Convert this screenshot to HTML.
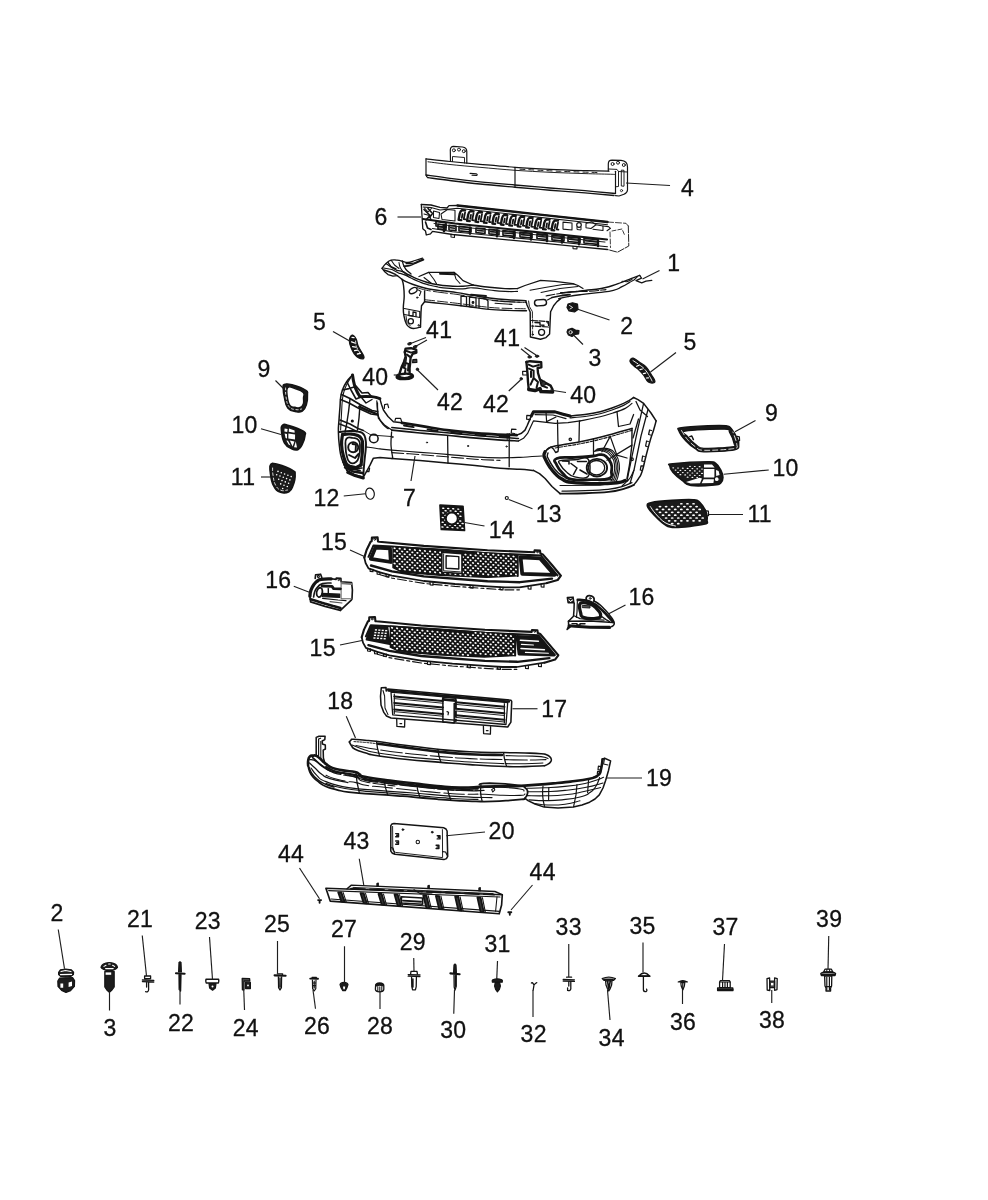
<!DOCTYPE html>
<html lang="en"><head><meta charset="utf-8"><title>Front bumper fascia parts diagram</title>
<style>html,body{margin:0;padding:0;background:#fff}body{width:988px;height:1200px;overflow:hidden}svg{display:block}text{font-family:"Liberation Sans",sans-serif;font-size:23px;letter-spacing:0.3px;fill:#111;stroke:#111;stroke-width:.3px}</style></head><body>
<svg width="988" height="1200" viewBox="0 0 988 1200">
<rect width="988" height="1200" fill="#fff"/>
<g id="part4" fill="none" stroke="#1c1c1c" stroke-width="1" stroke-linejoin="round" stroke-linecap="round">
<path d="M426 158.8 C430 159.25 441 160.58 450 161.5 C459 162.42 469.17 163.33 480 164.3 C490.83 165.27 503.33 166.47 515 167.3 C526.67 168.13 538.33 168.75 550 169.3 C561.67 169.85 575.17 170.28 585 170.6 C594.83 170.92 605 171.1 609 171.2" fill="none" stroke="#141414" stroke-width="1.18" />
<path d="M428 161.8 C431.67 162.25 441.33 163.58 450 164.5 C458.67 165.42 469.17 166.33 480 167.3 C490.83 168.27 503.33 169.47 515 170.3 C526.67 171.13 538.33 171.75 550 172.3 C561.67 172.85 575.17 173.28 585 173.6 C594.83 173.92 604 174.05 609 174.2 C614 174.35 614 174.45 615 174.5" fill="none" stroke="#141414" stroke-width="0.94" />
<path d="M426 175 C430 175.55 441 177.17 450 178.3 C459 179.43 469.17 180.68 480 181.8 C490.83 182.92 503.33 183.97 515 185 C526.67 186.03 538.33 187.05 550 188 C561.67 188.95 574.08 189.78 585 190.7 C595.92 191.62 610.42 193.03 615.5 193.5" fill="none" stroke="#141414" stroke-width="1.3" />
<path d="M428 177.6 C431.67 178.08 441.33 179.43 450 180.5 C458.67 181.57 469.17 182.88 480 184 C490.83 185.12 503.33 186.17 515 187.2 C526.67 188.23 538.33 189.25 550 190.2 C561.67 191.15 574.33 192.02 585 192.9 C595.67 193.78 609.17 195.07 614 195.5" fill="none" stroke="#141414" stroke-width="1.42" />
<path d="M426 158.8 L426 175 Q426.3 177 428 177.6" fill="none" stroke="#141414" stroke-width="1.18" />
<path d="M520 169.2 C526.67 169.55 546.67 170.73 560 171.3 C573.33 171.87 593.33 172.38 600 172.6" fill="none" stroke="#141414" stroke-width="0.94" stroke-dasharray="5 4"/>
<path d="M515 167.3 L515 187" fill="none" stroke="#141414" stroke-width="1.18" />
<path d="M470 173.4 L476.5 173.9 Q478 174.7 476.5 175.5 L472 175.2" fill="none" stroke="#141414" stroke-width="1.06" />
<path d="M450.5 161.5 L450.3 150 Q450.4 146.6 453.5 146.4 L462.5 147 Q466.8 147.6 466.8 151.5 L466.8 163.2" fill="none" stroke="#141414" stroke-width="1.18" />
<path d="M452.5 161.5 L452.5 156.5 L464.5 157.5 L464.5 163" fill="none" stroke="#141414" stroke-width="0.94" />
<circle cx="453.9" cy="150.3" r="1.5" fill="none" stroke="#141414" stroke-width="0.94"/>
<circle cx="459" cy="149.6" r="1.5" fill="none" stroke="#141414" stroke-width="0.94"/>
<circle cx="463.8" cy="151.2" r="1.5" fill="none" stroke="#141414" stroke-width="0.94"/>
<path d="M608.3 171 L608.3 164 Q608.3 160.2 612 160.2 L621 160.4 Q627.5 161 627.5 167 L627.5 190 Q627.3 193 624 194.2 L619 196 L615.5 195.6" fill="none" stroke="#141414" stroke-width="1.18" />
<path d="M615.5 171.3 L615.5 193.5" fill="none" stroke="#141414" stroke-width="1.18" />
<path d="M608.3 169 L617 169.4 L618.5 171.5 L618.5 186.5 L615.5 186.8" fill="none" stroke="#141414" stroke-width="0.94" />
<path d="M621.3 170.5 L621.3 186 L624 186.2 L624 170.7 Z" fill="none" stroke="#141414" stroke-width="0.94" />
<path d="M618.5 171.5 L627.3 172" fill="none" stroke="#141414" stroke-width="0.94" />
<circle cx="612.6" cy="164" r="1.5" fill="none" stroke="#141414" stroke-width="0.94"/>
<circle cx="618" cy="162.7" r="1.5" fill="none" stroke="#141414" stroke-width="0.94"/>
<circle cx="623.8" cy="165" r="1.5" fill="none" stroke="#141414" stroke-width="0.94"/>
<circle cx="621.5" cy="190.6" r="1.1" fill="none" stroke="#141414" stroke-width="0.83"/>
</g>
<g id="part6" fill="none" stroke="#1c1c1c" stroke-width="1" stroke-linejoin="round" stroke-linecap="round">
<path d="M421.3 204.5 L431 205 L440 207.3 L447 208 L449 205.6 L457.5 205.5 L500 210.18 L540 214.57 L575 218.43 L607.5 222" fill="none" stroke="#141414" stroke-width="1.3" />
<path d="M607.5 222 L626 223.3 L628.3 226" fill="none" stroke="#141414" stroke-width="0.83" stroke-dasharray="6 2"/>
<path d="M628.3 226 L628.8 246 L617.5 252.2 L607.5 249.5" fill="none" stroke="#141414" stroke-width="0.94" stroke-dasharray="7 1.5"/>
<path d="M607.5 249.5 L575 246.36 L540 242.97 L500 239.1 L452.5 234.5 L432.5 231.3 L430.5 233.8 L426.3 235 L425.5 231 L422.8 228.8 L421.3 204.5" fill="none" stroke="#141414" stroke-width="1.3" />
<path d="M423 207 L431 207.6 L440 210 L457.5 208.3 L607.5 224.8" fill="none" stroke="#141414" stroke-width="1.06" />
<path d="M423 219 L434 220.5 L455 223.5 L607 239.46" fill="none" stroke="#141414" stroke-width="2.12" />
<path d="M434 223.5 L455 226.3 L605 242.06" fill="none" stroke="#141414" stroke-width="0.94" />
<path d="M432.5 228.6 L452.5 231.8 L607.5 246.7" fill="none" stroke="#141414" stroke-width="1.06" />
<path d="M424.5 208 L428 212 L431.5 208.5 M424 214 L429.5 215.5 L431 219.5 M433.5 211 L439.5 212.5 L439 218.5 L433.5 217.5Z" fill="none" stroke="#141414" stroke-width="1.06" />
<path d="M441 214 L447.5 209.5 L455 210.3 L455 221 L442 219.5Z" fill="none" stroke="#141414" stroke-width="1.06" />
<path d="M424 209.5 L430 215.5 L426 220 M428 208.5 L432.5 213.5 L429.5 217.5 M425.5 222 L427.5 228 L431 229.5 M436 221.5 L446 223 L446 227.5 L436 226Z" fill="none" stroke="#141414" stroke-width="1.65" />
<path d="M465.1 210.41 L462.1 210.11 Q460.3 211.01 459.7 213.81 L458.6 219.81 L461.3 220.11" fill="none" stroke="#141414" stroke-width="2.36" />
<path d="M465.1 212.31 L463.7 219.21 L465.5 219.41 M462.5 214.01 L461.8 217.81" fill="none" stroke="#141414" stroke-width="1.77" />
<path d="M473.55 211.34 L470.55 211.04 Q468.75 211.94 468.15 214.74 L467.05 220.74 L469.75 221.04" fill="none" stroke="#141414" stroke-width="2.36" />
<path d="M473.55 213.24 L472.15 220.14 L473.95 220.34 M470.95 214.94 L470.25 218.74" fill="none" stroke="#141414" stroke-width="1.77" />
<path d="M482 212.27 L479 211.97 Q477.2 212.87 476.6 215.67 L475.5 221.67 L478.2 221.97" fill="none" stroke="#141414" stroke-width="2.36" />
<path d="M482 214.17 L480.6 221.07 L482.4 221.27 M479.4 215.87 L478.7 219.67" fill="none" stroke="#141414" stroke-width="1.77" />
<path d="M490.45 213.2 L487.45 212.9 Q485.65 213.8 485.05 216.6 L483.95 222.6 L486.65 222.9" fill="none" stroke="#141414" stroke-width="2.36" />
<path d="M490.45 215.1 L489.05 222 L490.85 222.2 M487.85 216.8 L487.15 220.6" fill="none" stroke="#141414" stroke-width="1.77" />
<path d="M498.9 214.13 L495.9 213.83 Q494.1 214.73 493.5 217.53 L492.4 223.53 L495.1 223.83" fill="none" stroke="#141414" stroke-width="2.36" />
<path d="M498.9 216.03 L497.5 222.93 L499.3 223.13 M496.3 217.73 L495.6 221.53" fill="none" stroke="#141414" stroke-width="1.77" />
<path d="M507.35 215.06 L504.35 214.76 Q502.55 215.66 501.95 218.46 L500.85 224.46 L503.55 224.76" fill="none" stroke="#141414" stroke-width="2.36" />
<path d="M507.35 216.96 L505.95 223.86 L507.75 224.06 M504.75 218.66 L504.05 222.46" fill="none" stroke="#141414" stroke-width="1.77" />
<path d="M515.8 215.99 L512.8 215.69 Q511 216.59 510.4 219.39 L509.3 225.39 L512 225.69" fill="none" stroke="#141414" stroke-width="2.36" />
<path d="M515.8 217.89 L514.4 224.79 L516.2 224.99 M513.2 219.59 L512.5 223.39" fill="none" stroke="#141414" stroke-width="1.77" />
<path d="M524.25 216.92 L521.25 216.62 Q519.45 217.52 518.85 220.32 L517.75 226.32 L520.45 226.62" fill="none" stroke="#141414" stroke-width="2.36" />
<path d="M524.25 218.82 L522.85 225.72 L524.65 225.92 M521.65 220.52 L520.95 224.32" fill="none" stroke="#141414" stroke-width="1.77" />
<path d="M532.7 217.85 L529.7 217.55 Q527.9 218.45 527.3 221.25 L526.2 227.25 L528.9 227.55" fill="none" stroke="#141414" stroke-width="2.36" />
<path d="M532.7 219.75 L531.3 226.65 L533.1 226.85 M530.1 221.45 L529.4 225.25" fill="none" stroke="#141414" stroke-width="1.77" />
<path d="M541.15 218.78 L538.15 218.48 Q536.35 219.38 535.75 222.18 L534.65 228.18 L537.35 228.48" fill="none" stroke="#141414" stroke-width="2.36" />
<path d="M541.15 220.68 L539.75 227.58 L541.55 227.78 M538.55 222.38 L537.85 226.18" fill="none" stroke="#141414" stroke-width="1.77" />
<path d="M549.6 219.7 L546.6 219.41 Q544.8 220.3 544.2 223.1 L543.1 229.1 L545.8 229.41" fill="none" stroke="#141414" stroke-width="2.36" />
<path d="M549.6 221.6 L548.2 228.5 L550 228.7 M547 223.3 L546.3 227.1" fill="none" stroke="#141414" stroke-width="1.77" />
<path d="M558.05 220.63 L555.05 220.33 Q553.25 221.23 552.65 224.03 L551.55 230.03 L554.25 230.33" fill="none" stroke="#141414" stroke-width="2.36" />
<path d="M558.05 222.53 L556.65 229.43 L558.45 229.63 M555.45 224.23 L554.75 228.03" fill="none" stroke="#141414" stroke-width="1.77" />
<path d="M457.5 205.5 L540 214.57 L607.5 222" fill="none" stroke="#141414" stroke-width="2.36" />
<path d="M563 222.1 L572 223.09 L572 230.09 L563 229.1Z" fill="none" stroke="#141414" stroke-width="1.06" />
<circle cx="579" cy="225" r="2.3" fill="none" stroke="#141414" stroke-width="1.18"/>
<path d="M577 227.2 L577 229.5 L581 230 L581 227.4" fill="none" stroke="#141414" stroke-width="0.94" />
<path d="M586 223.5 L592 221.8 L596 224.8 L591 228.5 L586 227.8Z M596 224.8 L603 226 L603 230.5 L593 229.2" fill="none" stroke="#141414" stroke-width="1.06" />
<path d="M603 226 L608.5 226.6 L610.5 228.3 L607 230.8" fill="none" stroke="#141414" stroke-width="1.06" />
<path d="M438 224.3 L446 225.07 L446 229.67 L438 228.9Z" fill="none" stroke="#141414" stroke-width="1.65" />
<path d="M439.5 226.7 L444.5 227.18" fill="none" stroke="#141414" stroke-width="1.53" />
<path d="M449 225.36 L456 226.04 L456 230.64 L449 229.96Z" fill="none" stroke="#141414" stroke-width="1.65" />
<path d="M450.5 227.76 L454.5 228.15" fill="none" stroke="#141414" stroke-width="1.53" />
<path d="M459 226.33 L471 227.49 L471 232.09 L459 230.93Z" fill="none" stroke="#141414" stroke-width="1.65" />
<path d="M460.5 228.73 L469.5 229.6" fill="none" stroke="#141414" stroke-width="1.53" />
<path d="M476 227.97 L485 228.85 L485 233.45 L476 232.57Z" fill="none" stroke="#141414" stroke-width="1.65" />
<path d="M477.5 230.37 L483.5 230.96" fill="none" stroke="#141414" stroke-width="1.53" />
<path d="M489 229.23 L499 230.2 L499 234.8 L489 233.83Z" fill="none" stroke="#141414" stroke-width="1.65" />
<path d="M490.5 231.63 L497.5 232.31" fill="none" stroke="#141414" stroke-width="1.53" />
<path d="M503 230.59 L515 231.75 L515 236.35 L503 235.19Z" fill="none" stroke="#141414" stroke-width="1.65" />
<path d="M504.5 232.99 L513.5 233.86" fill="none" stroke="#141414" stroke-width="1.53" />
<path d="M520 232.23 L532 233.4 L532 238 L520 236.83Z" fill="none" stroke="#141414" stroke-width="1.65" />
<path d="M521.5 234.63 L530.5 235.51" fill="none" stroke="#141414" stroke-width="1.53" />
<path d="M537 233.88 L547 234.85 L547 239.45 L537 238.48Z" fill="none" stroke="#141414" stroke-width="1.65" />
<path d="M538.5 236.28 L545.5 236.96" fill="none" stroke="#141414" stroke-width="1.53" />
<path d="M552 235.33 L564 236.5 L564 241.1 L552 239.93Z" fill="none" stroke="#141414" stroke-width="1.65" />
<path d="M553.5 237.73 L562.5 238.6" fill="none" stroke="#141414" stroke-width="1.53" />
<path d="M568 236.88 L580 238.04 L580 242.64 L568 241.48Z" fill="none" stroke="#141414" stroke-width="1.65" />
<path d="M569.5 239.28 L578.5 240.15" fill="none" stroke="#141414" stroke-width="1.53" />
<path d="M584 238.43 L598 239.79 L598 244.39 L584 243.03Z" fill="none" stroke="#141414" stroke-width="1.65" />
<path d="M585.5 240.83 L596.5 241.9" fill="none" stroke="#141414" stroke-width="1.53" />
<path d="M444 225.18 L444 231.18" fill="none" stroke="#141414" stroke-width="2.36" />
<path d="M470 227.69 L470 233.69" fill="none" stroke="#141414" stroke-width="2.36" />
<path d="M497 230.31 L497 236.31" fill="none" stroke="#141414" stroke-width="2.36" />
<path d="M514 231.95 L514 237.95" fill="none" stroke="#141414" stroke-width="2.36" />
<path d="M531 233.6 L531 239.6" fill="none" stroke="#141414" stroke-width="2.36" />
<path d="M547 235.15 L547 241.15" fill="none" stroke="#141414" stroke-width="2.36" />
<path d="M562 236.6 L562 242.6" fill="none" stroke="#141414" stroke-width="2.36" />
<path d="M579 238.25 L579 244.25" fill="none" stroke="#141414" stroke-width="2.36" />
<path d="M598 240.08 L598 246.08" fill="none" stroke="#141414" stroke-width="2.36" />
<path d="M451 234.6 L451 237 L454.5 237.5 L454.5 235" fill="none" stroke="#141414" stroke-width="1.06" />
<path d="M573 246.4 L573 248.6 L577 249 L577 246.6" fill="none" stroke="#141414" stroke-width="1.06" />
<path d="M612 231 L622 229 L625 236" fill="none" stroke="#141414" stroke-width="0.83" stroke-dasharray="4 2"/>
<path d="M610 232 L610.5 247.5" fill="none" stroke="#141414" stroke-width="0.83" stroke-dasharray="5 2"/>
</g>
<g id="part1" fill="none" stroke="#1c1c1c" stroke-width="1" stroke-linejoin="round" stroke-linecap="round">
<path d="M382 268.3 C383.07 267.02 383.55 265.66 386 263.5 C388.45 261.34 388.27 261.08 391.2 260.2 C394.13 259.32 394.04 259.93 397 260.2 C399.96 260.47 400.89 260.93 402.3 261.2" fill="none" stroke="#141414" stroke-width="1.3" />
<path d="M382 268.3 L385 272 L388 274.6 L393 276.2 L397.3 275.6" fill="none" stroke="#141414" stroke-width="1.3" />
<path d="M386 263.5 L392 267.8 L397 270.5" fill="none" stroke="#141414" stroke-width="1.06" />
<path d="M391.2 260.2 L394.5 265 L399 268.5" fill="none" stroke="#141414" stroke-width="1.06" />
<path d="M383.5 268 L392 269.5 L398.5 273" fill="none" stroke="#141414" stroke-width="1.06" />
<path d="M402.3 261.2 C403.25 261.42 405.88 262.62 408 262.5 C410.12 262.38 412.57 261.22 415 260.5 C417.43 259.78 421.33 258.58 422.6 258.2" fill="none" stroke="#141414" stroke-width="1.3" />
<path d="M404 266.2 C405 266.08 407.83 266.12 410 265.5 C412.17 264.88 414.73 263.45 417 262.5 C419.27 261.55 422.5 260.25 423.6 259.8" fill="none" stroke="#141414" stroke-width="1.53" />
<path d="M402.3 261.2 C402.5 261.83 402.88 263.62 403.5 265 C404.12 266.38 404.75 268 406 269.5 C407.25 271 410.17 273.25 411 274" fill="none" stroke="#141414" stroke-width="1.3" />
<path d="M399 262.5 C399.17 263.25 399.33 265.5 400 267 C400.67 268.5 401.67 269.97 403 271.5 C404.33 273.03 407.17 275.42 408 276.2" fill="none" stroke="#141414" stroke-width="1.06" />
<path d="M397 270.5 C398.59 270.8 398.7 270.15 402.3 271.5 C405.9 272.85 404.74 272.87 409 275 C413.26 277.13 411.4 276.5 416.5 278.6 C421.6 280.7 419.85 280.2 426 282 C432.15 283.8 429.8 283.4 437 284.6 C444.2 285.8 442.2 285.52 450 286 C457.8 286.48 456.1 286.5 463 286.2 C469.9 285.9 470 285.36 473 285" fill="none" stroke="#141414" stroke-width="1.42" />
<path d="M419 276.5 L428.6 272.3 L454 272.3 L458 275.5 L463 280.6 L473 285" fill="none" stroke="#141414" stroke-width="1.3" />
<path d="M428.6 272.3 L434 279.5 L437 284.5" fill="none" stroke="#141414" stroke-width="1.06" />
<path d="M440 273.8 L455 274.2" fill="none" stroke="#141414" stroke-width="1.89" />
<path d="M454 272.3 L456 279 L460 283.5" fill="none" stroke="#141414" stroke-width="1.06" />
<path d="M424 277.5 L431 283" fill="none" stroke="#141414" stroke-width="1.06" />
<path d="M473 285 C475.73 285.38 484.07 286.7 489.4 287.3 C494.73 287.9 500.32 288.38 505 288.6 C509.68 288.82 515.42 288.6 517.5 288.6" fill="none" stroke="#141414" stroke-width="1.42" />
<path d="M399 273.2 C400.5 273.62 400.4 273.16 404 274.6 C407.6 276.04 406.8 276.02 411 278 C415.2 279.98 413.2 279.28 418 281.2 C422.8 283.12 421 282.66 427 284.4 C433 286.14 431.1 285.8 438 287 C444.9 288.2 442.5 287.86 450 288.4 C457.5 288.94 456.1 288.98 463 288.8 C469.9 288.62 465.08 287.44 473 287.8 C480.92 288.16 479.8 288.92 489.4 290 C499 291.08 496.57 290.98 505 291.4 C513.43 291.82 513.75 291.4 517.5 291.4" fill="none" stroke="#141414" stroke-width="1.18" />
<path d="M384 270 L390 272 L396 274.6" fill="none" stroke="#141414" stroke-width="1.53" />
<path d="M388 262.4 L391 266.6 L396 269" fill="none" stroke="#141414" stroke-width="1.42" />
<path d="M406 263.6 C407.6 263.55 408.8 264.04 412 263.4 C415.2 262.76 415.01 262.37 418 261.2 C420.99 260.03 421.81 259.59 423.2 259" fill="none" stroke="#141414" stroke-width="1.18" />
<path d="M517.2 288.6 L525 285.5 L540.5 280.4 L555 281.4 L572.9 283.6 L578 285.5 L583 288.5" fill="none" stroke="#141414" stroke-width="1.3" />
<path d="M530 290.2 L545 287.5 L563 284.5 L574 284" fill="none" stroke="#141414" stroke-width="1.06" />
<path d="M541 292.5 L560 288.5 L578 286.5" fill="none" stroke="#141414" stroke-width="1.06" />
<path d="M397.3 275.6 C398.08 276.22 400.15 278.13 402 279.3 C403.85 280.47 405.9 281.52 408.4 282.6 C410.9 283.68 413.97 284.82 417 285.8 C420.03 286.78 422.43 287.67 426.6 288.5 C430.77 289.33 436.93 290.12 442 290.8 C447.07 291.48 451.83 291.83 457 292.6 C462.17 293.37 467.6 294.5 473 295.4 C478.4 296.3 483.57 297.27 489.4 298 C495.23 298.73 501.93 299.35 508 299.8 C514.07 300.25 522.83 300.55 525.8 300.7" fill="none" stroke="#141414" stroke-width="1.42" />
<path d="M417 287.6 C418.6 288.05 422.43 289.47 426.6 290.3 C430.77 291.13 436.93 291.92 442 292.6 C447.07 293.28 451.83 293.63 457 294.4 C462.17 295.17 467.6 296.3 473 297.2 C478.4 298.1 483.57 299.07 489.4 299.8 C495.23 300.53 501.93 301.15 508 301.6 C514.07 302.05 522.83 302.35 525.8 302.5" fill="none" stroke="#141414" stroke-width="0.94" stroke-dasharray="14 3"/>
<path d="M424.6 301.7 C427.5 302.02 435.93 302.92 442 303.6 C448.07 304.28 453.1 304.83 461 305.8 C468.9 306.77 481.57 308.63 489.4 309.4 C497.23 310.17 501.82 310.17 508 310.4 C514.18 310.63 523.42 310.73 526.5 310.8" fill="none" stroke="#141414" stroke-width="1.42" />
<path d="M424.6 299.7 C427.5 300.02 435.93 300.92 442 301.6 C448.07 302.28 453.1 302.83 461 303.8 C468.9 304.77 481.57 306.63 489.4 307.4 C497.23 308.17 501.82 308.17 508 308.4 C514.18 308.63 523.42 308.73 526.5 308.8" fill="none" stroke="#141414" stroke-width="0.94" stroke-dasharray="10 3"/>
<path d="M461 296 L461 305.8 M461 296 L466.5 296.6 L466.5 306.3 M469.5 297 L469.5 306.6 L476 307.3 L476 297.8Z M479 298.2 L479 307.6 M479 298.2 L486 299 L488 301 L488 308.4" fill="none" stroke="#141414" stroke-width="1.3" />
<path d="M471 294.6 L486 296" fill="none" stroke="#141414" stroke-width="1.89" />
<circle cx="473" cy="302.5" r="0.9" fill="#222" stroke="#141414" stroke-width="1.06"/>
<path d="M492 300.5 L505 301.6 L520 302.2 M495 303.3 L512 304.4" fill="none" stroke="#141414" stroke-width="1.06" />
<path d="M402 279.3 C402.35 280.75 402.99 281.6 403.5 285.5 C404.01 289.4 404.25 290.8 404.2 296 C404.15 301.2 403.35 303.13 403.3 307.8 C403.25 312.47 403.28 312.22 404 316 C404.72 319.78 405 321.29 406.4 324 C407.8 326.71 408.11 326.57 410 327.6 C411.89 328.63 412.05 328.54 414.5 328.4 C416.95 328.26 419.1 327.33 420.5 327" fill="none" stroke="#141414" stroke-width="1.42" />
<path d="M420.5 327 L421 312 L421.5 305.7 L424.6 301.7 L424.6 291" fill="none" stroke="#141414" stroke-width="1.42" />
<ellipse cx="413.2" cy="290.6" rx="4.2" ry="2.6" fill="none" stroke="#141414" stroke-width="1.42" transform="rotate(-28 413.2 290.6)"/>
<path d="M418.5 290 L421 291.5 L419.5 295.5" fill="none" stroke="#141414" stroke-width="1.06" />
<path d="M404.3 308.5 L419.8 311.5 L419.8 317.5 L404.5 314.5" fill="none" stroke="#141414" stroke-width="1.18" />
<path d="M409 311 L409 315.5 L413 316.2 L413 312 L416 312.5 L416 316.5" fill="none" stroke="#141414" stroke-width="1.3" />
<circle cx="410.8" cy="321.3" r="2.6" fill="none" stroke="#141414" stroke-width="1.3"/>
<circle cx="418.6" cy="325.3" r="0.7" fill="none" stroke="#141414" stroke-width="0.94"/>
<circle cx="417.2" cy="297.6" r="0.7" fill="none" stroke="#141414" stroke-width="0.94"/>
<path d="M406 316 L407 322.5 L410.5 326" fill="none" stroke="#141414" stroke-width="0.94" />
<path d="M525.8 300.7 L527 305 L530.2 312 L530.4 337 L540.5 339.2 L546 337.6 L549.6 334 L550.2 320 L550.6 311.8 L553.6 305.7 L557 301.6 L560.7 298.6" fill="none" stroke="#141414" stroke-width="1.42" />
<path d="M528.6 301 L529.4 306.5 L532.4 311.6 L532.4 318" fill="none" stroke="#141414" stroke-width="0.94" />
<path d="M534.5 302.7 a3 3 0 0 1 3 -3 h6 a3 3 0 0 1 0 6 h-6 a3 3 0 0 1 -3 -3Z" fill="none" stroke="#141414" stroke-width="1.42" transform="rotate(-4 540.5 302.7)"/>
<path d="M547.5 300 L552 297.5" fill="none" stroke="#141414" stroke-width="1.06" />
<path d="M531.5 320.5 L548.5 321.5 L548.5 327 L531.5 326" fill="none" stroke="#141414" stroke-width="1.18" stroke-dasharray="6 1.5"/>
<path d="M535 322.5 L540 322.8 L540 325 L544 325.2" fill="none" stroke="#141414" stroke-width="1.42" />
<circle cx="541.6" cy="332.3" r="3" fill="none" stroke="#141414" stroke-width="1.3"/>
<circle cx="532.8" cy="334.6" r="0.7" fill="none" stroke="#141414" stroke-width="0.94"/>
<circle cx="547.6" cy="322.5" r="0.7" fill="none" stroke="#141414" stroke-width="0.94"/>
<path d="M532.6 319 L532.6 335" fill="none" stroke="#141414" stroke-width="0.83" stroke-dasharray="4 2"/>
<path d="M560.7 292.8 C563.71 292.59 565.52 292.61 572 292 C578.48 291.39 577.21 291.43 585 290.5 C592.79 289.57 594 289.75 601.2 288.5 C608.4 287.25 606.59 287.43 612 285.8 C617.41 284.17 616.43 284.32 621.5 282.4 C626.57 280.48 626.15 280.47 631 278.6 C635.85 276.73 637.38 276.25 639.7 275.4" fill="none" stroke="#141414" stroke-width="1.42" />
<path d="M558.7 298.6 C561.18 298.07 562.05 297.67 568 296.6 C573.95 295.53 573 295.67 581 294.6 C589 293.53 589.36 293.75 598 292.6 C606.64 291.45 607 291.9 613.4 290.3 C619.8 288.7 617.68 288.71 622 286.6 C626.32 284.49 627.57 283.52 629.6 282.4" fill="none" stroke="#141414" stroke-width="1.3" />
<path d="M546 296 C549.73 295.33 552.27 294.7 560 293.5 C567.73 292.3 567 292.09 575 291.5 C583 290.91 581.73 291.81 590 291.3 C598.27 290.79 601.73 290.05 606 289.6" fill="none" stroke="#141414" stroke-width="1.06" stroke-dasharray="9 2"/>
<path d="M552 297.5 L562 295.5 L570 294.6" fill="none" stroke="#141414" stroke-width="1.77" />
<path d="M639.7 275.4 L641.5 278.2 L636 280.6 L641.7 282.8 L646 281.2 L651.8 280.4" fill="none" stroke="#141414" stroke-width="1.3" />
<path d="M629.6 282.4 L634 280 L637.5 276.6" fill="none" stroke="#141414" stroke-width="1.06" />
<path d="M622 281.2 L627 281.8 L632 279.4" fill="none" stroke="#141414" stroke-width="1.06" />
<path d="M568 304 L572.5 302.8 L577.5 304 L578 309.5 L574.5 312 L569 311 L567 307.5Z" fill="#161616" stroke="#141414" stroke-width="1.18" />
<path d="M569.5 305.5 L572 307 M570 309 L572.5 307.5" fill="none" stroke="#ddd" stroke-width="0.94" />
<path d="M568 329.5 L572 328.2 L575.5 330 L579 330.6 L578.6 334 L575 334.4 L572 336.4 L568.4 335 L567 332Z" fill="#161616" stroke="#141414" stroke-width="1.18" />
<circle cx="570.6" cy="332.2" r="1.6" fill="none" stroke="#ddd" stroke-width="0.94"/>
</g>
<g id="part7" fill="none" stroke="#1c1c1c" stroke-width="1" stroke-linejoin="round" stroke-linecap="round">
<path d="M352.5 375 C350.9 376.87 349.17 378 346.5 382 C343.83 386 344.07 385.73 342.5 390 C340.93 394.27 341.27 393.55 340.6 398 C339.93 402.45 340.43 400.83 340 406.7 C339.57 412.57 339.43 413.31 339 420 C338.57 426.69 338.29 424.87 338.4 431.8 C338.51 438.73 338.52 438.88 339.4 446 C340.28 453.12 339.75 452.05 341.7 458.5 C343.65 464.95 345.37 467.08 346.7 470.2" fill="none" stroke="#141414" stroke-width="1.53" />
<path d="M346.7 470.2 L354 474.5 L363.4 477.2 L366.5 471.5 L370 465.2 L373.4 458.2 L380 457.6 L391.8 458.5" fill="none" stroke="#141414" stroke-width="1.53" />
<path d="M391.8 458.5 C396.5 458.85 410.82 459.87 420 460.6 C429.18 461.33 437.73 462.07 446.9 462.9 C456.07 463.73 466.15 464.7 475 465.6 C483.85 466.5 492.5 467.68 500 468.3 C507.5 468.92 514.43 468.95 520 469.3 C525.57 469.65 531.17 470.22 533.4 470.4" fill="none" stroke="#141414" stroke-width="1.53" />
<path d="M533.4 470.4 L539.5 473.6 L545.1 478.5 L552 486.5 L560.1 493.6" fill="none" stroke="#141414" stroke-width="1.53" />
<path d="M560.1 493.6 C564.25 493.55 576.92 493.58 585 493.3 C593.08 493.02 602.43 492.57 608.6 491.9 C614.77 491.23 617.83 490.42 622 489.3 C626.17 488.18 631.67 485.88 633.6 485.2" fill="none" stroke="#141414" stroke-width="1.89" />
<path d="M562 491.2 C565.83 491.12 577.33 491.02 585 490.7 C592.67 490.38 601.83 489.98 608 489.3 C614.17 488.62 618 487.72 622 486.6 C626 485.48 630.33 483.27 632 482.6" fill="none" stroke="#141414" stroke-width="1.18" />
<path d="M633.6 485.2 C634.91 483.44 636.26 482.17 638.5 478.6 C640.74 475.03 640 477.83 642 471.8 C644 465.77 643.79 464.45 646 456 C648.21 447.55 648.27 447.03 650.3 440.1 C652.33 433.17 652.05 435.12 653.6 430 C655.15 424.88 655.43 423.33 656.1 420.9" fill="none" stroke="#141414" stroke-width="1.53" />
<path d="M656.1 420.9 L651 413 L643.6 403.4 L638 399.6 L633.6 397.5" fill="none" stroke="#141414" stroke-width="1.53" />
<path d="M352.5 375 C352.67 376 353.08 379.05 353.5 381 C353.92 382.95 354.33 384.78 355 386.7 C355.67 388.62 356.67 390.83 357.5 392.5 C358.33 394.17 359.58 396 360 396.7" fill="none" stroke="#141414" stroke-width="3.07" />
<path d="M350.5 378 C349.57 379.6 348.73 380.4 347 384 C345.27 387.6 345.23 387.23 344 391.5 C342.77 395.77 343.04 394.53 342.4 400 C341.76 405.47 342.08 404 341.6 412 C341.12 420 340.87 425.2 340.6 430" fill="none" stroke="#141414" stroke-width="1.06" />
<path d="M360 396.7 L366 396.5 L371.7 396.7 L376 397.5 L380 399.2 L381.5 404.5 L383.4 410 L388 416.5 L393.4 421.8 L401.8 422.8" fill="none" stroke="#141414" stroke-width="1.42" />
<path d="M401.8 422.8 C405.67 423.43 417.48 425.38 425 426.6 C432.52 427.82 439.4 429.1 446.9 430.1 C454.4 431.1 461.98 431.9 470 432.6 C478.02 433.3 487.22 433.88 495 434.3 C502.78 434.72 513.08 434.97 516.7 435.1" fill="none" stroke="#141414" stroke-width="2.71" />
<path d="M516.7 435.1 L521.5 433.3 L525 430.1 L527.2 425.5 L529.2 420.9 L531.3 416 L533.4 411.7 L555.1 411.7 L563 414 L570.1 415.9" fill="none" stroke="#141414" stroke-width="1.53" />
<path d="M570.1 415.9 C572.58 415.67 579.98 415.2 585 414.5 C590.02 413.8 595.7 412.78 600.2 411.7 C604.7 410.62 608.1 409.38 612 408 C615.9 406.62 620.77 404.63 623.6 403.4 C626.43 402.17 627.33 401.58 629 400.6 C630.67 399.62 632.83 398.02 633.6 397.5" fill="none" stroke="#141414" stroke-width="1.53" />
<path d="M531.3 416 L533.4 411.9 L555.1 411.9 L563 414.2 L570.1 416.1" fill="none" stroke="#141414" stroke-width="3.07" />
<path d="M570.1 417.9 C572.58 417.67 579.98 417.2 585 416.5 C590.02 415.8 595.7 414.78 600.2 413.7 C604.7 412.62 608.1 411.38 612 410 C615.9 408.62 620.6 406.8 623.6 405.4 C626.6 404 628.93 402.23 630 401.6" fill="none" stroke="#141414" stroke-width="1.18" />
<path d="M535 414.6 L553 415 L566 418.6" fill="none" stroke="#141414" stroke-width="1.18" />
<path d="M546 412 L546.6 421.6 L556 417" fill="none" stroke="#141414" stroke-width="1.18" />
<path d="M376.8 400.9 L377.5 410 L378.4 418.4 L384.5 425 L391.8 430.1" fill="none" stroke="#141414" stroke-width="1.18" />
<path d="M391.8 430.1 C396.5 430.58 410.82 432.13 420 433 C429.18 433.87 438.57 434.53 446.9 435.3 C455.23 436.07 461.98 436.88 470 437.6 C478.02 438.32 486.93 439.03 495 439.6 C503.07 440.17 514.5 440.77 518.4 441" fill="none" stroke="#141414" stroke-width="1.65" />
<path d="M391.8 427.5 C396.5 427.98 410.82 429.53 420 430.4 C429.18 431.27 438.57 431.93 446.9 432.7 C455.23 433.47 461.98 434.28 470 435 C478.02 435.72 486.93 436.43 495 437 C503.07 437.57 514.5 438.17 518.4 438.4" fill="none" stroke="#141414" stroke-width="1.53" />
<path d="M518.4 441 L523.5 438.3 L527.6 433.4 L530.6 427 L533.4 420.9 L555.1 423.4 L568 422.6 L580.2 420.9" fill="none" stroke="#141414" stroke-width="1.18" />
<path d="M580.2 420.9 C583.53 420.2 594.73 418.02 600.2 416.7 C605.67 415.38 608.82 414.38 613 413 C617.18 411.62 622.13 410 625.3 408.4 C628.47 406.8 630.88 404.23 632 403.4" fill="none" stroke="#141414" stroke-width="1.18" />
<path d="M404 425.5 C411.15 426.62 431.73 430.37 446.9 432.2 C462.07 434.03 483.65 435.7 495 436.5 C506.35 437.3 511.67 436.92 515 437" fill="none" stroke="#141414" stroke-width="1.89" stroke-dasharray="10 14"/>
<path d="M384.3 408.4 L384.6 404.6 L387.6 404 L388.6 407.6 M395 420.6 L395.6 418.3 L400.6 418.4 L401.8 422 M530.4 419.6 L526.6 419.2 L526.8 415.4 L531.4 415.6 M514.6 433.5 L511.2 433 L511.6 429.2 L516 429.4" fill="none" stroke="#141414" stroke-width="1.18" />
<path d="M365.9 446.8 C368.25 447.15 375.68 448.33 380 448.9 C384.32 449.47 385.13 449.63 391.8 450.2 C398.47 450.77 410.82 451.62 420 452.3 C429.18 452.98 437.73 453.55 446.9 454.3 C456.07 455.05 466.15 456.22 475 456.8 C483.85 457.38 492.5 457.72 500 457.8 C507.5 457.88 513.03 457.6 520 457.3 C526.97 457 538.17 456.22 541.8 456" fill="none" stroke="#141414" stroke-width="1.18" />
<path d="M391.8 452.6 C396.5 452.93 410.82 453.9 420 454.6 C429.18 455.3 437.73 456.03 446.9 456.8 C456.07 457.57 466.15 458.6 475 459.2 C483.85 459.8 495.83 460.2 500 460.4" fill="none" stroke="#141414" stroke-width="1.06" stroke-dasharray="12 3"/>
<path d="M363.4 430.5 L371 435 L391 436.5" fill="none" stroke="#141414" stroke-width="0.94" />
<path d="M391.6 431.8 C391.5 434 390.8 440.55 391 445 C391.2 449.45 392.5 456.25 392.8 458.5" fill="none" stroke="#141414" stroke-width="1.3" />
<path d="M447.6 436 L448 463.2" fill="none" stroke="#141414" stroke-width="1.3" />
<path d="M509.2 433.6 L509.2 466.8" fill="none" stroke="#141414" stroke-width="1.3" />
<path d="M507.2 433.6 L507.2 440" fill="none" stroke="#141414" stroke-width="0.94" />
<circle cx="427" cy="442.5" r="0.6" fill="none" stroke="#141414" stroke-width="0.94"/>
<circle cx="468" cy="446" r="0.6" fill="none" stroke="#141414" stroke-width="0.94"/>
<circle cx="392.5" cy="437" r="0.6" fill="none" stroke="#141414" stroke-width="0.94"/>
<circle cx="506.5" cy="446.5" r="0.6" fill="none" stroke="#141414" stroke-width="0.94"/>
<circle cx="373.8" cy="438.5" r="4.3" fill="none" stroke="#141414" stroke-width="1.59"/>
<path d="M342.5 390 L349 388.6 L355 386.7" fill="none" stroke="#141414" stroke-width="1.59" />
<path d="M341.5 394.5 L350 398.5 L360 404.5 L372 410.5 L377.5 411.5" fill="none" stroke="#141414" stroke-width="1.76" />
<path d="M340.6 399.5 L349 403 L359 408.5 L371 414 L377.8 415" fill="none" stroke="#141414" stroke-width="1.59" />
<path d="M347 382 L351 390 L356 399 L361 397" fill="none" stroke="#141414" stroke-width="1.59" />
<path d="M356 386 L362 393 L368 392.5 L371.7 396.7" fill="none" stroke="#141414" stroke-width="1.59" />
<path d="M361.5 397.5 L366 403 L372 399.5" fill="none" stroke="#141414" stroke-width="1.44" />
<path d="M350 399 L348.5 412 L346.5 425 L345 432" fill="none" stroke="#141414" stroke-width="1.44" />
<path d="M360 405 L359 418 L357.5 430" fill="none" stroke="#141414" stroke-width="1.44" />
<path d="M340 420 L350 424 L358 428.5 L363.4 430.5" fill="none" stroke="#141414" stroke-width="1.59" />
<path d="M339.6 424 L349 427.6 L357 431.5" fill="none" stroke="#141414" stroke-width="1.44" />
<circle cx="352.3" cy="421" r="0.8" fill="#222" stroke="#141414" stroke-width="1.59"/>
<path d="M339 432 C341.93 431.73 344.93 431.11 350 431 C355.07 430.89 354.43 430.8 358 431.6 C361.57 432.4 361.37 431.76 363.4 434 C365.43 436.24 364.93 436.59 365.6 440 C366.27 443.41 366.06 442.53 365.9 446.8 C365.74 451.07 365.51 450.88 365 456 C364.49 461.12 364.43 460.93 364 466 C363.57 471.07 363.56 472.6 363.4 475" fill="none" stroke="#141414" stroke-width="1.91" />
<path d="M342.5 434.6 C344.5 434.44 346.13 433.81 350 434 C353.87 434.19 353.93 433.97 357 435.3 C360.07 436.63 360.01 436.15 361.5 439 C362.99 441.85 362.47 441.47 362.6 446 C362.73 450.53 362.43 450.93 362 456 C361.57 461.07 361.27 462.6 361 465" fill="none" stroke="#141414" stroke-width="3.19" />
<path d="M342.5 434.6 C342.26 437.37 341.33 439.29 341.6 445 C341.87 450.71 341.93 450.53 343.5 456 C345.07 461.47 344.97 462.17 347.5 465.5 C350.03 468.83 349.4 468.63 353 468.5 C356.6 468.37 358.87 465.93 361 465" fill="none" stroke="#141414" stroke-width="3.19" />
<path d="M346.5 438.6 C348.47 436.2 349.77 437.55 353 438 C356.23 438.45 356.73 437.9 358.6 440.3 C360.47 442.7 359.89 442.81 360 447 C360.11 451.19 360.07 452 359 456 C357.93 460 358.4 460.24 356 462 C353.6 463.76 352.45 464.2 350 462.6 C347.55 461 347.97 460.16 346.8 456 C345.63 451.84 345.68 451.64 345.6 447 C345.52 442.36 344.53 441 346.5 438.6Z" fill="none" stroke="#141414" stroke-width="1.76" />
<circle cx="353.2" cy="447.3" r="5" fill="none" stroke="#141414" stroke-width="1.91"/>
<path d="M352.5 444 L356 444.5 L355.6 451 M349 455 L355 458 L358.5 454" fill="none" stroke="#141414" stroke-width="1.91" />
<path d="M344 461 L350 466.5 L357 468.5 L362 468" fill="none" stroke="#141414" stroke-width="1.59" />
<path d="M345 467.5 L353 471.5 L362.6 473" fill="none" stroke="#141414" stroke-width="2.4" />
<path d="M366.5 471.5 L368.8 471.6 L369.5 468.3" fill="none" stroke="#141414" stroke-width="1.44" />
<path d="M360 396.7 L366 396.3 L371.7 396.7 L376 397.3 L380 398.6" fill="none" stroke="#141414" stroke-width="2.83" />
<path d="M359.2 406.7 L368 410.6 L376.9 414" fill="none" stroke="#141414" stroke-width="2.36" />
<path d="M343 462 L350 465.6 L358 467.4" fill="none" stroke="#141414" stroke-width="1.89" />
<path d="M344 464.6 L351 468.4 L360 470.6" fill="none" stroke="#141414" stroke-width="1.89" />
<path d="M347.7 472.3 L355 475.6 L363.3 478" fill="none" stroke="#141414" stroke-width="3.07" />
<path d="M377.4 403 C377.45 404.87 377.28 406.27 377.6 410 C377.92 413.73 377.16 413.16 378.6 417 C380.04 420.84 380.41 421.31 383 424.4 C385.59 427.49 386.89 427.48 388.3 428.6" fill="none" stroke="#141414" stroke-width="1.42" />
<path d="M545.1 451.8 C545.75 451.17 547.33 448.97 549 448 C550.67 447.03 552.1 446.67 555.1 446 C558.1 445.33 562.82 444.7 567 444 C571.18 443.3 575.53 442.7 580.2 441.8 C584.87 440.9 590.27 439.72 595 438.6 C599.73 437.48 604.43 436.23 608.6 435.1 C612.77 433.97 616.1 432.92 620 431.8 C623.9 430.68 630 428.97 632 428.4" fill="none" stroke="#141414" stroke-width="1.56" />
<path d="M555.1 448 C557.08 447.67 562.82 446.7 567 446 C571.18 445.3 575.53 444.7 580.2 443.8 C584.87 442.9 590.27 441.72 595 440.6 C599.73 439.48 604.43 438.23 608.6 437.1 C612.77 435.97 616.1 434.92 620 433.8 C623.9 432.68 630 430.97 632 430.4" fill="none" stroke="#141414" stroke-width="1.13" stroke-dasharray="3 1.5"/>
<path d="M545.1 451.8 C544.81 452.65 544 453.21 544 455 C544 456.79 543.63 455.43 545.1 458.5 C546.57 461.57 546.83 462.5 549.5 466.5 C552.17 470.5 551.77 470.17 555.1 473.5 C558.43 476.83 557.55 476.63 562 479 C566.45 481.37 563 481.17 571.8 482.4 C580.6 483.63 582.95 483.52 595 483.6 C607.05 483.68 609 483.5 617 482.7 C625 481.9 622.87 481.16 625 480.6" fill="none" stroke="#141414" stroke-width="3.4" />
<path d="M548 453 C547.81 453.8 547.17 454.4 547.3 456 C547.43 457.6 547.11 456.33 548.5 459 C549.89 461.67 550.1 462.53 552.5 466 C554.9 469.47 554.43 469.17 557.5 472 C560.57 474.83 560.13 474.65 564 476.6 C567.87 478.55 563.73 478.29 572 479.3 C580.27 480.31 584.33 480.32 595 480.4 C605.67 480.48 607.47 479.81 612 479.6" fill="none" stroke="#141414" stroke-width="1.42" />
<path d="M632 428.4 L631.9 445 L629.5 465 L627 478.5" fill="none" stroke="#141414" stroke-width="1.42" />
<path d="M547 449.6 L551 447 L553.5 449 L555.6 452.5 L558 451.5 L558.6 446.5" fill="none" stroke="#141414" stroke-width="1.42" />
<path d="M556.8 458.5 C561.35 456.52 565.83 457.93 575 457.3 C584.17 456.68 587.25 456.68 593.5 456 C599.75 455.32 596.88 454.5 600 454.6 C603.12 454.7 603.23 454.17 606 456.4 C608.77 458.62 609.73 459.85 611.1 463.5 C612.48 467.15 612.12 467.25 611.5 471 C610.88 474.75 613.98 476.35 608.6 478.5 C603.23 480.65 599.2 479.38 590 479.6 C580.8 479.83 578.55 480.92 571.8 479.4 C565.05 477.88 566.75 477.05 563 473.5 C559.25 469.95 558.35 468.95 556.8 465.2 C555.25 461.45 552.25 460.48 556.8 458.5Z" fill="none" stroke="#141414" stroke-width="2.83" />
<path d="M560 460.6 C562.92 459.6 569.4 460.12 575 459.8 C580.6 459.48 585.4 455.66 588 459 C590.6 462.34 590.8 472.98 588 476.5 C585.2 480.02 578.4 477.6 574 476.6 C569.6 475.6 568.72 473.86 566 471.5 C563.28 469.14 561.6 466.98 560.4 464.8 C559.2 462.62 557.08 461.6 560 460.6Z" fill="none" stroke="#141414" stroke-width="1.42" />
<path d="M562.5 461 L569 461.2 L569 464 M571 463.5 L577 468 L573.5 474.5 M577.5 461.5 L586.5 461.5 M580 470 L587 474" fill="none" stroke="#141414" stroke-width="1.56" />
<ellipse cx="596.9" cy="467.7" rx="10.2" ry="8.8" fill="none" stroke="#141414" stroke-width="1.84"/>
<ellipse cx="596.5" cy="467.7" rx="8.2" ry="7.2" fill="none" stroke="#141414" stroke-width="1.27"/>
<path d="M594 451.5 C596.4 451.37 598.47 449.67 603 451 C607.53 452.33 607.93 452.77 611 456.5 C614.07 460.23 613.83 460.07 614.5 465 C615.17 469.93 614.43 470.73 613.5 475 C612.57 479.27 611.67 479.4 611 481" fill="none" stroke="#141414" stroke-width="1.13" />
<path d="M595 450.7 C597.53 450.57 599.81 448.81 604.5 450.2 C609.19 451.59 609.51 451.95 612.6 455.9 C615.69 459.85 615.43 459.91 616.1 465 C616.77 470.09 615.98 470.73 615.1 475 C614.22 479.27 613.41 479.4 612.8 481" fill="none" stroke="#141414" stroke-width="1.13" />
<path d="M596 449.9 C598.67 449.77 601.15 447.96 606 449.4 C610.85 450.84 611.08 451.14 614.2 455.3 C617.32 459.46 617.03 459.75 617.7 465 C618.37 470.25 617.53 470.73 616.7 475 C615.87 479.27 615.16 479.4 614.6 481" fill="none" stroke="#141414" stroke-width="1.13" />
<path d="M597 449.1 C599.8 448.97 602.49 447.11 607.5 448.6 C612.51 450.09 612.65 450.33 615.8 454.7 C618.95 459.07 618.63 459.59 619.3 465 C619.97 470.41 619.07 470.73 618.3 475 C617.53 479.27 616.91 479.4 616.4 481" fill="none" stroke="#141414" stroke-width="1.13" />
<path d="M593.5 438.6 L593.5 455 M610.2 436.4 L601.9 451.8 M610.2 436.4 L616.9 455.1 M631.9 445.1 L606.9 460.2 M616.9 455.1 L627 458 M557.5 420.5 L558 447 M579.4 421 L579 441.5 M617 411.8 L618.5 426.5 L630 424 L633.6 414.5" fill="none" stroke="#141414" stroke-width="1.27" />
<path d="M643.6 403.4 L638 428 L631.9 456.8 L626.9 481 M648 409.5 L641 436 L634 470 L630 483.5 M638.5 419 L633 438 M636 401.5 L640 410 L647.5 416.5" fill="none" stroke="#141414" stroke-width="1.27" />
<path d="M651.5 430.5 L649.6 430 L648.6 434.5 L650.5 435 M648.3 441.5 L646.6 441 L645.6 446 L647.3 446.6 M644.3 456.5 L642.6 456 L641.8 461 L643.4 461.4 M642.5 466 L641 465.8 L640.3 470 L641.6 470.3" fill="none" stroke="#141414" stroke-width="1.27" />
<circle cx="570.3" cy="439.3" r="1.2" fill="none" stroke="#141414" stroke-width="1.27"/>
<circle cx="631.9" cy="459.3" r="1.4" fill="none" stroke="#141414" stroke-width="1.27"/>
<path d="M622 486 C623.33 484.67 628 480.67 630 478 C632 475.33 633.33 471.33 634 470" fill="none" stroke="#141414" stroke-width="1.13" />
<path d="M560 485.5 L600 485.3 L628 480.6" fill="none" stroke="#141414" stroke-width="1.13" />
</g>
<g id="side" fill="none" stroke="#1c1c1c" stroke-width="1" stroke-linejoin="round" stroke-linecap="round">
<path d="M352.7 335.1 C353.92 335.52 355.18 336.96 356.3 339.2 C357.42 341.44 356.9 343.16 358.3 346.3 C359.7 349.44 362.2 352.48 363.3 354.9 C364.4 357.32 364.7 357.8 363.8 358.4 C362.9 359 360.72 358.82 358.8 357.9 C356.88 356.98 355.82 356.02 354.2 353.8 C352.58 351.58 351.66 349.22 350.7 346.8 C349.74 344.38 349.5 343.64 349.4 341.7 C349.3 339.76 349.54 338.42 350.2 337.1 C350.86 335.78 351.48 334.68 352.7 335.1Z" fill="#141414" stroke="#141414" stroke-width="1.18" />
<path d="M352 337.4 l2 0.2 M351.6 341.8 l3.2 1.2 M352.6 346.6 l3 0.6 M354.6 350.6 l3 -0.4 M357.4 354 l3 -0.6" fill="none" stroke="#fff" stroke-width="1.3" />
<path d="M355.6 341 C355.83 342.4 355.43 343.97 356.6 347 C357.77 350.03 359.67 352.37 360.6 354" fill="none" stroke="#fff" stroke-width="0.83" stroke-dasharray="3 2"/>
<path d="M630.1 360.1 C630.62 359.18 631.18 357.58 633.2 358.1 C635.22 358.62 637.58 360.88 640.2 362.7 C642.82 364.52 644.06 364.78 646.3 367.2 C648.54 369.62 649.68 371.86 651.4 374.8 C653.12 377.74 655.52 380.44 654.9 381.9 C654.28 383.36 650.52 383.42 648.3 382.1 C646.08 380.78 645.62 377.68 643.8 375.3 C641.98 372.92 641.12 372.02 639.2 370.2 C637.28 368.38 635.92 367.7 634.2 366.2 C632.48 364.7 631.42 363.92 630.6 362.7 C629.78 361.48 629.58 361.02 630.1 360.1Z" fill="#141414" stroke="#141414" stroke-width="1.18" />
<path d="M633 360.6 C634.4 361.53 636.29 362.59 639 364.6 C641.71 366.61 642.17 366.54 644.6 369.2 C647.03 371.86 647.67 373.25 649.4 376 C651.13 378.75 651.39 379.83 652 381" fill="none" stroke="#fff" stroke-width="0.94" stroke-dasharray="6 1.5"/>
<path d="M636.6 366.2 l2.2 -0.8 M640 369.6 l2.4 -0.6 M643.4 373.6 l2.2 -0.4 M646.4 378 l2 -0.2" fill="none" stroke="#fff" stroke-width="1.18" />
<path d="M284.2 384.3 C286.25 383.46 287.05 383.47 292 384.8 C296.95 386.13 301.78 387.71 305.4 390 C309.02 392.29 307.27 391.12 307.5 394.6 C307.73 398.08 307.61 401.05 306.4 404.9 C305.19 408.75 304.7 409.51 302.3 411.1 C299.9 412.69 299.48 412.42 296.1 411.7 C292.72 410.98 290.58 411.5 287.8 408 C285.02 404.5 285.27 401.27 284.2 396.7 C283.13 392.13 283.2 391.29 283.2 388.4 C283.2 385.51 282.15 385.14 284.2 384.3Z M287.3 396.7 C287.79 400.88 288.1 403.03 289.9 405.5 C291.7 407.97 292.6 406.83 295 407.3 C297.4 407.77 298.26 408.29 300.2 407.5 C302.14 406.71 302.53 406.12 303.3 403.9 C304.07 401.68 303.5 400.66 303.5 398 C303.5 395.34 305.28 394.69 303.3 392.5 C301.32 390.31 298.62 389.74 295 388.6 C291.38 387.46 289.6 385.71 287.8 387.6 C286 389.49 286.81 392.52 287.3 396.7Z" fill="#1a1a1a" stroke="#141414" stroke-width="1.42" fill-rule="evenodd"/>
<path d="M285.6 388 C285.69 390.03 285.21 392.36 286 396.7 C286.79 401.04 286.67 403.59 289 406.6 C291.33 409.61 293.08 409.04 296 409.6 C298.92 410.16 300.22 409.14 301.5 409" fill="none" stroke="#fff" stroke-width="0.83" stroke-dasharray="2 2.5"/>
<path d="M282.7 425.1 C284.4 423.65 284.09 424.15 288.9 425.6 C293.71 427.05 299.57 428.9 303.3 431.3 C307.03 433.7 305.13 432.89 304.9 435.9 C304.67 438.91 303.86 441.05 302.3 444.2 C300.74 447.35 300.6 448.3 298.2 449.4 C295.8 450.5 295.15 450.35 292 448.9 C288.85 447.45 287.13 447.19 284.7 443.2 C282.27 439.21 282.07 436.02 281.6 431.8 C281.13 427.58 281 426.55 282.7 425.1Z" fill="#1a1a1a" stroke="#141414" stroke-width="1.65" />
<path d="M288.4 433.4 L295.1 434.4 L295 439.6 L288.4 438.6Z" fill="#fff" stroke="none" stroke-width="0" />
<path d="M284.6 428.6 L287.6 429 L287.2 432 L284.4 431.6Z M284.6 433.6 L287 434 L287 438.4 L285.6 438Z M289 428.6 L294.6 430.4 L294.6 432.8 L288.8 431.8Z M286.4 440.4 L288 440.8 L290.6 445.6 L288.6 444.6Z M289.8 440.6 L294.4 441.4 L292.6 446.4Z M295.8 441.6 L297 447.4 L294 447.2Z" fill="#fff" stroke="none" stroke-width="0" />
<path d="M270.8 464.4 C272.48 462.6 272.55 463.09 277.5 464.4 C282.45 465.71 287.89 467.48 292 470 C296.11 472.52 294.87 471.58 295.1 475.2 C295.33 478.82 294.45 481.65 293 485.5 C291.55 489.35 291.79 490.11 288.9 491.7 C286.01 493.29 284.22 493.75 280.6 492.3 C276.98 490.85 275.8 490.21 273.4 485.5 C271 480.79 270.91 477.02 270.3 472.1 C269.69 467.18 269.12 466.2 270.8 464.4Z" fill="#1a1a1a" stroke="#141414" stroke-width="1.65" />
<path d="M277.2 471.4a0.8 0.8 0 1 0 1.6 0a0.8 0.8 0 1 0 -1.6 -0zM275.9 474.7a0.8 0.8 0 1 0 1.6 0a0.8 0.8 0 1 0 -1.6 -0zM280.5 472.7a0.8 0.8 0 1 0 1.6 0a0.8 0.8 0 1 0 -1.6 -0zM279.2 476a0.8 0.8 0 1 0 1.6 0a0.8 0.8 0 1 0 -1.6 -0zM277.9 479.3a0.8 0.8 0 1 0 1.6 0a0.8 0.8 0 1 0 -1.6 -0zM283.8 474a0.8 0.8 0 1 0 1.6 0a0.8 0.8 0 1 0 -1.6 -0zM282.5 477.3a0.8 0.8 0 1 0 1.6 0a0.8 0.8 0 1 0 -1.6 -0zM281.2 480.6a0.8 0.8 0 1 0 1.6 0a0.8 0.8 0 1 0 -1.6 -0zM279.9 483.9a0.8 0.8 0 1 0 1.6 0a0.8 0.8 0 1 0 -1.6 -0zM287.1 475.3a0.8 0.8 0 1 0 1.6 0a0.8 0.8 0 1 0 -1.6 -0zM285.8 478.6a0.8 0.8 0 1 0 1.6 0a0.8 0.8 0 1 0 -1.6 -0zM284.5 481.9a0.8 0.8 0 1 0 1.6 0a0.8 0.8 0 1 0 -1.6 -0zM283.2 485.2a0.8 0.8 0 1 0 1.6 0a0.8 0.8 0 1 0 -1.6 -0zM281.9 488.5a0.8 0.8 0 1 0 1.6 0a0.8 0.8 0 1 0 -1.6 -0zM290.4 476.6a0.8 0.8 0 1 0 1.6 0a0.8 0.8 0 1 0 -1.6 -0zM289.1 479.9a0.8 0.8 0 1 0 1.6 0a0.8 0.8 0 1 0 -1.6 -0zM287.8 483.2a0.8 0.8 0 1 0 1.6 0a0.8 0.8 0 1 0 -1.6 -0zM286.5 486.5a0.8 0.8 0 1 0 1.6 0a0.8 0.8 0 1 0 -1.6 -0z" fill="#fff" stroke="none"/>
<path d="M272.6 468 C272.69 469.63 272.32 471.03 273 475 C273.68 478.97 273.63 481.43 275.5 485 C277.37 488.57 278.2 489.13 281 490.3 C283.8 491.47 285.98 490.07 287.5 490" fill="none" stroke="#fff" stroke-width="0.83" stroke-dasharray="2.5 2.5"/>
<path d="M678.8 430.8 C678.01 428.38 676.05 428.54 681.4 427.6 C686.75 426.67 699.8 426.05 708 425.7 C716.2 425.35 721.81 425.17 726.1 425.7 C730.39 426.23 729.25 426.11 731.4 428.6 C733.54 431.09 736.44 436.37 737.8 439.3 C739.16 442.23 739.39 442.66 738.8 444.6 C738.21 446.54 741.02 448.58 734.6 449.9 C728.18 451.22 711 452 703.8 451.8 C696.59 451.6 698.62 450.82 695.3 448.8 C691.98 446.78 688.73 444.1 685.7 440.8 C682.68 437.5 679.59 433.22 678.8 430.8Z M687.4 436.4 C689.27 438.77 693.87 443.2 696.6 445.2 C699.33 447.2 697.87 448.13 703.8 448.4 C709.73 448.67 727.13 447.53 732.2 446.8 C737.27 446.07 734.63 446.4 734.2 444 C733.77 441.6 731.2 434.87 729.6 432.4 C728 429.93 731.97 429.43 724.6 429.2 C717.23 428.97 691.6 429.8 685.4 431 C679.2 432.2 685.53 434.03 687.4 436.4Z" fill="#1a1a1a" stroke="#141414" stroke-width="1.3" fill-rule="evenodd"/>
<path d="M681.5 430.5 C682.6 432.15 684.84 436.44 687.5 439.5 C690.16 442.56 692.98 445.22 696 447.2 C699.02 449.18 697.12 450.04 704 450.3 C710.88 450.56 727.49 449.66 733.5 448.6 C739.51 447.54 736.89 447.54 736.8 444.5 C736.71 441.46 733.7 434.29 733 432" fill="none" stroke="#fff" stroke-width="0.83" stroke-dasharray="5 3"/>
<path d="M737.2 436.3 L739.4 436.8 L739.6 440.6 L738 440.8" fill="none" stroke="#141414" stroke-width="1.18" />
<path d="M689.8 436.6 L691.8 436 L693.4 439.6" fill="none" stroke="#141414" stroke-width="1.42" />
<path d="M669.8 465.8 C669.8 464.24 665.9 464.43 672.9 463.7 C679.9 462.97 700.19 461.89 708 461.8 C715.81 461.71 713.15 461.68 715.5 463.2 C717.85 464.72 719.44 467.48 720.8 470.1 C722.16 472.72 722.9 475.17 722.9 477.5 C722.9 479.83 722.36 481.43 720.8 482.8 C719.24 484.18 719.86 484.5 714.4 485 C708.94 485.5 696.85 486.29 691 485.5 C685.15 484.71 685.82 483.14 682.5 480.7 C679.18 478.26 675.23 474.93 672.9 472.2 C670.57 469.47 669.8 467.36 669.8 465.8Z" fill="#1a1a1a" stroke="#141414" stroke-width="1.65" />
<path d="M672.2 467.8a1 0.62 0 1 0 2 0a1 0.62 0 1 0 -2 -0zM674.6 470.1a1 0.62 0 1 0 2 0a1 0.62 0 1 0 -2 -0zM677 472.4a1 0.62 0 1 0 2 0a1 0.62 0 1 0 -2 -0zM679.4 474.7a1 0.62 0 1 0 2 0a1 0.62 0 1 0 -2 -0zM677 468a1 0.62 0 1 0 2 0a1 0.62 0 1 0 -2 -0zM679.4 470.3a1 0.62 0 1 0 2 0a1 0.62 0 1 0 -2 -0zM681.8 472.6a1 0.62 0 1 0 2 0a1 0.62 0 1 0 -2 -0zM684.2 474.9a1 0.62 0 1 0 2 0a1 0.62 0 1 0 -2 -0zM686.6 477.2a1 0.62 0 1 0 2 0a1 0.62 0 1 0 -2 -0zM681.8 468.2a1 0.62 0 1 0 2 0a1 0.62 0 1 0 -2 -0zM684.2 470.5a1 0.62 0 1 0 2 0a1 0.62 0 1 0 -2 -0zM686.6 472.8a1 0.62 0 1 0 2 0a1 0.62 0 1 0 -2 -0zM689 475.1a1 0.62 0 1 0 2 0a1 0.62 0 1 0 -2 -0zM691.4 477.4a1 0.62 0 1 0 2 0a1 0.62 0 1 0 -2 -0zM686.6 468.4a1 0.62 0 1 0 2 0a1 0.62 0 1 0 -2 -0zM689 470.7a1 0.62 0 1 0 2 0a1 0.62 0 1 0 -2 -0zM691.4 473a1 0.62 0 1 0 2 0a1 0.62 0 1 0 -2 -0zM693.8 475.3a1 0.62 0 1 0 2 0a1 0.62 0 1 0 -2 -0zM696.2 477.6a1 0.62 0 1 0 2 0a1 0.62 0 1 0 -2 -0zM689 466.3a1 0.62 0 1 0 2 0a1 0.62 0 1 0 -2 -0zM691.4 468.6a1 0.62 0 1 0 2 0a1 0.62 0 1 0 -2 -0zM693.8 470.9a1 0.62 0 1 0 2 0a1 0.62 0 1 0 -2 -0zM696.2 473.2a1 0.62 0 1 0 2 0a1 0.62 0 1 0 -2 -0zM698.6 475.5a1 0.62 0 1 0 2 0a1 0.62 0 1 0 -2 -0zM693.8 466.5a1 0.62 0 1 0 2 0a1 0.62 0 1 0 -2 -0zM696.2 468.8a1 0.62 0 1 0 2 0a1 0.62 0 1 0 -2 -0zM698.6 471.1a1 0.62 0 1 0 2 0a1 0.62 0 1 0 -2 -0zM701 473.4a1 0.62 0 1 0 2 0a1 0.62 0 1 0 -2 -0zM698.6 466.7a1 0.62 0 1 0 2 0a1 0.62 0 1 0 -2 -0zM701 469a1 0.62 0 1 0 2 0a1 0.62 0 1 0 -2 -0z" fill="#fff" stroke="none"/>
<path d="M703.8 469 L714.4 469 L714.4 477.5 L703.8 477.5Z" fill="#fff" stroke="none" stroke-width="0" />
<path d="M686 482 L699.5 477.8 L702 478.6 L700 483.2 L690.6 483.4Z M703.6 479.2 L714 479.2 L713.4 483 L701.6 483.2Z M716 470 L718.6 471 L719.6 475 L716.2 476Z M704 464.4 L712 464.6 L714.6 467.4 L704 467.4Z" fill="#fff" stroke="none" stroke-width="0" />
<circle cx="716.8" cy="479.2" r="2.4" fill="#fff" stroke="#141414" stroke-width="1.06"/>
<path d="M647.4 506.2 C647.01 503.96 647.21 503.56 651.7 502.5 C656.19 501.44 664.31 500.89 671.9 500.4 C679.49 499.9 688.04 499.51 693.1 499.8 C698.16 500.09 697.15 499.86 699.5 502 C701.85 504.14 704.52 508.2 705.9 511.5 C707.27 514.8 707.38 517.65 707 520 C706.62 522.35 709.65 522.92 703.8 524.3 C697.95 525.67 682.32 527.5 675.1 527.5 C667.88 527.5 668.3 526.65 664.4 524.3 C660.5 521.95 656.92 518.02 653.8 514.7 C650.68 511.38 647.78 508.44 647.4 506.2Z" fill="#1a1a1a" stroke="#141414" stroke-width="1.65" />
<path d="M655.5 509.45a1.45 0.85 0 1 0 2.9 0a1.45 0.85 0 1 0 -2.9 -0zM658.55 512.3a1.45 0.85 0 1 0 2.9 0a1.45 0.85 0 1 0 -2.9 -0zM661.6 515.15a1.45 0.85 0 1 0 2.9 0a1.45 0.85 0 1 0 -2.9 -0zM664.65 518a1.45 0.85 0 1 0 2.9 0a1.45 0.85 0 1 0 -2.9 -0zM667.7 520.85a1.45 0.85 0 1 0 2.9 0a1.45 0.85 0 1 0 -2.9 -0zM670.75 523.7a1.45 0.85 0 1 0 2.9 0a1.45 0.85 0 1 0 -2.9 -0zM658.55 506.6a1.45 0.85 0 1 0 2.9 0a1.45 0.85 0 1 0 -2.9 -0zM661.6 509.45a1.45 0.85 0 1 0 2.9 0a1.45 0.85 0 1 0 -2.9 -0zM664.65 512.3a1.45 0.85 0 1 0 2.9 0a1.45 0.85 0 1 0 -2.9 -0zM667.7 515.15a1.45 0.85 0 1 0 2.9 0a1.45 0.85 0 1 0 -2.9 -0zM670.75 518a1.45 0.85 0 1 0 2.9 0a1.45 0.85 0 1 0 -2.9 -0zM673.8 520.85a1.45 0.85 0 1 0 2.9 0a1.45 0.85 0 1 0 -2.9 -0zM676.85 523.7a1.45 0.85 0 1 0 2.9 0a1.45 0.85 0 1 0 -2.9 -0zM664.65 506.6a1.45 0.85 0 1 0 2.9 0a1.45 0.85 0 1 0 -2.9 -0zM667.7 509.45a1.45 0.85 0 1 0 2.9 0a1.45 0.85 0 1 0 -2.9 -0zM670.75 512.3a1.45 0.85 0 1 0 2.9 0a1.45 0.85 0 1 0 -2.9 -0zM673.8 515.15a1.45 0.85 0 1 0 2.9 0a1.45 0.85 0 1 0 -2.9 -0zM676.85 518a1.45 0.85 0 1 0 2.9 0a1.45 0.85 0 1 0 -2.9 -0zM679.9 520.85a1.45 0.85 0 1 0 2.9 0a1.45 0.85 0 1 0 -2.9 -0zM670.75 506.6a1.45 0.85 0 1 0 2.9 0a1.45 0.85 0 1 0 -2.9 -0zM673.8 509.45a1.45 0.85 0 1 0 2.9 0a1.45 0.85 0 1 0 -2.9 -0zM676.85 512.3a1.45 0.85 0 1 0 2.9 0a1.45 0.85 0 1 0 -2.9 -0zM679.9 515.15a1.45 0.85 0 1 0 2.9 0a1.45 0.85 0 1 0 -2.9 -0zM682.95 518a1.45 0.85 0 1 0 2.9 0a1.45 0.85 0 1 0 -2.9 -0zM686 520.85a1.45 0.85 0 1 0 2.9 0a1.45 0.85 0 1 0 -2.9 -0zM676.85 506.6a1.45 0.85 0 1 0 2.9 0a1.45 0.85 0 1 0 -2.9 -0zM679.9 509.45a1.45 0.85 0 1 0 2.9 0a1.45 0.85 0 1 0 -2.9 -0zM682.95 512.3a1.45 0.85 0 1 0 2.9 0a1.45 0.85 0 1 0 -2.9 -0zM686 515.15a1.45 0.85 0 1 0 2.9 0a1.45 0.85 0 1 0 -2.9 -0zM689.05 518a1.45 0.85 0 1 0 2.9 0a1.45 0.85 0 1 0 -2.9 -0zM692.1 520.85a1.45 0.85 0 1 0 2.9 0a1.45 0.85 0 1 0 -2.9 -0zM679.9 503.75a1.45 0.85 0 1 0 2.9 0a1.45 0.85 0 1 0 -2.9 -0zM682.95 506.6a1.45 0.85 0 1 0 2.9 0a1.45 0.85 0 1 0 -2.9 -0zM686 509.45a1.45 0.85 0 1 0 2.9 0a1.45 0.85 0 1 0 -2.9 -0zM689.05 512.3a1.45 0.85 0 1 0 2.9 0a1.45 0.85 0 1 0 -2.9 -0zM692.1 515.15a1.45 0.85 0 1 0 2.9 0a1.45 0.85 0 1 0 -2.9 -0zM695.15 518a1.45 0.85 0 1 0 2.9 0a1.45 0.85 0 1 0 -2.9 -0zM698.2 520.85a1.45 0.85 0 1 0 2.9 0a1.45 0.85 0 1 0 -2.9 -0zM686 503.75a1.45 0.85 0 1 0 2.9 0a1.45 0.85 0 1 0 -2.9 -0zM689.05 506.6a1.45 0.85 0 1 0 2.9 0a1.45 0.85 0 1 0 -2.9 -0zM692.1 509.45a1.45 0.85 0 1 0 2.9 0a1.45 0.85 0 1 0 -2.9 -0zM695.15 512.3a1.45 0.85 0 1 0 2.9 0a1.45 0.85 0 1 0 -2.9 -0zM698.2 515.15a1.45 0.85 0 1 0 2.9 0a1.45 0.85 0 1 0 -2.9 -0zM701.25 518a1.45 0.85 0 1 0 2.9 0a1.45 0.85 0 1 0 -2.9 -0zM692.1 503.75a1.45 0.85 0 1 0 2.9 0a1.45 0.85 0 1 0 -2.9 -0zM695.15 506.6a1.45 0.85 0 1 0 2.9 0a1.45 0.85 0 1 0 -2.9 -0zM698.2 509.45a1.45 0.85 0 1 0 2.9 0a1.45 0.85 0 1 0 -2.9 -0z" fill="#fff" stroke="none"/>
<path d="M650.4 506.6 C651.42 508 652.58 510.4 655.5 513.6 C658.42 516.8 661 520.12 665 522.6 C669 525.08 673.4 525.32 675.5 526" fill="none" stroke="#fff" stroke-width="0.94" />
<path d="M706.4 510.8 L708.4 511.2 L708.6 515.6 L706.8 515.8" fill="none" stroke="#141414" stroke-width="1.18" />
<ellipse cx="370" cy="493.7" rx="4.3" ry="5.6" fill="none" stroke="#141414" stroke-width="1.18" transform="rotate(-10 370 493.7)"/>
<circle cx="506.8" cy="498" r="1.5" fill="none" stroke="#141414" stroke-width="1.18"/>
<path d="M440.1 505.1 L462.9 506.4 L464.4 530.4 L441.4 529.4Z" fill="#141414" stroke="#141414" stroke-width="1.89" />
<path d="M441.16 526.83a1.25 0.7 8 1 0 2.48 0.35a1.25 0.7 8 1 0 -2.48 -0.35zM441.36 522.13a1.25 0.7 8 1 0 2.48 0.35a1.25 0.7 8 1 0 -2.48 -0.35zM443.76 524.63a1.25 0.7 8 1 0 2.48 0.35a1.25 0.7 8 1 0 -2.48 -0.35zM446.16 527.13a1.25 0.7 8 1 0 2.48 0.35a1.25 0.7 8 1 0 -2.48 -0.35zM441.56 517.43a1.25 0.7 8 1 0 2.48 0.35a1.25 0.7 8 1 0 -2.48 -0.35zM443.96 519.93a1.25 0.7 8 1 0 2.48 0.35a1.25 0.7 8 1 0 -2.48 -0.35zM446.36 522.43a1.25 0.7 8 1 0 2.48 0.35a1.25 0.7 8 1 0 -2.48 -0.35zM448.76 524.93a1.25 0.7 8 1 0 2.48 0.35a1.25 0.7 8 1 0 -2.48 -0.35zM451.16 527.43a1.25 0.7 8 1 0 2.48 0.35a1.25 0.7 8 1 0 -2.48 -0.35zM441.76 512.73a1.25 0.7 8 1 0 2.48 0.35a1.25 0.7 8 1 0 -2.48 -0.35zM444.16 515.23a1.25 0.7 8 1 0 2.48 0.35a1.25 0.7 8 1 0 -2.48 -0.35zM446.56 517.73a1.25 0.7 8 1 0 2.48 0.35a1.25 0.7 8 1 0 -2.48 -0.35zM448.96 520.23a1.25 0.7 8 1 0 2.48 0.35a1.25 0.7 8 1 0 -2.48 -0.35zM451.36 522.73a1.25 0.7 8 1 0 2.48 0.35a1.25 0.7 8 1 0 -2.48 -0.35zM453.76 525.23a1.25 0.7 8 1 0 2.48 0.35a1.25 0.7 8 1 0 -2.48 -0.35zM456.16 527.73a1.25 0.7 8 1 0 2.48 0.35a1.25 0.7 8 1 0 -2.48 -0.35zM441.96 508.03a1.25 0.7 8 1 0 2.48 0.35a1.25 0.7 8 1 0 -2.48 -0.35zM444.36 510.53a1.25 0.7 8 1 0 2.48 0.35a1.25 0.7 8 1 0 -2.48 -0.35zM446.76 513.03a1.25 0.7 8 1 0 2.48 0.35a1.25 0.7 8 1 0 -2.48 -0.35zM449.16 515.53a1.25 0.7 8 1 0 2.48 0.35a1.25 0.7 8 1 0 -2.48 -0.35zM451.56 518.03a1.25 0.7 8 1 0 2.48 0.35a1.25 0.7 8 1 0 -2.48 -0.35zM453.96 520.53a1.25 0.7 8 1 0 2.48 0.35a1.25 0.7 8 1 0 -2.48 -0.35zM456.36 523.03a1.25 0.7 8 1 0 2.48 0.35a1.25 0.7 8 1 0 -2.48 -0.35zM458.76 525.53a1.25 0.7 8 1 0 2.48 0.35a1.25 0.7 8 1 0 -2.48 -0.35zM461.16 528.03a1.25 0.7 8 1 0 2.48 0.35a1.25 0.7 8 1 0 -2.48 -0.35zM446.96 508.33a1.25 0.7 8 1 0 2.48 0.35a1.25 0.7 8 1 0 -2.48 -0.35zM449.36 510.83a1.25 0.7 8 1 0 2.48 0.35a1.25 0.7 8 1 0 -2.48 -0.35zM451.76 513.33a1.25 0.7 8 1 0 2.48 0.35a1.25 0.7 8 1 0 -2.48 -0.35zM454.16 515.83a1.25 0.7 8 1 0 2.48 0.35a1.25 0.7 8 1 0 -2.48 -0.35zM456.56 518.33a1.25 0.7 8 1 0 2.48 0.35a1.25 0.7 8 1 0 -2.48 -0.35zM458.96 520.83a1.25 0.7 8 1 0 2.48 0.35a1.25 0.7 8 1 0 -2.48 -0.35zM461.36 523.33a1.25 0.7 8 1 0 2.48 0.35a1.25 0.7 8 1 0 -2.48 -0.35zM451.96 508.63a1.25 0.7 8 1 0 2.48 0.35a1.25 0.7 8 1 0 -2.48 -0.35zM454.36 511.13a1.25 0.7 8 1 0 2.48 0.35a1.25 0.7 8 1 0 -2.48 -0.35zM456.76 513.63a1.25 0.7 8 1 0 2.48 0.35a1.25 0.7 8 1 0 -2.48 -0.35zM459.16 516.13a1.25 0.7 8 1 0 2.48 0.35a1.25 0.7 8 1 0 -2.48 -0.35zM456.96 508.93a1.25 0.7 8 1 0 2.48 0.35a1.25 0.7 8 1 0 -2.48 -0.35zM459.36 511.43a1.25 0.7 8 1 0 2.48 0.35a1.25 0.7 8 1 0 -2.48 -0.35z" fill="#fff" stroke="none"/>
<circle cx="451.8" cy="518.5" r="6" fill="#fff" stroke="#141414" stroke-width="2.01"/>
<path d="M404.8 352 L405.6 348.6 L411 348.2 L416.2 349.6 L416.4 352.6 L412.6 354 L410.6 357.6 L410.2 362.6 L409.6 368 L409.6 373.4" fill="none" stroke="#141414" stroke-width="2.36" />
<path d="M404.8 352 L405.6 356.6 L404.2 361.6 L401.6 367 L399.6 373.4" fill="none" stroke="#141414" stroke-width="2.36" />
<path d="M406.6 351 L411 352.6 L415.6 351.4 M407 354.6 L409.6 356.6 M404.6 362.6 L408.6 364 L408 370.6 M402.6 367 L405.6 368.6 L405 373" fill="none" stroke="#141414" stroke-width="2.01" />
<path d="M412.9 359.6 L416.7 359.4 L416.9 362.4 L412.6 362.6Z" fill="#444" stroke="#141414" stroke-width="1.18" />
<ellipse cx="404.8" cy="376.4" rx="8.2" ry="2.7" fill="none" stroke="#141414" stroke-width="2.36" transform="rotate(-3 404.8 376.4)"/>
<path d="M398 376.6 Q404.8 380.6 411.6 376.2" fill="none" stroke="#141414" stroke-width="3.07" />
<path d="M402.6 366 L404.6 358 L406.6 357 L405.6 366Z" fill="#222" stroke="#141414" stroke-width="0.94" />
<ellipse cx="409.6" cy="343.7" rx="1.9" ry="1.1" fill="#222" stroke="#141414" stroke-width="0.94" transform="rotate(-15 409.6 343.7)"/>
<ellipse cx="415.2" cy="346.7" rx="1.9" ry="1.1" fill="#222" stroke="#141414" stroke-width="0.94" transform="rotate(-15 415.2 346.7)"/>
<circle cx="417.4" cy="369.3" r="1.3" fill="#222" stroke="#141414" stroke-width="0.71"/>
<path d="M526.4 362 L530 361.2 L541.2 362.2 L541.4 367.4 L537.6 368 L538 373 L540 379.6 L545 382.6 L550.6 385.6 L552.6 389.6" fill="none" stroke="#141414" stroke-width="2.36" />
<path d="M526.4 362 L527 368 L527.6 375 L528 382 L528.8 389.6" fill="none" stroke="#141414" stroke-width="2.36" />
<path d="M528.8 389.4 L535 390.6 L540 388.6 L541 391.6 L552.6 392" fill="none" stroke="#141414" stroke-width="3.54" />
<path d="M528.6 364.6 L533 366.6 L539 365 M529 368.6 L533.6 370.6 L533.6 378 L530.6 384.6 M533.6 378 L538 382 L536.6 387.6 M540 379.6 L541.6 385.6 L547 387.6 M531 371.6 L531 377" fill="none" stroke="#141414" stroke-width="2.01" />
<path d="M522.6 371.4 L527.4 371.4 L527.6 375 L522.8 375Z" fill="none" stroke="#141414" stroke-width="1.18" />
<path d="M541 382.6 L544.6 381 L546 384.6 L542.6 386Z" fill="#333" stroke="#141414" stroke-width="0.94" />
<ellipse cx="529.6" cy="357" rx="1.8" ry="1.1" fill="#222" stroke="#141414" stroke-width="0.94"/>
<ellipse cx="537" cy="356.2" rx="1.8" ry="1.1" fill="#222" stroke="#141414" stroke-width="0.94"/>
<circle cx="521.2" cy="378.8" r="1.3" fill="#222" stroke="#141414" stroke-width="0.71"/>
<path d="M315.2 578.4 L315.6 574.8 L320.6 574.2 L321.8 577.6" fill="none" stroke="#141414" stroke-width="1.65" />
<circle cx="318.4" cy="576.4" r="1" fill="none" stroke="#141414" stroke-width="1.06"/>
<path d="M309.9 596.2 C310.19 594.55 309.85 593.23 311 590 C312.15 586.77 312.47 586.5 314.2 584.1 C315.93 581.7 315.61 582.25 317.5 581 C319.39 579.75 317.65 579.99 321.3 579.4 C324.95 578.81 328.56 578.96 331.2 578.8" fill="none" stroke="#141414" stroke-width="3.3" />
<path d="M313.6 597 C313.97 595.4 313.83 593.77 315 591 C316.17 588.23 315.97 588.57 318 586.6 C320.03 584.63 319.13 584.56 322.6 583.6 C326.07 582.64 328.76 583.16 331 583" fill="none" stroke="#141414" stroke-width="1.65" />
<path d="M331.2 578.8 L336.1 579.4 L336.3 578 L340.9 578.2 L341.1 581.7 L351.6 582.6 L352.4 590 L352 599 L351 600.4 L340.4 610.4" fill="none" stroke="#141414" stroke-width="1.65" />
<circle cx="338.6" cy="579.8" r="0.8" fill="none" stroke="#141414" stroke-width="0.94"/>
<path d="M341.1 581.7 L341.1 598.6 L351.8 598.8" fill="none" stroke="#666" stroke-width="1.06" />
<path d="M342 583.4 L351.6 584" fill="none" stroke="#777" stroke-width="1.89" />
<path d="M322 586 L332 586.4 L333.6 588.6 L340.4 588.8" fill="none" stroke="#141414" stroke-width="2.83" />
<path d="M322 593.3 L339.7 594.2 L339.7 597.4 L322.5 596.6Z" fill="#161616" stroke="#141414" stroke-width="1.18" />
<path d="M328.3 588.6 L328.3 593.4" fill="none" stroke="#141414" stroke-width="1.42" />
<path d="M318 589 C319.17 587.4 319.83 587.47 321 588 C322.17 588.53 322.29 588.97 322.4 591 C322.51 593.03 322.47 594 321.4 595.6 C320.33 597.2 319.68 597.43 318.4 597 C317.12 596.57 316.71 596.13 316.6 594 C316.49 591.87 316.83 590.6 318 589Z" fill="none" stroke="#141414" stroke-width="1.77" />
<path d="M310.6 599.2 L322 602.8 L340.4 608" fill="none" stroke="#141414" stroke-width="2.6" stroke-dasharray="7 1.2"/>
<path d="M309.9 596.2 L310.6 601.9 L325 606.4 L340.4 610.4" fill="none" stroke="#141414" stroke-width="1.65" />
<path d="M322.6 598.4 L338 600 L346 600.6" fill="none" stroke="#141414" stroke-width="1.18" />
<path d="M330 601.6 L342 603" fill="none" stroke="#555" stroke-width="1.06" />
<path d="M568.2 602.6 L567.4 597.6 L573 597.2 L573.8 602.8Z" fill="none" stroke="#141414" stroke-width="1.65" />
<path d="M568.6 598.4 L572.8 602 M572.6 598.2 L568.8 602" fill="none" stroke="#141414" stroke-width="1.06" />
<path d="M586.2 600.2 C586.38 599.12 585.54 597.92 586.8 596.6 C588.06 595.28 588.36 595.5 590.4 595.8 C592.44 596.1 592.52 595.92 593.6 597.6 C594.68 599.28 593.88 600.26 594 601.4" fill="none" stroke="#141414" stroke-width="1.77" />
<circle cx="590.2" cy="598.4" r="0.9" fill="none" stroke="#141414" stroke-width="0.94"/>
<path d="M577.7 599.9 C579.38 599.98 580.77 599.72 584 600.2 C587.23 600.68 586.87 600.58 589.8 601.7 C592.73 602.82 592.36 602.72 595 604.4 C597.64 606.08 597.3 605.97 599.7 608 C602.1 610.03 601.73 609.73 604 612 C606.27 614.27 605.75 613.83 608.2 616.5 C610.65 619.17 611.87 620.53 613.2 622" fill="none" stroke="#141414" stroke-width="2.6" />
<path d="M594 600.8 C595.6 601.87 597.07 602.4 600 604.8 C602.93 607.2 602.33 606.92 605 609.8 C607.67 612.68 607.71 612.61 610 615.6 C612.29 618.59 612.53 618.6 613.6 621 C614.67 623.4 614.53 623.11 614 624.6 C613.47 626.09 612.24 626.07 611.6 626.6" fill="none" stroke="#141414" stroke-width="1.53" />
<path d="M580.4 603.4 C582.59 601.39 586.22 602.79 590 604 C593.78 605.21 594.13 606.13 596.6 608.6 C599.07 611.07 600.51 612.36 600.6 614.6 C600.69 616.84 600.87 617.5 597 618.2 C593.13 618.9 587.83 618.91 584 617.6 C580.17 616.29 581.44 615.91 580.6 612.6 C579.76 609.29 578.21 605.41 580.4 603.4Z" fill="none" stroke="#141414" stroke-width="3.3" />
<path d="M582.6 605.4 L590 605.8 L590 608 L582.6 607.6Z" fill="#555" stroke="#141414" stroke-width="0.94" />
<path d="M574.2 603.2 L574 610 L573.5 616.3 L568.5 621.3" fill="none" stroke="#141414" stroke-width="1.53" />
<path d="M577.4 600 L577 612 L576.4 617.4" fill="none" stroke="#141414" stroke-width="1.18" />
<path d="M568.5 621.3 L590 621 L612.8 622.4" fill="none" stroke="#141414" stroke-width="1.53" />
<path d="M569.2 625.8 L575 626.2 L590 627.2 L609.6 627.4" fill="none" stroke="#141414" stroke-width="3.07" />
<path d="M568.5 621.3 L568.6 626 L567.1 629.5 L570.6 626.6" fill="none" stroke="#141414" stroke-width="1.53" />
<path d="M572 623.6 L577 623.6 L577 625 L580 625 L580 623.8 L585 623.8" fill="none" stroke="#141414" stroke-width="1.42" />
<path d="M574.6 616 L580 618.6 L590 619.4 L604 620.2" fill="none" stroke="#141414" stroke-width="1.3" />
<path d="M601 616 L606 619.6 L609.6 621.6" fill="none" stroke="#141414" stroke-width="1.3" />
</g>
<g id="grilles" fill="none" stroke="#1c1c1c" stroke-width="1" stroke-linejoin="round" stroke-linecap="round">
<path d="M364.3 557.6 L366.6 550 L370.6 541.7 L371.7 541.3 L371.9 537.6 L377.6 537.4 L378 541.5 L379.1 541.7 L423.8 545.9 L487.5 550.2 L534.3 552.3 L534.6 550.4 L540 550.6 L540.4 553.4 L542.8 554.4 L552 565 L560.9 575.7 L557.7 580 L547 583.1" fill="none" stroke="#141414" stroke-width="2.12" />
<circle cx="374.8" cy="539.4" r="0.9" fill="none" stroke="#141414" stroke-width="0.94"/>
<circle cx="537.4" cy="552" r="0.8" fill="none" stroke="#141414" stroke-width="0.94"/>
<path d="M368.5 556.8 L373.4 545.6 L392 546.6 L423.8 548.9 L487.5 553.2 L541 555.6 L557.4 575.4" fill="none" stroke="#141414" stroke-width="2.01" />
<path d="M364.3 557.6 L365.6 563 L368.5 568.3 L380 572.3 L391.9 575.7 L423.8 581 L455 584 L487.5 586.3 L505 587.4 L519.4 587.4 L547 583.1" fill="none" stroke="#141414" stroke-width="1.77" />
<path d="M380 574.7 L391.9 578.1 L423.8 583.4 L455 586.4 L487.5 588.7 L505 589.8 L519.4 589.8" fill="none" stroke="#141414" stroke-width="1.18" stroke-dasharray="9 3 3 3"/>
<path d="M371 565.5 L392 571.3 L423.8 576.4 L487.5 581.3 L520 582.2 L552 578.6" fill="none" stroke="#141414" stroke-width="2.36" />
<path d="M370 568.8 l0.2 2.6 l2.8 0.3 l0 -2.4" fill="none" stroke="#141414" stroke-width="1.18" />
<path d="M377 571.5 l0.2 2.6 l2.8 0.3 l0 -2.4" fill="none" stroke="#141414" stroke-width="1.18" />
<path d="M386 574 l0.2 2.6 l2.8 0.3 l0 -2.4" fill="none" stroke="#141414" stroke-width="1.18" />
<path d="M430 582.2 l0.2 2.6 l2.8 0.3 l0 -2.4" fill="none" stroke="#141414" stroke-width="1.18" />
<path d="M470 585.3 l0.2 2.6 l2.8 0.3 l0 -2.4" fill="none" stroke="#141414" stroke-width="1.18" />
<path d="M500 587 l0.2 2.6 l2.8 0.3 l0 -2.4" fill="none" stroke="#141414" stroke-width="1.18" />
<path d="M528 586.2 l0.2 2.6 l2.8 0.3 l0 -2.4" fill="none" stroke="#141414" stroke-width="1.18" />
<path d="M541 584.2 l0.2 2.6 l2.8 0.3 l0 -2.4" fill="none" stroke="#141414" stroke-width="1.18" />
<path d="M393 546.6 L440 549.3 L517.3 555.2 L517.3 575.9 L487 577.4 L440 575.2 L402 572 L393 567.6Z" fill="#141414" stroke="#141414" stroke-width="1.42" />
<path d="M393.55 563.12a1.12 0.82 20 1 0 2.1 0.77a1.12 0.82 20 1 0 -2.1 -0.77zM396.08 565.9a1.12 0.82 20 1 0 2.1 0.77a1.12 0.82 20 1 0 -2.1 -0.77zM398.61 568.68a1.12 0.82 20 1 0 2.1 0.77a1.12 0.82 20 1 0 -2.1 -0.77zM393.55 558.02a1.12 0.82 20 1 0 2.1 0.77a1.12 0.82 20 1 0 -2.1 -0.77zM396.08 560.8a1.12 0.82 20 1 0 2.1 0.77a1.12 0.82 20 1 0 -2.1 -0.77zM398.61 563.58a1.12 0.82 20 1 0 2.1 0.77a1.12 0.82 20 1 0 -2.1 -0.77zM401.14 566.36a1.12 0.82 20 1 0 2.1 0.77a1.12 0.82 20 1 0 -2.1 -0.77zM403.67 569.14a1.12 0.82 20 1 0 2.1 0.77a1.12 0.82 20 1 0 -2.1 -0.77zM393.55 552.92a1.12 0.82 20 1 0 2.1 0.77a1.12 0.82 20 1 0 -2.1 -0.77zM396.08 555.7a1.12 0.82 20 1 0 2.1 0.77a1.12 0.82 20 1 0 -2.1 -0.77zM398.61 558.48a1.12 0.82 20 1 0 2.1 0.77a1.12 0.82 20 1 0 -2.1 -0.77zM401.14 561.26a1.12 0.82 20 1 0 2.1 0.77a1.12 0.82 20 1 0 -2.1 -0.77zM403.67 564.04a1.12 0.82 20 1 0 2.1 0.77a1.12 0.82 20 1 0 -2.1 -0.77zM406.2 566.82a1.12 0.82 20 1 0 2.1 0.77a1.12 0.82 20 1 0 -2.1 -0.77zM408.73 569.6a1.12 0.82 20 1 0 2.1 0.77a1.12 0.82 20 1 0 -2.1 -0.77zM393.55 547.82a1.12 0.82 20 1 0 2.1 0.77a1.12 0.82 20 1 0 -2.1 -0.77zM396.08 550.6a1.12 0.82 20 1 0 2.1 0.77a1.12 0.82 20 1 0 -2.1 -0.77zM398.61 553.38a1.12 0.82 20 1 0 2.1 0.77a1.12 0.82 20 1 0 -2.1 -0.77zM401.14 556.16a1.12 0.82 20 1 0 2.1 0.77a1.12 0.82 20 1 0 -2.1 -0.77zM403.67 558.94a1.12 0.82 20 1 0 2.1 0.77a1.12 0.82 20 1 0 -2.1 -0.77zM406.2 561.72a1.12 0.82 20 1 0 2.1 0.77a1.12 0.82 20 1 0 -2.1 -0.77zM408.73 564.5a1.12 0.82 20 1 0 2.1 0.77a1.12 0.82 20 1 0 -2.1 -0.77zM411.26 567.28a1.12 0.82 20 1 0 2.1 0.77a1.12 0.82 20 1 0 -2.1 -0.77zM413.79 570.06a1.12 0.82 20 1 0 2.1 0.77a1.12 0.82 20 1 0 -2.1 -0.77zM398.61 548.28a1.12 0.82 20 1 0 2.1 0.77a1.12 0.82 20 1 0 -2.1 -0.77zM401.14 551.06a1.12 0.82 20 1 0 2.1 0.77a1.12 0.82 20 1 0 -2.1 -0.77zM403.67 553.84a1.12 0.82 20 1 0 2.1 0.77a1.12 0.82 20 1 0 -2.1 -0.77zM406.2 556.62a1.12 0.82 20 1 0 2.1 0.77a1.12 0.82 20 1 0 -2.1 -0.77zM408.73 559.4a1.12 0.82 20 1 0 2.1 0.77a1.12 0.82 20 1 0 -2.1 -0.77zM411.26 562.18a1.12 0.82 20 1 0 2.1 0.77a1.12 0.82 20 1 0 -2.1 -0.77zM413.79 564.96a1.12 0.82 20 1 0 2.1 0.77a1.12 0.82 20 1 0 -2.1 -0.77zM416.32 567.74a1.12 0.82 20 1 0 2.1 0.77a1.12 0.82 20 1 0 -2.1 -0.77zM418.85 570.52a1.12 0.82 20 1 0 2.1 0.77a1.12 0.82 20 1 0 -2.1 -0.77zM403.67 548.74a1.12 0.82 20 1 0 2.1 0.77a1.12 0.82 20 1 0 -2.1 -0.77zM406.2 551.52a1.12 0.82 20 1 0 2.1 0.77a1.12 0.82 20 1 0 -2.1 -0.77zM408.73 554.3a1.12 0.82 20 1 0 2.1 0.77a1.12 0.82 20 1 0 -2.1 -0.77zM411.26 557.08a1.12 0.82 20 1 0 2.1 0.77a1.12 0.82 20 1 0 -2.1 -0.77zM413.79 559.86a1.12 0.82 20 1 0 2.1 0.77a1.12 0.82 20 1 0 -2.1 -0.77zM416.32 562.64a1.12 0.82 20 1 0 2.1 0.77a1.12 0.82 20 1 0 -2.1 -0.77zM418.85 565.42a1.12 0.82 20 1 0 2.1 0.77a1.12 0.82 20 1 0 -2.1 -0.77zM421.38 568.2a1.12 0.82 20 1 0 2.1 0.77a1.12 0.82 20 1 0 -2.1 -0.77zM423.91 570.98a1.12 0.82 20 1 0 2.1 0.77a1.12 0.82 20 1 0 -2.1 -0.77zM408.73 549.2a1.12 0.82 20 1 0 2.1 0.77a1.12 0.82 20 1 0 -2.1 -0.77zM411.26 551.98a1.12 0.82 20 1 0 2.1 0.77a1.12 0.82 20 1 0 -2.1 -0.77zM413.79 554.76a1.12 0.82 20 1 0 2.1 0.77a1.12 0.82 20 1 0 -2.1 -0.77zM416.32 557.54a1.12 0.82 20 1 0 2.1 0.77a1.12 0.82 20 1 0 -2.1 -0.77zM418.85 560.32a1.12 0.82 20 1 0 2.1 0.77a1.12 0.82 20 1 0 -2.1 -0.77zM421.38 563.1a1.12 0.82 20 1 0 2.1 0.77a1.12 0.82 20 1 0 -2.1 -0.77zM423.91 565.88a1.12 0.82 20 1 0 2.1 0.77a1.12 0.82 20 1 0 -2.1 -0.77zM426.44 568.66a1.12 0.82 20 1 0 2.1 0.77a1.12 0.82 20 1 0 -2.1 -0.77zM428.97 571.44a1.12 0.82 20 1 0 2.1 0.77a1.12 0.82 20 1 0 -2.1 -0.77zM413.79 549.66a1.12 0.82 20 1 0 2.1 0.77a1.12 0.82 20 1 0 -2.1 -0.77zM416.32 552.44a1.12 0.82 20 1 0 2.1 0.77a1.12 0.82 20 1 0 -2.1 -0.77zM418.85 555.22a1.12 0.82 20 1 0 2.1 0.77a1.12 0.82 20 1 0 -2.1 -0.77zM421.38 558a1.12 0.82 20 1 0 2.1 0.77a1.12 0.82 20 1 0 -2.1 -0.77zM423.91 560.78a1.12 0.82 20 1 0 2.1 0.77a1.12 0.82 20 1 0 -2.1 -0.77zM426.44 563.56a1.12 0.82 20 1 0 2.1 0.77a1.12 0.82 20 1 0 -2.1 -0.77zM428.97 566.34a1.12 0.82 20 1 0 2.1 0.77a1.12 0.82 20 1 0 -2.1 -0.77zM431.5 569.12a1.12 0.82 20 1 0 2.1 0.77a1.12 0.82 20 1 0 -2.1 -0.77zM434.03 571.9a1.12 0.82 20 1 0 2.1 0.77a1.12 0.82 20 1 0 -2.1 -0.77zM418.85 550.12a1.12 0.82 20 1 0 2.1 0.77a1.12 0.82 20 1 0 -2.1 -0.77zM421.38 552.9a1.12 0.82 20 1 0 2.1 0.77a1.12 0.82 20 1 0 -2.1 -0.77zM423.91 555.68a1.12 0.82 20 1 0 2.1 0.77a1.12 0.82 20 1 0 -2.1 -0.77zM426.44 558.46a1.12 0.82 20 1 0 2.1 0.77a1.12 0.82 20 1 0 -2.1 -0.77zM428.97 561.24a1.12 0.82 20 1 0 2.1 0.77a1.12 0.82 20 1 0 -2.1 -0.77zM431.5 564.02a1.12 0.82 20 1 0 2.1 0.77a1.12 0.82 20 1 0 -2.1 -0.77zM434.03 566.8a1.12 0.82 20 1 0 2.1 0.77a1.12 0.82 20 1 0 -2.1 -0.77zM436.56 569.58a1.12 0.82 20 1 0 2.1 0.77a1.12 0.82 20 1 0 -2.1 -0.77zM439.09 572.36a1.12 0.82 20 1 0 2.1 0.77a1.12 0.82 20 1 0 -2.1 -0.77zM423.91 550.58a1.12 0.82 20 1 0 2.1 0.77a1.12 0.82 20 1 0 -2.1 -0.77zM426.44 553.36a1.12 0.82 20 1 0 2.1 0.77a1.12 0.82 20 1 0 -2.1 -0.77zM428.97 556.14a1.12 0.82 20 1 0 2.1 0.77a1.12 0.82 20 1 0 -2.1 -0.77zM431.5 558.92a1.12 0.82 20 1 0 2.1 0.77a1.12 0.82 20 1 0 -2.1 -0.77zM434.03 561.7a1.12 0.82 20 1 0 2.1 0.77a1.12 0.82 20 1 0 -2.1 -0.77zM436.56 564.48a1.12 0.82 20 1 0 2.1 0.77a1.12 0.82 20 1 0 -2.1 -0.77zM439.09 567.26a1.12 0.82 20 1 0 2.1 0.77a1.12 0.82 20 1 0 -2.1 -0.77zM441.62 570.04a1.12 0.82 20 1 0 2.1 0.77a1.12 0.82 20 1 0 -2.1 -0.77zM444.15 572.82a1.12 0.82 20 1 0 2.1 0.77a1.12 0.82 20 1 0 -2.1 -0.77zM428.97 551.04a1.12 0.82 20 1 0 2.1 0.77a1.12 0.82 20 1 0 -2.1 -0.77zM431.5 553.82a1.12 0.82 20 1 0 2.1 0.77a1.12 0.82 20 1 0 -2.1 -0.77zM434.03 556.6a1.12 0.82 20 1 0 2.1 0.77a1.12 0.82 20 1 0 -2.1 -0.77zM436.56 559.38a1.12 0.82 20 1 0 2.1 0.77a1.12 0.82 20 1 0 -2.1 -0.77zM439.09 562.16a1.12 0.82 20 1 0 2.1 0.77a1.12 0.82 20 1 0 -2.1 -0.77zM441.62 564.94a1.12 0.82 20 1 0 2.1 0.77a1.12 0.82 20 1 0 -2.1 -0.77zM444.15 567.72a1.12 0.82 20 1 0 2.1 0.77a1.12 0.82 20 1 0 -2.1 -0.77zM446.68 570.5a1.12 0.82 20 1 0 2.1 0.77a1.12 0.82 20 1 0 -2.1 -0.77zM449.21 573.28a1.12 0.82 20 1 0 2.1 0.77a1.12 0.82 20 1 0 -2.1 -0.77zM434.03 551.5a1.12 0.82 20 1 0 2.1 0.77a1.12 0.82 20 1 0 -2.1 -0.77zM436.56 554.28a1.12 0.82 20 1 0 2.1 0.77a1.12 0.82 20 1 0 -2.1 -0.77zM439.09 557.06a1.12 0.82 20 1 0 2.1 0.77a1.12 0.82 20 1 0 -2.1 -0.77zM441.62 559.84a1.12 0.82 20 1 0 2.1 0.77a1.12 0.82 20 1 0 -2.1 -0.77zM444.15 562.62a1.12 0.82 20 1 0 2.1 0.77a1.12 0.82 20 1 0 -2.1 -0.77zM446.68 565.4a1.12 0.82 20 1 0 2.1 0.77a1.12 0.82 20 1 0 -2.1 -0.77zM449.21 568.18a1.12 0.82 20 1 0 2.1 0.77a1.12 0.82 20 1 0 -2.1 -0.77zM451.74 570.96a1.12 0.82 20 1 0 2.1 0.77a1.12 0.82 20 1 0 -2.1 -0.77zM454.27 573.74a1.12 0.82 20 1 0 2.1 0.77a1.12 0.82 20 1 0 -2.1 -0.77zM439.09 551.96a1.12 0.82 20 1 0 2.1 0.77a1.12 0.82 20 1 0 -2.1 -0.77zM441.62 554.74a1.12 0.82 20 1 0 2.1 0.77a1.12 0.82 20 1 0 -2.1 -0.77zM444.15 557.52a1.12 0.82 20 1 0 2.1 0.77a1.12 0.82 20 1 0 -2.1 -0.77zM446.68 560.3a1.12 0.82 20 1 0 2.1 0.77a1.12 0.82 20 1 0 -2.1 -0.77zM449.21 563.08a1.12 0.82 20 1 0 2.1 0.77a1.12 0.82 20 1 0 -2.1 -0.77zM451.74 565.86a1.12 0.82 20 1 0 2.1 0.77a1.12 0.82 20 1 0 -2.1 -0.77zM454.27 568.64a1.12 0.82 20 1 0 2.1 0.77a1.12 0.82 20 1 0 -2.1 -0.77zM456.8 571.42a1.12 0.82 20 1 0 2.1 0.77a1.12 0.82 20 1 0 -2.1 -0.77zM459.33 574.2a1.12 0.82 20 1 0 2.1 0.77a1.12 0.82 20 1 0 -2.1 -0.77zM444.15 552.42a1.12 0.82 20 1 0 2.1 0.77a1.12 0.82 20 1 0 -2.1 -0.77zM446.68 555.2a1.12 0.82 20 1 0 2.1 0.77a1.12 0.82 20 1 0 -2.1 -0.77zM449.21 557.98a1.12 0.82 20 1 0 2.1 0.77a1.12 0.82 20 1 0 -2.1 -0.77zM451.74 560.76a1.12 0.82 20 1 0 2.1 0.77a1.12 0.82 20 1 0 -2.1 -0.77zM454.27 563.54a1.12 0.82 20 1 0 2.1 0.77a1.12 0.82 20 1 0 -2.1 -0.77zM456.8 566.32a1.12 0.82 20 1 0 2.1 0.77a1.12 0.82 20 1 0 -2.1 -0.77zM459.33 569.1a1.12 0.82 20 1 0 2.1 0.77a1.12 0.82 20 1 0 -2.1 -0.77zM461.86 571.88a1.12 0.82 20 1 0 2.1 0.77a1.12 0.82 20 1 0 -2.1 -0.77zM464.39 574.66a1.12 0.82 20 1 0 2.1 0.77a1.12 0.82 20 1 0 -2.1 -0.77zM449.21 552.88a1.12 0.82 20 1 0 2.1 0.77a1.12 0.82 20 1 0 -2.1 -0.77zM451.74 555.66a1.12 0.82 20 1 0 2.1 0.77a1.12 0.82 20 1 0 -2.1 -0.77zM454.27 558.44a1.12 0.82 20 1 0 2.1 0.77a1.12 0.82 20 1 0 -2.1 -0.77zM456.8 561.22a1.12 0.82 20 1 0 2.1 0.77a1.12 0.82 20 1 0 -2.1 -0.77zM459.33 564a1.12 0.82 20 1 0 2.1 0.77a1.12 0.82 20 1 0 -2.1 -0.77zM461.86 566.78a1.12 0.82 20 1 0 2.1 0.77a1.12 0.82 20 1 0 -2.1 -0.77zM464.39 569.56a1.12 0.82 20 1 0 2.1 0.77a1.12 0.82 20 1 0 -2.1 -0.77zM466.92 572.34a1.12 0.82 20 1 0 2.1 0.77a1.12 0.82 20 1 0 -2.1 -0.77zM469.45 575.12a1.12 0.82 20 1 0 2.1 0.77a1.12 0.82 20 1 0 -2.1 -0.77zM454.27 553.34a1.12 0.82 20 1 0 2.1 0.77a1.12 0.82 20 1 0 -2.1 -0.77zM456.8 556.12a1.12 0.82 20 1 0 2.1 0.77a1.12 0.82 20 1 0 -2.1 -0.77zM459.33 558.9a1.12 0.82 20 1 0 2.1 0.77a1.12 0.82 20 1 0 -2.1 -0.77zM461.86 561.68a1.12 0.82 20 1 0 2.1 0.77a1.12 0.82 20 1 0 -2.1 -0.77zM464.39 564.46a1.12 0.82 20 1 0 2.1 0.77a1.12 0.82 20 1 0 -2.1 -0.77zM466.92 567.24a1.12 0.82 20 1 0 2.1 0.77a1.12 0.82 20 1 0 -2.1 -0.77zM469.45 570.02a1.12 0.82 20 1 0 2.1 0.77a1.12 0.82 20 1 0 -2.1 -0.77zM471.98 572.8a1.12 0.82 20 1 0 2.1 0.77a1.12 0.82 20 1 0 -2.1 -0.77zM459.33 553.8a1.12 0.82 20 1 0 2.1 0.77a1.12 0.82 20 1 0 -2.1 -0.77zM461.86 556.58a1.12 0.82 20 1 0 2.1 0.77a1.12 0.82 20 1 0 -2.1 -0.77zM464.39 559.36a1.12 0.82 20 1 0 2.1 0.77a1.12 0.82 20 1 0 -2.1 -0.77zM466.92 562.14a1.12 0.82 20 1 0 2.1 0.77a1.12 0.82 20 1 0 -2.1 -0.77zM469.45 564.92a1.12 0.82 20 1 0 2.1 0.77a1.12 0.82 20 1 0 -2.1 -0.77zM471.98 567.7a1.12 0.82 20 1 0 2.1 0.77a1.12 0.82 20 1 0 -2.1 -0.77zM474.51 570.48a1.12 0.82 20 1 0 2.1 0.77a1.12 0.82 20 1 0 -2.1 -0.77zM477.04 573.26a1.12 0.82 20 1 0 2.1 0.77a1.12 0.82 20 1 0 -2.1 -0.77zM464.39 554.26a1.12 0.82 20 1 0 2.1 0.77a1.12 0.82 20 1 0 -2.1 -0.77zM466.92 557.04a1.12 0.82 20 1 0 2.1 0.77a1.12 0.82 20 1 0 -2.1 -0.77zM469.45 559.82a1.12 0.82 20 1 0 2.1 0.77a1.12 0.82 20 1 0 -2.1 -0.77zM471.98 562.6a1.12 0.82 20 1 0 2.1 0.77a1.12 0.82 20 1 0 -2.1 -0.77zM474.51 565.38a1.12 0.82 20 1 0 2.1 0.77a1.12 0.82 20 1 0 -2.1 -0.77zM477.04 568.16a1.12 0.82 20 1 0 2.1 0.77a1.12 0.82 20 1 0 -2.1 -0.77zM479.57 570.94a1.12 0.82 20 1 0 2.1 0.77a1.12 0.82 20 1 0 -2.1 -0.77zM482.1 573.72a1.12 0.82 20 1 0 2.1 0.77a1.12 0.82 20 1 0 -2.1 -0.77zM469.45 554.72a1.12 0.82 20 1 0 2.1 0.77a1.12 0.82 20 1 0 -2.1 -0.77zM471.98 557.5a1.12 0.82 20 1 0 2.1 0.77a1.12 0.82 20 1 0 -2.1 -0.77zM474.51 560.28a1.12 0.82 20 1 0 2.1 0.77a1.12 0.82 20 1 0 -2.1 -0.77zM477.04 563.06a1.12 0.82 20 1 0 2.1 0.77a1.12 0.82 20 1 0 -2.1 -0.77zM479.57 565.84a1.12 0.82 20 1 0 2.1 0.77a1.12 0.82 20 1 0 -2.1 -0.77zM482.1 568.62a1.12 0.82 20 1 0 2.1 0.77a1.12 0.82 20 1 0 -2.1 -0.77zM484.63 571.4a1.12 0.82 20 1 0 2.1 0.77a1.12 0.82 20 1 0 -2.1 -0.77zM487.16 574.18a1.12 0.82 20 1 0 2.1 0.77a1.12 0.82 20 1 0 -2.1 -0.77zM474.51 555.18a1.12 0.82 20 1 0 2.1 0.77a1.12 0.82 20 1 0 -2.1 -0.77zM477.04 557.96a1.12 0.82 20 1 0 2.1 0.77a1.12 0.82 20 1 0 -2.1 -0.77zM479.57 560.74a1.12 0.82 20 1 0 2.1 0.77a1.12 0.82 20 1 0 -2.1 -0.77zM482.1 563.52a1.12 0.82 20 1 0 2.1 0.77a1.12 0.82 20 1 0 -2.1 -0.77zM484.63 566.3a1.12 0.82 20 1 0 2.1 0.77a1.12 0.82 20 1 0 -2.1 -0.77zM487.16 569.08a1.12 0.82 20 1 0 2.1 0.77a1.12 0.82 20 1 0 -2.1 -0.77zM489.69 571.86a1.12 0.82 20 1 0 2.1 0.77a1.12 0.82 20 1 0 -2.1 -0.77zM492.22 574.64a1.12 0.82 20 1 0 2.1 0.77a1.12 0.82 20 1 0 -2.1 -0.77zM477.04 552.86a1.12 0.82 20 1 0 2.1 0.77a1.12 0.82 20 1 0 -2.1 -0.77zM479.57 555.64a1.12 0.82 20 1 0 2.1 0.77a1.12 0.82 20 1 0 -2.1 -0.77zM482.1 558.42a1.12 0.82 20 1 0 2.1 0.77a1.12 0.82 20 1 0 -2.1 -0.77zM484.63 561.2a1.12 0.82 20 1 0 2.1 0.77a1.12 0.82 20 1 0 -2.1 -0.77zM487.16 563.98a1.12 0.82 20 1 0 2.1 0.77a1.12 0.82 20 1 0 -2.1 -0.77zM489.69 566.76a1.12 0.82 20 1 0 2.1 0.77a1.12 0.82 20 1 0 -2.1 -0.77zM492.22 569.54a1.12 0.82 20 1 0 2.1 0.77a1.12 0.82 20 1 0 -2.1 -0.77zM494.75 572.32a1.12 0.82 20 1 0 2.1 0.77a1.12 0.82 20 1 0 -2.1 -0.77zM497.28 575.1a1.12 0.82 20 1 0 2.1 0.77a1.12 0.82 20 1 0 -2.1 -0.77zM482.1 553.32a1.12 0.82 20 1 0 2.1 0.77a1.12 0.82 20 1 0 -2.1 -0.77zM484.63 556.1a1.12 0.82 20 1 0 2.1 0.77a1.12 0.82 20 1 0 -2.1 -0.77zM487.16 558.88a1.12 0.82 20 1 0 2.1 0.77a1.12 0.82 20 1 0 -2.1 -0.77zM489.69 561.66a1.12 0.82 20 1 0 2.1 0.77a1.12 0.82 20 1 0 -2.1 -0.77zM492.22 564.44a1.12 0.82 20 1 0 2.1 0.77a1.12 0.82 20 1 0 -2.1 -0.77zM494.75 567.22a1.12 0.82 20 1 0 2.1 0.77a1.12 0.82 20 1 0 -2.1 -0.77zM497.28 570a1.12 0.82 20 1 0 2.1 0.77a1.12 0.82 20 1 0 -2.1 -0.77zM499.81 572.78a1.12 0.82 20 1 0 2.1 0.77a1.12 0.82 20 1 0 -2.1 -0.77zM487.16 553.78a1.12 0.82 20 1 0 2.1 0.77a1.12 0.82 20 1 0 -2.1 -0.77zM489.69 556.56a1.12 0.82 20 1 0 2.1 0.77a1.12 0.82 20 1 0 -2.1 -0.77zM492.22 559.34a1.12 0.82 20 1 0 2.1 0.77a1.12 0.82 20 1 0 -2.1 -0.77zM494.75 562.12a1.12 0.82 20 1 0 2.1 0.77a1.12 0.82 20 1 0 -2.1 -0.77zM497.28 564.9a1.12 0.82 20 1 0 2.1 0.77a1.12 0.82 20 1 0 -2.1 -0.77zM499.81 567.68a1.12 0.82 20 1 0 2.1 0.77a1.12 0.82 20 1 0 -2.1 -0.77zM502.34 570.46a1.12 0.82 20 1 0 2.1 0.77a1.12 0.82 20 1 0 -2.1 -0.77zM504.87 573.24a1.12 0.82 20 1 0 2.1 0.77a1.12 0.82 20 1 0 -2.1 -0.77zM492.22 554.24a1.12 0.82 20 1 0 2.1 0.77a1.12 0.82 20 1 0 -2.1 -0.77zM494.75 557.02a1.12 0.82 20 1 0 2.1 0.77a1.12 0.82 20 1 0 -2.1 -0.77zM497.28 559.8a1.12 0.82 20 1 0 2.1 0.77a1.12 0.82 20 1 0 -2.1 -0.77zM499.81 562.58a1.12 0.82 20 1 0 2.1 0.77a1.12 0.82 20 1 0 -2.1 -0.77zM502.34 565.36a1.12 0.82 20 1 0 2.1 0.77a1.12 0.82 20 1 0 -2.1 -0.77zM504.87 568.14a1.12 0.82 20 1 0 2.1 0.77a1.12 0.82 20 1 0 -2.1 -0.77zM507.4 570.92a1.12 0.82 20 1 0 2.1 0.77a1.12 0.82 20 1 0 -2.1 -0.77zM509.93 573.7a1.12 0.82 20 1 0 2.1 0.77a1.12 0.82 20 1 0 -2.1 -0.77zM497.28 554.7a1.12 0.82 20 1 0 2.1 0.77a1.12 0.82 20 1 0 -2.1 -0.77zM499.81 557.48a1.12 0.82 20 1 0 2.1 0.77a1.12 0.82 20 1 0 -2.1 -0.77zM502.34 560.26a1.12 0.82 20 1 0 2.1 0.77a1.12 0.82 20 1 0 -2.1 -0.77zM504.87 563.04a1.12 0.82 20 1 0 2.1 0.77a1.12 0.82 20 1 0 -2.1 -0.77zM507.4 565.82a1.12 0.82 20 1 0 2.1 0.77a1.12 0.82 20 1 0 -2.1 -0.77zM509.93 568.6a1.12 0.82 20 1 0 2.1 0.77a1.12 0.82 20 1 0 -2.1 -0.77zM512.46 571.38a1.12 0.82 20 1 0 2.1 0.77a1.12 0.82 20 1 0 -2.1 -0.77zM514.99 574.16a1.12 0.82 20 1 0 2.1 0.77a1.12 0.82 20 1 0 -2.1 -0.77zM502.34 555.16a1.12 0.82 20 1 0 2.1 0.77a1.12 0.82 20 1 0 -2.1 -0.77zM504.87 557.94a1.12 0.82 20 1 0 2.1 0.77a1.12 0.82 20 1 0 -2.1 -0.77zM507.4 560.72a1.12 0.82 20 1 0 2.1 0.77a1.12 0.82 20 1 0 -2.1 -0.77zM509.93 563.5a1.12 0.82 20 1 0 2.1 0.77a1.12 0.82 20 1 0 -2.1 -0.77zM512.46 566.28a1.12 0.82 20 1 0 2.1 0.77a1.12 0.82 20 1 0 -2.1 -0.77zM514.99 569.06a1.12 0.82 20 1 0 2.1 0.77a1.12 0.82 20 1 0 -2.1 -0.77zM507.4 555.62a1.12 0.82 20 1 0 2.1 0.77a1.12 0.82 20 1 0 -2.1 -0.77zM509.93 558.4a1.12 0.82 20 1 0 2.1 0.77a1.12 0.82 20 1 0 -2.1 -0.77zM512.46 561.18a1.12 0.82 20 1 0 2.1 0.77a1.12 0.82 20 1 0 -2.1 -0.77zM514.99 563.96a1.12 0.82 20 1 0 2.1 0.77a1.12 0.82 20 1 0 -2.1 -0.77zM512.46 556.08a1.12 0.82 20 1 0 2.1 0.77a1.12 0.82 20 1 0 -2.1 -0.77zM514.99 558.86a1.12 0.82 20 1 0 2.1 0.77a1.12 0.82 20 1 0 -2.1 -0.77z" fill="#fff" stroke="none"/>
<path d="M375.4 547.6 L390 548.4 L390.8 562 L370.8 558.8Z" fill="#fff" stroke="#141414" stroke-width="3.78" />
<path d="M441.8 552.3 L462 553.6 L462 573.5 L441.8 572.2Z" fill="#fff" stroke="#141414" stroke-width="1.65" />
<path d="M446.1 555.8 L458.8 556.6 L458.8 569 L446.1 568.2Z" fill="none" stroke="#141414" stroke-width="1.42" />
<path d="M443.6 553.9 L443.6 570.8 L460.4 571.9" fill="none" stroke="#141414" stroke-width="0.94" />
<path d="M520.6 557.4 L540.2 558.4 L554.6 574.9 L522.2 573.8Z" fill="#fff" stroke="#141414" stroke-width="3.78" />
<path d="M517.8 556 L517.8 576" fill="none" stroke="#141414" stroke-width="1.89" />
<path d="M361.7 637.2 L364 629.6 L368 621.3 L369.1 620.9 L369.3 617.2 L375 617 L375.4 621.1 L376.5 621.3 L421.2 625.5 L484.9 629.8 L531.7 631.9 L532 630 L537.4 630.2 L537.8 633 L540.2 634 L549.4 644.6 L558.3 655.3 L555.1 659.6 L544.4 662.7" fill="none" stroke="#141414" stroke-width="2.12" />
<circle cx="372.2" cy="619" r="0.9" fill="none" stroke="#141414" stroke-width="0.94"/>
<circle cx="534.8" cy="631.6" r="0.8" fill="none" stroke="#141414" stroke-width="0.94"/>
<path d="M365.9 636.4 L370.8 625.2 L389.4 626.2 L421.2 628.5 L484.9 632.8 L538.4 635.2 L554.8 655" fill="none" stroke="#141414" stroke-width="2.01" />
<path d="M361.7 637.2 L363 642.6 L365.9 647.9 L377.4 651.9 L389.3 655.3 L421.2 660.6 L452.4 663.6 L484.9 665.9 L502.4 667 L516.8 667 L544.4 662.7" fill="none" stroke="#141414" stroke-width="1.77" />
<path d="M377.4 654.3 L389.3 657.7 L421.2 663 L452.4 666 L484.9 668.3 L502.4 669.4 L516.8 669.4" fill="none" stroke="#141414" stroke-width="1.18" stroke-dasharray="9 3 3 3"/>
<path d="M368.4 645.1 L389.4 650.9 L421.2 656 L484.9 660.9 L517.4 661.8 L549.4 658.2" fill="none" stroke="#141414" stroke-width="2.36" />
<path d="M367.4 648.4 l0.2 2.6 l2.8 0.3 l0 -2.4" fill="none" stroke="#141414" stroke-width="1.18" />
<path d="M374.4 651.1 l0.2 2.6 l2.8 0.3 l0 -2.4" fill="none" stroke="#141414" stroke-width="1.18" />
<path d="M383.4 653.6 l0.2 2.6 l2.8 0.3 l0 -2.4" fill="none" stroke="#141414" stroke-width="1.18" />
<path d="M427.4 661.8 l0.2 2.6 l2.8 0.3 l0 -2.4" fill="none" stroke="#141414" stroke-width="1.18" />
<path d="M467.4 664.9 l0.2 2.6 l2.8 0.3 l0 -2.4" fill="none" stroke="#141414" stroke-width="1.18" />
<path d="M497.4 666.6 l0.2 2.6 l2.8 0.3 l0 -2.4" fill="none" stroke="#141414" stroke-width="1.18" />
<path d="M525.4 665.8 l0.2 2.6 l2.8 0.3 l0 -2.4" fill="none" stroke="#141414" stroke-width="1.18" />
<path d="M538.4 663.8 l0.2 2.6 l2.8 0.3 l0 -2.4" fill="none" stroke="#141414" stroke-width="1.18" />
<path d="M390.4 626.2 L437.4 628.9 L514.7 634.8 L514.7 655.5 L484.4 657 L437.4 654.8 L399.4 651.6 L390.4 647.2Z" fill="#141414" stroke="#141414" stroke-width="1.42" />
<path d="M390.95 642.72a1.12 0.82 20 1 0 2.1 0.77a1.12 0.82 20 1 0 -2.1 -0.77zM393.48 645.5a1.12 0.82 20 1 0 2.1 0.77a1.12 0.82 20 1 0 -2.1 -0.77zM396.01 648.28a1.12 0.82 20 1 0 2.1 0.77a1.12 0.82 20 1 0 -2.1 -0.77zM390.95 637.62a1.12 0.82 20 1 0 2.1 0.77a1.12 0.82 20 1 0 -2.1 -0.77zM393.48 640.4a1.12 0.82 20 1 0 2.1 0.77a1.12 0.82 20 1 0 -2.1 -0.77zM396.01 643.18a1.12 0.82 20 1 0 2.1 0.77a1.12 0.82 20 1 0 -2.1 -0.77zM398.54 645.96a1.12 0.82 20 1 0 2.1 0.77a1.12 0.82 20 1 0 -2.1 -0.77zM401.07 648.74a1.12 0.82 20 1 0 2.1 0.77a1.12 0.82 20 1 0 -2.1 -0.77zM390.95 632.52a1.12 0.82 20 1 0 2.1 0.77a1.12 0.82 20 1 0 -2.1 -0.77zM393.48 635.3a1.12 0.82 20 1 0 2.1 0.77a1.12 0.82 20 1 0 -2.1 -0.77zM396.01 638.08a1.12 0.82 20 1 0 2.1 0.77a1.12 0.82 20 1 0 -2.1 -0.77zM398.54 640.86a1.12 0.82 20 1 0 2.1 0.77a1.12 0.82 20 1 0 -2.1 -0.77zM401.07 643.64a1.12 0.82 20 1 0 2.1 0.77a1.12 0.82 20 1 0 -2.1 -0.77zM403.6 646.42a1.12 0.82 20 1 0 2.1 0.77a1.12 0.82 20 1 0 -2.1 -0.77zM406.13 649.2a1.12 0.82 20 1 0 2.1 0.77a1.12 0.82 20 1 0 -2.1 -0.77zM390.95 627.42a1.12 0.82 20 1 0 2.1 0.77a1.12 0.82 20 1 0 -2.1 -0.77zM393.48 630.2a1.12 0.82 20 1 0 2.1 0.77a1.12 0.82 20 1 0 -2.1 -0.77zM396.01 632.98a1.12 0.82 20 1 0 2.1 0.77a1.12 0.82 20 1 0 -2.1 -0.77zM398.54 635.76a1.12 0.82 20 1 0 2.1 0.77a1.12 0.82 20 1 0 -2.1 -0.77zM401.07 638.54a1.12 0.82 20 1 0 2.1 0.77a1.12 0.82 20 1 0 -2.1 -0.77zM403.6 641.32a1.12 0.82 20 1 0 2.1 0.77a1.12 0.82 20 1 0 -2.1 -0.77zM406.13 644.1a1.12 0.82 20 1 0 2.1 0.77a1.12 0.82 20 1 0 -2.1 -0.77zM408.66 646.88a1.12 0.82 20 1 0 2.1 0.77a1.12 0.82 20 1 0 -2.1 -0.77zM411.19 649.66a1.12 0.82 20 1 0 2.1 0.77a1.12 0.82 20 1 0 -2.1 -0.77zM396.01 627.88a1.12 0.82 20 1 0 2.1 0.77a1.12 0.82 20 1 0 -2.1 -0.77zM398.54 630.66a1.12 0.82 20 1 0 2.1 0.77a1.12 0.82 20 1 0 -2.1 -0.77zM401.07 633.44a1.12 0.82 20 1 0 2.1 0.77a1.12 0.82 20 1 0 -2.1 -0.77zM403.6 636.22a1.12 0.82 20 1 0 2.1 0.77a1.12 0.82 20 1 0 -2.1 -0.77zM406.13 639a1.12 0.82 20 1 0 2.1 0.77a1.12 0.82 20 1 0 -2.1 -0.77zM408.66 641.78a1.12 0.82 20 1 0 2.1 0.77a1.12 0.82 20 1 0 -2.1 -0.77zM411.19 644.56a1.12 0.82 20 1 0 2.1 0.77a1.12 0.82 20 1 0 -2.1 -0.77zM413.72 647.34a1.12 0.82 20 1 0 2.1 0.77a1.12 0.82 20 1 0 -2.1 -0.77zM416.25 650.12a1.12 0.82 20 1 0 2.1 0.77a1.12 0.82 20 1 0 -2.1 -0.77zM401.07 628.34a1.12 0.82 20 1 0 2.1 0.77a1.12 0.82 20 1 0 -2.1 -0.77zM403.6 631.12a1.12 0.82 20 1 0 2.1 0.77a1.12 0.82 20 1 0 -2.1 -0.77zM406.13 633.9a1.12 0.82 20 1 0 2.1 0.77a1.12 0.82 20 1 0 -2.1 -0.77zM408.66 636.68a1.12 0.82 20 1 0 2.1 0.77a1.12 0.82 20 1 0 -2.1 -0.77zM411.19 639.46a1.12 0.82 20 1 0 2.1 0.77a1.12 0.82 20 1 0 -2.1 -0.77zM413.72 642.24a1.12 0.82 20 1 0 2.1 0.77a1.12 0.82 20 1 0 -2.1 -0.77zM416.25 645.02a1.12 0.82 20 1 0 2.1 0.77a1.12 0.82 20 1 0 -2.1 -0.77zM418.78 647.8a1.12 0.82 20 1 0 2.1 0.77a1.12 0.82 20 1 0 -2.1 -0.77zM421.31 650.58a1.12 0.82 20 1 0 2.1 0.77a1.12 0.82 20 1 0 -2.1 -0.77zM406.13 628.8a1.12 0.82 20 1 0 2.1 0.77a1.12 0.82 20 1 0 -2.1 -0.77zM408.66 631.58a1.12 0.82 20 1 0 2.1 0.77a1.12 0.82 20 1 0 -2.1 -0.77zM411.19 634.36a1.12 0.82 20 1 0 2.1 0.77a1.12 0.82 20 1 0 -2.1 -0.77zM413.72 637.14a1.12 0.82 20 1 0 2.1 0.77a1.12 0.82 20 1 0 -2.1 -0.77zM416.25 639.92a1.12 0.82 20 1 0 2.1 0.77a1.12 0.82 20 1 0 -2.1 -0.77zM418.78 642.7a1.12 0.82 20 1 0 2.1 0.77a1.12 0.82 20 1 0 -2.1 -0.77zM421.31 645.48a1.12 0.82 20 1 0 2.1 0.77a1.12 0.82 20 1 0 -2.1 -0.77zM423.84 648.26a1.12 0.82 20 1 0 2.1 0.77a1.12 0.82 20 1 0 -2.1 -0.77zM426.37 651.04a1.12 0.82 20 1 0 2.1 0.77a1.12 0.82 20 1 0 -2.1 -0.77zM411.19 629.26a1.12 0.82 20 1 0 2.1 0.77a1.12 0.82 20 1 0 -2.1 -0.77zM413.72 632.04a1.12 0.82 20 1 0 2.1 0.77a1.12 0.82 20 1 0 -2.1 -0.77zM416.25 634.82a1.12 0.82 20 1 0 2.1 0.77a1.12 0.82 20 1 0 -2.1 -0.77zM418.78 637.6a1.12 0.82 20 1 0 2.1 0.77a1.12 0.82 20 1 0 -2.1 -0.77zM421.31 640.38a1.12 0.82 20 1 0 2.1 0.77a1.12 0.82 20 1 0 -2.1 -0.77zM423.84 643.16a1.12 0.82 20 1 0 2.1 0.77a1.12 0.82 20 1 0 -2.1 -0.77zM426.37 645.94a1.12 0.82 20 1 0 2.1 0.77a1.12 0.82 20 1 0 -2.1 -0.77zM428.9 648.72a1.12 0.82 20 1 0 2.1 0.77a1.12 0.82 20 1 0 -2.1 -0.77zM431.43 651.5a1.12 0.82 20 1 0 2.1 0.77a1.12 0.82 20 1 0 -2.1 -0.77zM416.25 629.72a1.12 0.82 20 1 0 2.1 0.77a1.12 0.82 20 1 0 -2.1 -0.77zM418.78 632.5a1.12 0.82 20 1 0 2.1 0.77a1.12 0.82 20 1 0 -2.1 -0.77zM421.31 635.28a1.12 0.82 20 1 0 2.1 0.77a1.12 0.82 20 1 0 -2.1 -0.77zM423.84 638.06a1.12 0.82 20 1 0 2.1 0.77a1.12 0.82 20 1 0 -2.1 -0.77zM426.37 640.84a1.12 0.82 20 1 0 2.1 0.77a1.12 0.82 20 1 0 -2.1 -0.77zM428.9 643.62a1.12 0.82 20 1 0 2.1 0.77a1.12 0.82 20 1 0 -2.1 -0.77zM431.43 646.4a1.12 0.82 20 1 0 2.1 0.77a1.12 0.82 20 1 0 -2.1 -0.77zM433.96 649.18a1.12 0.82 20 1 0 2.1 0.77a1.12 0.82 20 1 0 -2.1 -0.77zM436.49 651.96a1.12 0.82 20 1 0 2.1 0.77a1.12 0.82 20 1 0 -2.1 -0.77zM421.31 630.18a1.12 0.82 20 1 0 2.1 0.77a1.12 0.82 20 1 0 -2.1 -0.77zM423.84 632.96a1.12 0.82 20 1 0 2.1 0.77a1.12 0.82 20 1 0 -2.1 -0.77zM426.37 635.74a1.12 0.82 20 1 0 2.1 0.77a1.12 0.82 20 1 0 -2.1 -0.77zM428.9 638.52a1.12 0.82 20 1 0 2.1 0.77a1.12 0.82 20 1 0 -2.1 -0.77zM431.43 641.3a1.12 0.82 20 1 0 2.1 0.77a1.12 0.82 20 1 0 -2.1 -0.77zM433.96 644.08a1.12 0.82 20 1 0 2.1 0.77a1.12 0.82 20 1 0 -2.1 -0.77zM436.49 646.86a1.12 0.82 20 1 0 2.1 0.77a1.12 0.82 20 1 0 -2.1 -0.77zM439.02 649.64a1.12 0.82 20 1 0 2.1 0.77a1.12 0.82 20 1 0 -2.1 -0.77zM441.55 652.42a1.12 0.82 20 1 0 2.1 0.77a1.12 0.82 20 1 0 -2.1 -0.77zM426.37 630.64a1.12 0.82 20 1 0 2.1 0.77a1.12 0.82 20 1 0 -2.1 -0.77zM428.9 633.42a1.12 0.82 20 1 0 2.1 0.77a1.12 0.82 20 1 0 -2.1 -0.77zM431.43 636.2a1.12 0.82 20 1 0 2.1 0.77a1.12 0.82 20 1 0 -2.1 -0.77zM433.96 638.98a1.12 0.82 20 1 0 2.1 0.77a1.12 0.82 20 1 0 -2.1 -0.77zM436.49 641.76a1.12 0.82 20 1 0 2.1 0.77a1.12 0.82 20 1 0 -2.1 -0.77zM439.02 644.54a1.12 0.82 20 1 0 2.1 0.77a1.12 0.82 20 1 0 -2.1 -0.77zM441.55 647.32a1.12 0.82 20 1 0 2.1 0.77a1.12 0.82 20 1 0 -2.1 -0.77zM444.08 650.1a1.12 0.82 20 1 0 2.1 0.77a1.12 0.82 20 1 0 -2.1 -0.77zM446.61 652.88a1.12 0.82 20 1 0 2.1 0.77a1.12 0.82 20 1 0 -2.1 -0.77zM431.43 631.1a1.12 0.82 20 1 0 2.1 0.77a1.12 0.82 20 1 0 -2.1 -0.77zM433.96 633.88a1.12 0.82 20 1 0 2.1 0.77a1.12 0.82 20 1 0 -2.1 -0.77zM436.49 636.66a1.12 0.82 20 1 0 2.1 0.77a1.12 0.82 20 1 0 -2.1 -0.77zM439.02 639.44a1.12 0.82 20 1 0 2.1 0.77a1.12 0.82 20 1 0 -2.1 -0.77zM441.55 642.22a1.12 0.82 20 1 0 2.1 0.77a1.12 0.82 20 1 0 -2.1 -0.77zM444.08 645a1.12 0.82 20 1 0 2.1 0.77a1.12 0.82 20 1 0 -2.1 -0.77zM446.61 647.78a1.12 0.82 20 1 0 2.1 0.77a1.12 0.82 20 1 0 -2.1 -0.77zM449.14 650.56a1.12 0.82 20 1 0 2.1 0.77a1.12 0.82 20 1 0 -2.1 -0.77zM451.67 653.34a1.12 0.82 20 1 0 2.1 0.77a1.12 0.82 20 1 0 -2.1 -0.77zM436.49 631.56a1.12 0.82 20 1 0 2.1 0.77a1.12 0.82 20 1 0 -2.1 -0.77zM439.02 634.34a1.12 0.82 20 1 0 2.1 0.77a1.12 0.82 20 1 0 -2.1 -0.77zM441.55 637.12a1.12 0.82 20 1 0 2.1 0.77a1.12 0.82 20 1 0 -2.1 -0.77zM444.08 639.9a1.12 0.82 20 1 0 2.1 0.77a1.12 0.82 20 1 0 -2.1 -0.77zM446.61 642.68a1.12 0.82 20 1 0 2.1 0.77a1.12 0.82 20 1 0 -2.1 -0.77zM449.14 645.46a1.12 0.82 20 1 0 2.1 0.77a1.12 0.82 20 1 0 -2.1 -0.77zM451.67 648.24a1.12 0.82 20 1 0 2.1 0.77a1.12 0.82 20 1 0 -2.1 -0.77zM454.2 651.02a1.12 0.82 20 1 0 2.1 0.77a1.12 0.82 20 1 0 -2.1 -0.77zM456.73 653.8a1.12 0.82 20 1 0 2.1 0.77a1.12 0.82 20 1 0 -2.1 -0.77zM441.55 632.02a1.12 0.82 20 1 0 2.1 0.77a1.12 0.82 20 1 0 -2.1 -0.77zM444.08 634.8a1.12 0.82 20 1 0 2.1 0.77a1.12 0.82 20 1 0 -2.1 -0.77zM446.61 637.58a1.12 0.82 20 1 0 2.1 0.77a1.12 0.82 20 1 0 -2.1 -0.77zM449.14 640.36a1.12 0.82 20 1 0 2.1 0.77a1.12 0.82 20 1 0 -2.1 -0.77zM451.67 643.14a1.12 0.82 20 1 0 2.1 0.77a1.12 0.82 20 1 0 -2.1 -0.77zM454.2 645.92a1.12 0.82 20 1 0 2.1 0.77a1.12 0.82 20 1 0 -2.1 -0.77zM456.73 648.7a1.12 0.82 20 1 0 2.1 0.77a1.12 0.82 20 1 0 -2.1 -0.77zM459.26 651.48a1.12 0.82 20 1 0 2.1 0.77a1.12 0.82 20 1 0 -2.1 -0.77zM461.79 654.26a1.12 0.82 20 1 0 2.1 0.77a1.12 0.82 20 1 0 -2.1 -0.77zM446.61 632.48a1.12 0.82 20 1 0 2.1 0.77a1.12 0.82 20 1 0 -2.1 -0.77zM449.14 635.26a1.12 0.82 20 1 0 2.1 0.77a1.12 0.82 20 1 0 -2.1 -0.77zM451.67 638.04a1.12 0.82 20 1 0 2.1 0.77a1.12 0.82 20 1 0 -2.1 -0.77zM454.2 640.82a1.12 0.82 20 1 0 2.1 0.77a1.12 0.82 20 1 0 -2.1 -0.77zM456.73 643.6a1.12 0.82 20 1 0 2.1 0.77a1.12 0.82 20 1 0 -2.1 -0.77zM459.26 646.38a1.12 0.82 20 1 0 2.1 0.77a1.12 0.82 20 1 0 -2.1 -0.77zM461.79 649.16a1.12 0.82 20 1 0 2.1 0.77a1.12 0.82 20 1 0 -2.1 -0.77zM464.32 651.94a1.12 0.82 20 1 0 2.1 0.77a1.12 0.82 20 1 0 -2.1 -0.77zM466.85 654.72a1.12 0.82 20 1 0 2.1 0.77a1.12 0.82 20 1 0 -2.1 -0.77zM451.67 632.94a1.12 0.82 20 1 0 2.1 0.77a1.12 0.82 20 1 0 -2.1 -0.77zM454.2 635.72a1.12 0.82 20 1 0 2.1 0.77a1.12 0.82 20 1 0 -2.1 -0.77zM456.73 638.5a1.12 0.82 20 1 0 2.1 0.77a1.12 0.82 20 1 0 -2.1 -0.77zM459.26 641.28a1.12 0.82 20 1 0 2.1 0.77a1.12 0.82 20 1 0 -2.1 -0.77zM461.79 644.06a1.12 0.82 20 1 0 2.1 0.77a1.12 0.82 20 1 0 -2.1 -0.77zM464.32 646.84a1.12 0.82 20 1 0 2.1 0.77a1.12 0.82 20 1 0 -2.1 -0.77zM466.85 649.62a1.12 0.82 20 1 0 2.1 0.77a1.12 0.82 20 1 0 -2.1 -0.77zM469.38 652.4a1.12 0.82 20 1 0 2.1 0.77a1.12 0.82 20 1 0 -2.1 -0.77zM456.73 633.4a1.12 0.82 20 1 0 2.1 0.77a1.12 0.82 20 1 0 -2.1 -0.77zM459.26 636.18a1.12 0.82 20 1 0 2.1 0.77a1.12 0.82 20 1 0 -2.1 -0.77zM461.79 638.96a1.12 0.82 20 1 0 2.1 0.77a1.12 0.82 20 1 0 -2.1 -0.77zM464.32 641.74a1.12 0.82 20 1 0 2.1 0.77a1.12 0.82 20 1 0 -2.1 -0.77zM466.85 644.52a1.12 0.82 20 1 0 2.1 0.77a1.12 0.82 20 1 0 -2.1 -0.77zM469.38 647.3a1.12 0.82 20 1 0 2.1 0.77a1.12 0.82 20 1 0 -2.1 -0.77zM471.91 650.08a1.12 0.82 20 1 0 2.1 0.77a1.12 0.82 20 1 0 -2.1 -0.77zM474.44 652.86a1.12 0.82 20 1 0 2.1 0.77a1.12 0.82 20 1 0 -2.1 -0.77zM461.79 633.86a1.12 0.82 20 1 0 2.1 0.77a1.12 0.82 20 1 0 -2.1 -0.77zM464.32 636.64a1.12 0.82 20 1 0 2.1 0.77a1.12 0.82 20 1 0 -2.1 -0.77zM466.85 639.42a1.12 0.82 20 1 0 2.1 0.77a1.12 0.82 20 1 0 -2.1 -0.77zM469.38 642.2a1.12 0.82 20 1 0 2.1 0.77a1.12 0.82 20 1 0 -2.1 -0.77zM471.91 644.98a1.12 0.82 20 1 0 2.1 0.77a1.12 0.82 20 1 0 -2.1 -0.77zM474.44 647.76a1.12 0.82 20 1 0 2.1 0.77a1.12 0.82 20 1 0 -2.1 -0.77zM476.97 650.54a1.12 0.82 20 1 0 2.1 0.77a1.12 0.82 20 1 0 -2.1 -0.77zM479.5 653.32a1.12 0.82 20 1 0 2.1 0.77a1.12 0.82 20 1 0 -2.1 -0.77zM466.85 634.32a1.12 0.82 20 1 0 2.1 0.77a1.12 0.82 20 1 0 -2.1 -0.77zM469.38 637.1a1.12 0.82 20 1 0 2.1 0.77a1.12 0.82 20 1 0 -2.1 -0.77zM471.91 639.88a1.12 0.82 20 1 0 2.1 0.77a1.12 0.82 20 1 0 -2.1 -0.77zM474.44 642.66a1.12 0.82 20 1 0 2.1 0.77a1.12 0.82 20 1 0 -2.1 -0.77zM476.97 645.44a1.12 0.82 20 1 0 2.1 0.77a1.12 0.82 20 1 0 -2.1 -0.77zM479.5 648.22a1.12 0.82 20 1 0 2.1 0.77a1.12 0.82 20 1 0 -2.1 -0.77zM482.03 651a1.12 0.82 20 1 0 2.1 0.77a1.12 0.82 20 1 0 -2.1 -0.77zM484.56 653.78a1.12 0.82 20 1 0 2.1 0.77a1.12 0.82 20 1 0 -2.1 -0.77zM471.91 634.78a1.12 0.82 20 1 0 2.1 0.77a1.12 0.82 20 1 0 -2.1 -0.77zM474.44 637.56a1.12 0.82 20 1 0 2.1 0.77a1.12 0.82 20 1 0 -2.1 -0.77zM476.97 640.34a1.12 0.82 20 1 0 2.1 0.77a1.12 0.82 20 1 0 -2.1 -0.77zM479.5 643.12a1.12 0.82 20 1 0 2.1 0.77a1.12 0.82 20 1 0 -2.1 -0.77zM482.03 645.9a1.12 0.82 20 1 0 2.1 0.77a1.12 0.82 20 1 0 -2.1 -0.77zM484.56 648.68a1.12 0.82 20 1 0 2.1 0.77a1.12 0.82 20 1 0 -2.1 -0.77zM487.09 651.46a1.12 0.82 20 1 0 2.1 0.77a1.12 0.82 20 1 0 -2.1 -0.77zM489.62 654.24a1.12 0.82 20 1 0 2.1 0.77a1.12 0.82 20 1 0 -2.1 -0.77zM474.44 632.46a1.12 0.82 20 1 0 2.1 0.77a1.12 0.82 20 1 0 -2.1 -0.77zM476.97 635.24a1.12 0.82 20 1 0 2.1 0.77a1.12 0.82 20 1 0 -2.1 -0.77zM479.5 638.02a1.12 0.82 20 1 0 2.1 0.77a1.12 0.82 20 1 0 -2.1 -0.77zM482.03 640.8a1.12 0.82 20 1 0 2.1 0.77a1.12 0.82 20 1 0 -2.1 -0.77zM484.56 643.58a1.12 0.82 20 1 0 2.1 0.77a1.12 0.82 20 1 0 -2.1 -0.77zM487.09 646.36a1.12 0.82 20 1 0 2.1 0.77a1.12 0.82 20 1 0 -2.1 -0.77zM489.62 649.14a1.12 0.82 20 1 0 2.1 0.77a1.12 0.82 20 1 0 -2.1 -0.77zM492.15 651.92a1.12 0.82 20 1 0 2.1 0.77a1.12 0.82 20 1 0 -2.1 -0.77zM494.68 654.7a1.12 0.82 20 1 0 2.1 0.77a1.12 0.82 20 1 0 -2.1 -0.77zM479.5 632.92a1.12 0.82 20 1 0 2.1 0.77a1.12 0.82 20 1 0 -2.1 -0.77zM482.03 635.7a1.12 0.82 20 1 0 2.1 0.77a1.12 0.82 20 1 0 -2.1 -0.77zM484.56 638.48a1.12 0.82 20 1 0 2.1 0.77a1.12 0.82 20 1 0 -2.1 -0.77zM487.09 641.26a1.12 0.82 20 1 0 2.1 0.77a1.12 0.82 20 1 0 -2.1 -0.77zM489.62 644.04a1.12 0.82 20 1 0 2.1 0.77a1.12 0.82 20 1 0 -2.1 -0.77zM492.15 646.82a1.12 0.82 20 1 0 2.1 0.77a1.12 0.82 20 1 0 -2.1 -0.77zM494.68 649.6a1.12 0.82 20 1 0 2.1 0.77a1.12 0.82 20 1 0 -2.1 -0.77zM497.21 652.38a1.12 0.82 20 1 0 2.1 0.77a1.12 0.82 20 1 0 -2.1 -0.77zM484.56 633.38a1.12 0.82 20 1 0 2.1 0.77a1.12 0.82 20 1 0 -2.1 -0.77zM487.09 636.16a1.12 0.82 20 1 0 2.1 0.77a1.12 0.82 20 1 0 -2.1 -0.77zM489.62 638.94a1.12 0.82 20 1 0 2.1 0.77a1.12 0.82 20 1 0 -2.1 -0.77zM492.15 641.72a1.12 0.82 20 1 0 2.1 0.77a1.12 0.82 20 1 0 -2.1 -0.77zM494.68 644.5a1.12 0.82 20 1 0 2.1 0.77a1.12 0.82 20 1 0 -2.1 -0.77zM497.21 647.28a1.12 0.82 20 1 0 2.1 0.77a1.12 0.82 20 1 0 -2.1 -0.77zM499.74 650.06a1.12 0.82 20 1 0 2.1 0.77a1.12 0.82 20 1 0 -2.1 -0.77zM502.27 652.84a1.12 0.82 20 1 0 2.1 0.77a1.12 0.82 20 1 0 -2.1 -0.77zM489.62 633.84a1.12 0.82 20 1 0 2.1 0.77a1.12 0.82 20 1 0 -2.1 -0.77zM492.15 636.62a1.12 0.82 20 1 0 2.1 0.77a1.12 0.82 20 1 0 -2.1 -0.77zM494.68 639.4a1.12 0.82 20 1 0 2.1 0.77a1.12 0.82 20 1 0 -2.1 -0.77zM497.21 642.18a1.12 0.82 20 1 0 2.1 0.77a1.12 0.82 20 1 0 -2.1 -0.77zM499.74 644.96a1.12 0.82 20 1 0 2.1 0.77a1.12 0.82 20 1 0 -2.1 -0.77zM502.27 647.74a1.12 0.82 20 1 0 2.1 0.77a1.12 0.82 20 1 0 -2.1 -0.77zM504.8 650.52a1.12 0.82 20 1 0 2.1 0.77a1.12 0.82 20 1 0 -2.1 -0.77zM507.33 653.3a1.12 0.82 20 1 0 2.1 0.77a1.12 0.82 20 1 0 -2.1 -0.77zM494.68 634.3a1.12 0.82 20 1 0 2.1 0.77a1.12 0.82 20 1 0 -2.1 -0.77zM497.21 637.08a1.12 0.82 20 1 0 2.1 0.77a1.12 0.82 20 1 0 -2.1 -0.77zM499.74 639.86a1.12 0.82 20 1 0 2.1 0.77a1.12 0.82 20 1 0 -2.1 -0.77zM502.27 642.64a1.12 0.82 20 1 0 2.1 0.77a1.12 0.82 20 1 0 -2.1 -0.77zM504.8 645.42a1.12 0.82 20 1 0 2.1 0.77a1.12 0.82 20 1 0 -2.1 -0.77zM507.33 648.2a1.12 0.82 20 1 0 2.1 0.77a1.12 0.82 20 1 0 -2.1 -0.77zM509.86 650.98a1.12 0.82 20 1 0 2.1 0.77a1.12 0.82 20 1 0 -2.1 -0.77zM512.39 653.76a1.12 0.82 20 1 0 2.1 0.77a1.12 0.82 20 1 0 -2.1 -0.77zM499.74 634.76a1.12 0.82 20 1 0 2.1 0.77a1.12 0.82 20 1 0 -2.1 -0.77zM502.27 637.54a1.12 0.82 20 1 0 2.1 0.77a1.12 0.82 20 1 0 -2.1 -0.77zM504.8 640.32a1.12 0.82 20 1 0 2.1 0.77a1.12 0.82 20 1 0 -2.1 -0.77zM507.33 643.1a1.12 0.82 20 1 0 2.1 0.77a1.12 0.82 20 1 0 -2.1 -0.77zM509.86 645.88a1.12 0.82 20 1 0 2.1 0.77a1.12 0.82 20 1 0 -2.1 -0.77zM512.39 648.66a1.12 0.82 20 1 0 2.1 0.77a1.12 0.82 20 1 0 -2.1 -0.77zM504.8 635.22a1.12 0.82 20 1 0 2.1 0.77a1.12 0.82 20 1 0 -2.1 -0.77zM507.33 638a1.12 0.82 20 1 0 2.1 0.77a1.12 0.82 20 1 0 -2.1 -0.77zM509.86 640.78a1.12 0.82 20 1 0 2.1 0.77a1.12 0.82 20 1 0 -2.1 -0.77zM512.39 643.56a1.12 0.82 20 1 0 2.1 0.77a1.12 0.82 20 1 0 -2.1 -0.77zM509.86 635.68a1.12 0.82 20 1 0 2.1 0.77a1.12 0.82 20 1 0 -2.1 -0.77zM512.39 638.46a1.12 0.82 20 1 0 2.1 0.77a1.12 0.82 20 1 0 -2.1 -0.77z" fill="#fff" stroke="none"/>
<path d="M371.2 626.6 L387.2 627.7 L389.7 643.8 L366.8 639.4Z" fill="#161616" stroke="#141414" stroke-width="2.36" />
<rect x="374.9" y="629.2" width="2.1" height="1.4" fill="#fff" stroke="none"/>
<rect x="374.4" y="631.9" width="2.1" height="1.4" fill="#fff" stroke="none"/>
<rect x="373.9" y="634.6" width="2.1" height="1.4" fill="#fff" stroke="none"/>
<rect x="373.4" y="637.3" width="2.1" height="1.4" fill="#fff" stroke="none"/>
<rect x="378.3" y="629.45" width="2.1" height="1.4" fill="#fff" stroke="none"/>
<rect x="377.8" y="632.15" width="2.1" height="1.4" fill="#fff" stroke="none"/>
<rect x="377.3" y="634.85" width="2.1" height="1.4" fill="#fff" stroke="none"/>
<rect x="376.8" y="637.55" width="2.1" height="1.4" fill="#fff" stroke="none"/>
<rect x="381.7" y="629.7" width="2.1" height="1.4" fill="#fff" stroke="none"/>
<rect x="381.2" y="632.4" width="2.1" height="1.4" fill="#fff" stroke="none"/>
<rect x="380.7" y="635.1" width="2.1" height="1.4" fill="#fff" stroke="none"/>
<rect x="380.2" y="637.8" width="2.1" height="1.4" fill="#fff" stroke="none"/>
<rect x="385.1" y="629.95" width="2.1" height="1.4" fill="#fff" stroke="none"/>
<rect x="384.6" y="632.65" width="2.1" height="1.4" fill="#fff" stroke="none"/>
<rect x="384.1" y="635.35" width="2.1" height="1.4" fill="#fff" stroke="none"/>
<rect x="383.6" y="638.05" width="2.1" height="1.4" fill="#fff" stroke="none"/>
<path d="M516.8 636.2 L538.1 637.2 L554 655.3 L518.9 654.2Z" fill="#161616" stroke="#141414" stroke-width="2.6" />
<path d="M520.4 640.2 L538.4 641.2" fill="none" stroke="#fff" stroke-width="1.53" />
<path d="M521.4 644.4 L533.4 645" fill="none" stroke="#fff" stroke-width="1.18" />
<path d="M521 648.6 L544.4 649.8" fill="none" stroke="#fff" stroke-width="1.53" />
<path d="M525.4 652.4 L548.4 653.2" fill="none" stroke="#fff" stroke-width="1.06" />
<path d="M515.2 635.6 L515.2 655.6" fill="none" stroke="#141414" stroke-width="1.89" />
</g>
<g id="lower" fill="none" stroke="#1c1c1c" stroke-width="1" stroke-linejoin="round" stroke-linecap="round">
<path d="M381.3 687.8 L386 687.6 L386.2 691 L387.8 688.9 L510.9 700.2 L511.7 701.5 L510.9 722.1 L507.7 727 L391 718 L386.5 716 L383.8 712.4 L381 705 L380.5 696.2 L381.3 687.8" fill="none" stroke="#141414" stroke-width="1.53" />
<path d="M391 692.1 L507.7 702.7 L506 724.5 L392.7 714.8Z" fill="none" stroke="#141414" stroke-width="1.3" />
<path d="M383 690.5 L384.6 696 L385 708 L388 714.6" fill="none" stroke="#141414" stroke-width="1.06" />
<path d="M388.4 690.6 L509 701.6" fill="none" stroke="#141414" stroke-width="2.12" />
<path d="M394.3 696.4 L442.9 701" fill="none" stroke="#141414" stroke-width="2.01" />
<path d="M394.3 698.6 L442.9 703.2" fill="none" stroke="#141414" stroke-width="0.94" />
<path d="M455.8 702.2 L504.4 706.8" fill="none" stroke="#141414" stroke-width="2.01" />
<path d="M455.8 704.4 L504.4 709" fill="none" stroke="#141414" stroke-width="0.94" />
<path d="M394.3 702.9 L442.9 707.5" fill="none" stroke="#141414" stroke-width="2.01" />
<path d="M394.3 705.1 L442.9 709.7" fill="none" stroke="#141414" stroke-width="0.94" />
<path d="M455.8 708.7 L504.4 713.3" fill="none" stroke="#141414" stroke-width="2.01" />
<path d="M455.8 710.9 L504.4 715.5" fill="none" stroke="#141414" stroke-width="0.94" />
<path d="M394.3 709.4 L442.9 714" fill="none" stroke="#141414" stroke-width="2.01" />
<path d="M394.3 711.6 L442.9 716.2" fill="none" stroke="#141414" stroke-width="0.94" />
<path d="M455.8 715.2 L504.4 719.8" fill="none" stroke="#141414" stroke-width="2.01" />
<path d="M455.8 717.4 L504.4 722" fill="none" stroke="#141414" stroke-width="0.94" />
<path d="M394.3 694 L394.3 713.6" fill="none" stroke="#141414" stroke-width="1.18" />
<path d="M504.4 703.5 L504.4 723" fill="none" stroke="#141414" stroke-width="1.18" />
<path d="M442.9 697 L455.8 698.2 L455.8 703.6 L454.2 703.6 L454.2 723 L442.9 722 L442.9 697" fill="none" stroke="#141414" stroke-width="1.53" />
<path d="M443 699.4 L455.6 700.6" fill="none" stroke="#141414" stroke-width="2.6" />
<path d="M447 711.6 l1.6 0.6 l-0.6 2.6" fill="none" stroke="#141414" stroke-width="1.18" />
<path d="M455.8 703.6 L455.8 721" fill="none" stroke="#141414" stroke-width="2.12" stroke-dasharray="5 3"/>
<path d="M396.7 719 L396.9 726.4 L404.6 727 L404.8 719.6 M400 723.6 l1.6 0.1" fill="none" stroke="#141414" stroke-width="1.3" />
<path d="M483.4 726 L483.6 733.6 L490.4 734.2 L490.6 726.6 M486.4 730.6 l1.6 0.1" fill="none" stroke="#141414" stroke-width="1.3" />
<path d="M349.4 742 C349.83 741.52 349.93 740.92 351 740.2 C352.07 739.48 349.67 739.3 353.4 739.3 C357.13 739.3 358.95 739.67 365 740.2 C371.05 740.73 365.43 739.97 376.1 741.3 C386.77 742.63 388.57 743.07 405 745.2 C421.43 747.33 420.37 747.54 437.7 749.3 C455.03 751.06 452.4 750.92 470 751.8 C487.6 752.68 489.03 752.28 503.7 752.6 C518.37 752.92 515.05 752.71 525 753 C534.95 753.29 535.27 753.22 541 753.7 C546.73 754.18 544.13 753.95 546.5 754.8 C548.87 755.65 548.62 755.7 549.9 756.9 C551.18 758.1 551.09 758.02 551.3 759.3 C551.51 760.58 551.58 760.39 550.7 761.7 C549.82 763.01 549.73 763.11 548 764.2 C546.27 765.29 545.21 765.37 544.2 765.8" fill="none" stroke="#141414" stroke-width="1.53" />
<path d="M377.7 743.7 C384.98 744.69 389 745.29 405 747.4 C421 749.51 420.37 749.79 437.7 751.6 C455.03 753.41 452.85 753.29 470 754.2 C487.15 755.11 493.47 754.79 502 755" fill="none" stroke="#141414" stroke-width="2.6" />
<path d="M354 741.6 C356.93 741.81 359.13 741.87 365 742.4 C370.87 742.93 373.07 743.28 376 743.6" fill="none" stroke="#141414" stroke-width="0.94" stroke-dasharray="2 1.2"/>
<path d="M349.4 742 C349.96 743.01 349.98 743.85 351.5 745.8 C353.02 747.75 351.5 747.43 355.1 749.3 C358.7 751.17 358.97 751.07 365 752.8 C371.03 754.53 367.03 754.07 377.7 755.8 C388.37 757.53 388.15 757.54 405 759.3 C421.85 761.06 423.57 760.99 440.9 762.4 C458.23 763.81 452.83 763.51 470 764.6 C487.17 765.69 490.63 765.97 505.3 766.5 C519.97 767.03 514.63 766.79 525 766.6 C535.37 766.41 539.08 766.01 544.2 765.8" fill="none" stroke="#141414" stroke-width="1.65" />
<path d="M352 745 C355.47 746.33 358.15 747.87 365 750 C371.85 752.13 367.03 751.24 377.7 753 C388.37 754.76 388.15 754.79 405 756.6 C421.85 758.41 423.57 758.36 440.9 759.8 C458.23 761.24 453.17 760.99 470 762 C486.83 763.01 494.93 763.17 504 763.6" fill="none" stroke="#141414" stroke-width="1.06" />
<path d="M506 755.6 C511.07 755.71 515.67 755.73 525 756 C534.33 756.27 534.87 755.91 541 756.6 C547.13 757.29 546.13 758.07 548 758.6" fill="none" stroke="#141414" stroke-width="1.06" />
<path d="M506 763.6 C511.07 763.65 515.13 763.96 525 763.8 C534.87 763.64 538.2 763.21 543 763" fill="none" stroke="#141414" stroke-width="1.06" />
<path d="M356 745.4 C361.79 746.52 364.63 747.52 377.7 749.6 C390.77 751.68 388.15 751.33 405 753.2 C421.85 755.07 423.57 755.16 440.9 756.6 C458.23 758.04 453.17 757.8 470 758.6 C486.83 759.4 489.33 759.23 504 759.6 C518.67 759.97 513.8 760 525 760 C536.2 760 540.4 759.71 546 759.6" fill="none" stroke="#141414" stroke-width="1.06" stroke-dasharray="22 3"/>
<path d="M376.5 741.3 Q377 748.45 379.5 755.6" fill="none" stroke="#141414" stroke-width="1.3" />
<path d="M437.9 749.3 Q438.4 755.75 440.9 762.2" fill="none" stroke="#141414" stroke-width="1.3" />
<path d="M503.6 752.6 Q504.1 759.5 506.6 766.4" fill="none" stroke="#141414" stroke-width="1.3" />
<path d="M316.2 755.8 L316.2 737.4 L319 736.2 L325.1 736.3 L324.8 739.6 L322.2 741 L322.4 744 L325.3 745 L325.4 749 L323.2 750.2 L323.4 758 L325.1 763.9" fill="none" stroke="#141414" stroke-width="1.53" />
<path d="M318.6 755.6 L318.6 739 L320.6 738.2" fill="none" stroke="#141414" stroke-width="1.18" />
<path d="M320.8 741.6 L320.8 759.6" fill="none" stroke="#141414" stroke-width="1.06" />
<path d="M308.1 765.5 C308.13 764.17 307.77 762.87 308.2 760.5 C308.63 758.13 308.42 757.91 309.7 756.6 C310.98 755.29 311.27 755.81 313 755.6 C314.73 755.39 314.33 755 316.2 755.8 C318.07 756.6 317.41 756.44 320 758.6 C322.59 760.76 322.59 761.42 325.9 763.9 C329.21 766.38 327.84 766.17 332.4 767.9 C336.96 769.63 336.95 769.31 343 770.4 C349.05 771.49 350.67 770.93 355.1 772 C359.53 773.07 357.01 773.12 359.6 774.4 C362.19 775.68 356.69 775.15 364.8 776.8 C372.91 778.45 377.04 778.87 390 780.6 C402.96 782.33 400.87 781.86 413.4 783.3 C425.93 784.74 424.57 784.85 437 786 C449.43 787.15 447.39 787.44 460 787.6 C472.61 787.76 472.3 786.97 484.3 786.6 C496.3 786.23 494.2 786.47 505 786.2 C515.8 785.93 510.88 786.45 524.8 785.6 C538.72 784.75 543.81 784.23 557.2 783 C570.59 781.77 566.36 782.15 575 781 C583.64 779.85 584.37 779.71 589.6 778.7 C594.83 777.69 592.44 778.05 594.6 777.2 C596.76 776.35 596.26 776.62 597.7 775.5 C599.14 774.38 599.15 774.52 600 773 C600.85 771.48 600.37 772.2 600.9 769.8 C601.43 767.4 601.57 766.8 602 764 C602.43 761.2 602.37 760.55 602.5 759.3" fill="none" stroke="#141414" stroke-width="2.6" />
<path d="M602.5 759.3 L604.6 758.2 L610.6 760.9 L608.5 770.5 L605.7 780.3 L603 788 L599.3 794.9 L595 799 L589.6 802.2 L582 805 L573.4 807.1 L558 808 L544.2 807.1 L535 804 L528 800.6 L524.8 798.2" fill="none" stroke="#141414" stroke-width="1.53" />
<path d="M604.6 758.2 L603.6 764 L608 765" fill="none" stroke="#141414" stroke-width="1.06" />
<path d="M600.6 766.6 l-2.2 -0.4 l-0.4 3.4 l2 0.4 M599.6 771.6 l-2 -0.3 l-0.3 2.6" fill="none" stroke="#141414" stroke-width="1.18" />
<path d="M308.1 765.5 C308.5 767.1 308.29 768.49 309.6 771.5 C310.91 774.51 310.49 773.95 313 776.8 C315.51 779.65 315.56 779.61 319 782.2 C322.44 784.79 321.1 784.47 325.9 786.5 C330.7 788.53 330.95 788.28 337 789.8 C343.05 791.32 341.13 791.19 348.6 792.2 C356.07 793.21 356.36 792.96 365 793.6 C373.64 794.24 372.47 794.01 381 794.6 C389.53 795.19 388.36 795.13 397 795.8 C405.64 796.47 402.73 796.19 413.4 797.1 C424.07 798.01 424.57 798.21 437 799.2 C449.43 800.19 449.6 800.21 460 800.8 C470.4 801.39 467.36 801.24 476 801.4 C484.64 801.56 483.33 801.67 492.4 801.4 C501.47 801.13 501.36 801.04 510 800.4 C518.64 799.76 520.85 799.37 524.8 799" fill="none" stroke="#141414" stroke-width="1.77" />
<path d="M309.7 759.6 C310.85 759.76 311.25 759.03 314 760.2 C316.75 761.37 316.8 761.84 320 764 C323.2 766.16 322.53 766.3 326 768.3 C329.47 770.3 325.27 769.55 333 771.5 C340.73 773.45 346.52 773.44 355 775.6 C363.48 777.76 349.23 776.83 364.8 779.6 C380.37 782.37 388.01 783.12 413.4 786 C438.79 788.88 441.17 789.23 460 790.4 C478.83 791.57 477.6 790.4 484 790.4" fill="none" stroke="#141414" stroke-width="1.3" />
<path d="M311 768 C312.6 770.03 313.03 771.97 317 775.6 C320.97 779.23 317.47 778.4 325.9 781.6 C334.33 784.8 333.91 785.2 348.6 787.6 C363.29 790 363.72 789.16 381 790.6 C398.28 792.04 392.33 791.4 413.4 793 C434.47 794.6 439.04 795.37 460 796.6 C480.96 797.83 483.47 797.33 492 797.6" fill="none" stroke="#141414" stroke-width="1.18" />
<path d="M309.6 763 C311.04 764.33 311.69 764.91 315 768 C318.31 771.09 318 771.77 322 774.6 C326 777.43 323.07 776.47 330 778.6 C336.93 780.73 343.2 781.53 348 782.6" fill="none" stroke="#141414" stroke-width="1.18" />
<path d="M330 771 C333.47 771.8 336.07 772.24 343 774 C349.93 775.76 349.87 775.47 356 777.6 C362.13 779.73 355.6 779.76 366 782 C376.4 784.24 387.27 784.93 395 786" fill="none" stroke="#141414" stroke-width="1.06" stroke-dasharray="12 3"/>
<path d="M355.9 772.2 Q356.5 782.4 359.3 792.6" fill="none" stroke="#141414" stroke-width="1.3" />
<path d="M384.2 779.8 Q384.8 787.3 387.6 794.8" fill="none" stroke="#141414" stroke-width="1.3" />
<path d="M416.6 783.8 Q417.2 790.6 420 797.4" fill="none" stroke="#141414" stroke-width="1.3" />
<path d="M447.4 787 Q448 793.5 450.8 800" fill="none" stroke="#141414" stroke-width="1.3" />
<path d="M326 766.67 C328.13 767.76 328.93 769.02 334 770.75 C339.07 772.48 339.13 772.06 345 773.16 C350.87 774.26 350.4 773.34 356 774.89 C361.6 776.44 359.6 777.37 366 778.98 C372.4 780.6 372.27 779.9 380 780.95 C387.73 781.99 386.2 781.86 395 782.91 C403.8 783.97 403.67 783.87 413 784.91 C422.33 785.95 420.93 785.91 430 786.8 C439.07 787.7 438.47 787.66 447 788.28 C455.53 788.9 453.73 789.03 462 789.12 C470.27 789.21 473.73 788.74 478 788.6" fill="none" stroke="#141414" stroke-width="1.77" />
<path d="M326 768.93 C328.13 769.96 328.93 771.13 334 772.82 C339.07 774.5 339.13 774.14 345 775.24 C350.87 776.34 350.4 775.49 356 776.93 C361.6 778.37 359.6 779.17 366 780.65 C372.4 782.13 372.27 781.5 380 782.49 C387.73 783.48 386.2 783.35 395 784.36 C403.8 785.38 403.67 785.28 413 786.29 C422.33 787.3 420.93 787.26 430 788.14 C439.07 789.02 438.47 788.98 447 789.6 C455.53 790.22 453.73 790.33 462 790.46 C470.27 790.58 473.73 790.16 478 790.06" fill="none" stroke="#141414" stroke-width="1.18" stroke-dasharray="16 3"/>
<path d="M326 775.25 C328.13 776.14 328.93 777.04 334 778.59 C339.07 780.14 339.13 779.98 345 781.06 C350.87 782.14 350.4 781.5 356 782.64 C361.6 783.78 359.6 784.21 366 785.32 C372.4 786.44 372.27 785.99 380 786.81 C387.73 787.64 386.2 787.52 395 788.41 C403.8 789.31 403.67 789.23 413 790.16 C422.33 791.09 420.93 791.05 430 791.89 C439.07 792.72 438.47 792.68 447 793.3 C455.53 793.91 453.73 793.97 462 794.2 C470.27 794.42 473.73 794.15 478 794.13" fill="none" stroke="#141414" stroke-width="1.06" stroke-dasharray="20 4"/>
<path d="M326 783.37 C328.13 784.08 328.93 784.64 334 786.02 C339.07 787.4 339.13 787.49 345 788.54 C350.87 789.6 350.4 789.24 356 789.98 C361.6 790.72 359.6 790.69 366 791.33 C372.4 791.97 372.27 791.76 380 792.38 C387.73 792.99 386.2 792.89 395 793.62 C403.8 794.36 403.67 794.31 413 795.13 C422.33 795.96 420.93 795.93 430 796.7 C439.07 797.48 438.47 797.43 447 798.05 C455.53 798.66 453.73 798.65 462 799 C470.27 799.36 473.73 799.27 478 799.36" fill="none" stroke="#141414" stroke-width="1.18" />
<path d="M309 767 C309.8 768.76 309.87 770.4 312 773.6 C314.13 776.8 313.8 776.33 317 779 C320.2 781.67 319.47 781.47 324 783.6 C328.53 785.73 331.33 786.09 334 787" fill="none" stroke="#141414" stroke-width="1.42" />
<path d="M312.6 757.6 C313.51 758.4 313.49 758.36 316 760.6 C318.51 762.84 318.53 763.49 322 766 C325.47 768.51 327.13 768.93 329 770" fill="none" stroke="#141414" stroke-width="1.65" />
<path d="M479.4 784.6 C480.63 784.28 478.51 783.67 484 783.4 C489.49 783.13 490.4 783.01 500 783.6 C509.6 784.19 513.39 784.53 520 785.6 C526.61 786.67 522.83 786.27 524.8 787.6 C526.77 788.93 526.81 788.63 527.4 790.6 C527.99 792.57 527.69 792.97 527 795 C526.31 797.03 525.39 797.35 524.8 798.2" fill="none" stroke="#141414" stroke-width="1.77" />
<path d="M480 787.6 C485.33 787.49 489.33 786.83 500 787.2 C510.67 787.57 513.6 787.99 520 789 C526.4 790.01 522.93 790.47 524 791" fill="none" stroke="#141414" stroke-width="1.06" />
<path d="M480 794 C485.33 794.32 489.33 794.83 500 795.2 C510.67 795.57 513.33 795.72 520 795.4 C526.67 795.08 523.67 794.37 525 794" fill="none" stroke="#141414" stroke-width="1.06" />
<path d="M481 784.6 Q479.6 792 482 800.6" fill="none" stroke="#141414" stroke-width="1.3" />
<path d="M491.6 789.6 l2.6 -1.6 l0.6 1.8 l-2 2.2Z" fill="none" stroke="#141414" stroke-width="1.06" />
<path d="M527 788.2 C531.8 788.09 534.87 788.28 545 787.8 C555.13 787.32 554.33 787.57 565 786.4 C575.67 785.23 576.73 785.05 585 783.4 C593.27 781.75 591.04 781.85 596 780.2 C600.96 778.55 601.57 778 603.6 777.2" fill="none" stroke="#141414" stroke-width="1.06" />
<path d="M527.4 791.8 C532.09 791.75 534.97 791.97 545 791.6 C555.03 791.23 554.33 791.47 565 790.4 C575.67 789.33 574.87 789.57 585 787.6 C595.13 785.63 598.2 784.23 603 783" fill="none" stroke="#141414" stroke-width="1.06" />
<path d="M527 795.6 C531.8 795.65 534.87 796.01 545 795.8 C555.13 795.59 554.6 795.92 565 794.8 C575.4 793.68 574.51 793.52 584 791.6 C593.49 789.68 596.17 788.67 600.6 787.6" fill="none" stroke="#141414" stroke-width="1.06" />
<path d="M529 799.8 C533.27 800.01 536.2 800.6 545 800.6 C553.8 800.6 552.67 800.76 562 799.8 C571.33 798.84 572.53 798.92 580 797 C587.47 795.08 585.73 795.53 590 792.6 C594.27 789.67 593.44 790 596 786 C598.56 782 598.64 779.84 599.6 777.6" fill="none" stroke="#141414" stroke-width="1.18" />
<path d="M535 803.6 C538.47 803.97 540 804.84 548 805 C556 805.16 556.47 805.32 565 804.2 C573.53 803.08 576 801.71 580 800.8" fill="none" stroke="#141414" stroke-width="1.06" />
<path d="M543 786 Q541.6 796 544.6 806.6 M548.8 787.6 L548.6 799.6 M577 784.6 Q576.6 795 573.6 806.6 M588.6 779.6 L587.6 792.6" fill="none" stroke="#141414" stroke-width="1.18" />
<path d="M390.8 825.6 L392 824 L394 823.5 L443.9 827.8 L446 829 L447.1 831 L447.7 856.4 L446.4 858.6 L443.9 859.6 L395 854.3 L392.4 853.2 L390.8 851.1Z" fill="none" stroke="#141414" stroke-width="1.53" />
<path d="M392.6 826.4 L392.8 850.4 L395.6 852.4 L442.6 857.6 L442.4 829.6" fill="none" stroke="#141414" stroke-width="0.94" />
<path d="M442.6 851.6 L445.6 852 L447.5 856" fill="none" stroke="#141414" stroke-width="1.18" />
<path d="M390.9 847.6 L393 848 L394.6 853.6" fill="none" stroke="#141414" stroke-width="1.18" />
<circle cx="402.9" cy="829.6" r="0.9" fill="#222" stroke="#141414" stroke-width="0.83"/>
<circle cx="432.2" cy="832.2" r="0.9" fill="#222" stroke="#141414" stroke-width="0.83"/>
<circle cx="417.8" cy="842" r="1.7" fill="none" stroke="#141414" stroke-width="1.06"/>
<path d="M395.7 833.6 h2.8 v3.2 h-2.8 M396.7 835.2 h1.8" fill="none" stroke="#141414" stroke-width="1.42" />
<path d="M395.7 841 h2.8 v3.2 h-2.8 M396.7 842.6 h1.8" fill="none" stroke="#141414" stroke-width="1.42" />
<path d="M437.2 835.7 h2.8 v3.2 h-2.8 M438.2 837.3 h1.8" fill="none" stroke="#141414" stroke-width="1.42" />
<path d="M436.1 845.3 h2.8 v3.2 h-2.8 M437.1 846.9 h1.8" fill="none" stroke="#141414" stroke-width="1.42" />
<path d="M325.9 888.3 L502.3 894.7 L501.6 905 L499.2 913.8 L330.2 901.1Z" fill="none" stroke="#141414" stroke-width="1.65" />
<path d="M347 888.8 L351.4 885.1 L494.9 891.5 L502.3 894.7" fill="none" stroke="#141414" stroke-width="1.42" />
<path d="M328.6 890.6 L500 897" fill="none" stroke="#141414" stroke-width="1.06" />
<path d="M331 899 L499.6 911.4" fill="none" stroke="#141414" stroke-width="1.06" />
<path d="M353 887.4 L493 893.6" fill="none" stroke="#141414" stroke-width="0.94" />
<path d="M338.2 892.4 L341.4 892.5 L344.6 901.75 L341.4 901.45Z" fill="#333" stroke="#141414" stroke-width="1.77" />
<path d="M343.2 892.6 L346.2 901.85" fill="none" stroke="#141414" stroke-width="1.06" />
<path d="M360.5 893.21 L363.7 893.31 L366.9 903.42 L363.7 903.12Z" fill="#333" stroke="#141414" stroke-width="1.77" />
<path d="M365.5 893.41 L368.5 903.52" fill="none" stroke="#141414" stroke-width="1.06" />
<path d="M378.5 893.87 L381.7 893.97 L384.9 904.77 L381.7 904.47Z" fill="#333" stroke="#141414" stroke-width="1.77" />
<path d="M383.5 894.07 L386.5 904.87" fill="none" stroke="#141414" stroke-width="1.06" />
<path d="M394.5 894.45 L397.7 894.55 L400.9 905.97 L397.7 905.67Z" fill="#333" stroke="#141414" stroke-width="1.77" />
<path d="M399.5 894.65 L402.5 906.07" fill="none" stroke="#141414" stroke-width="1.06" />
<path d="M423.2 895.49 L426.4 895.59 L429.6 908.13 L426.4 907.83Z" fill="#333" stroke="#141414" stroke-width="1.77" />
<path d="M428.2 895.69 L431.2 908.23" fill="none" stroke="#141414" stroke-width="1.06" />
<path d="M435.9 895.95 L439.1 896.05 L442.3 909.08 L439.1 908.78Z" fill="#333" stroke="#141414" stroke-width="1.77" />
<path d="M440.9 896.15 L443.9 909.18" fill="none" stroke="#141414" stroke-width="1.06" />
<path d="M455.1 896.65 L458.3 896.75 L461.5 910.53 L458.3 910.23Z" fill="#333" stroke="#141414" stroke-width="1.77" />
<path d="M460.1 896.85 L463.1 910.63" fill="none" stroke="#141414" stroke-width="1.06" />
<path d="M477.4 897.46 L480.6 897.56 L483.8 912.2 L480.6 911.9Z" fill="#333" stroke="#141414" stroke-width="1.77" />
<path d="M482.4 897.66 L485.4 912.3" fill="none" stroke="#141414" stroke-width="1.06" />
<path d="M351 888.6 L420 891.4 L494 894.6" fill="none" stroke="#141414" stroke-width="1.89" stroke-dasharray="14 5"/>
<path d="M401.4 896.8 L422.6 898 L422.6 904.2 L401.4 903Z" fill="none" stroke="#141414" stroke-width="1.65" />
<path d="M403 900.6 L421 901.8" fill="none" stroke="#141414" stroke-width="1.89" />
<path d="M377 886.24 v-2.6 l1.2 -0.4 v3" fill="none" stroke="#141414" stroke-width="1.42" />
<path d="M428 888.52 v-2.6 l1.2 -0.4 v3" fill="none" stroke="#141414" stroke-width="1.42" />
<path d="M479 890.79 v-2.6 l1.2 -0.4 v3" fill="none" stroke="#141414" stroke-width="1.42" />
<path d="M414 889.6 L420 893.6 L432 894" fill="none" stroke="#141414" stroke-width="1.06" />
<path d="M497 896.8 L495.6 911.2" fill="none" stroke="#141414" stroke-width="1.06" />
<path d="M318.1 900.1 h3 M319.6 900.1 v2.6" fill="none" stroke="#141414" stroke-width="1.89" />
<path d="M508.3 912.2 h3 M509.8 912.2 v2.6" fill="none" stroke="#141414" stroke-width="1.89" />
</g>
<g id="fasteners" fill="none" stroke="#1c1c1c" stroke-width="1" stroke-linejoin="round" stroke-linecap="round">
<path d="M58.6 972.4 L60.4 969.8 L65.6 969 L71.4 969.8 L73.6 972.2 L73.4 974.6 L71 976.4 L65.6 977 L60.6 976.4 L58.6 974.6Z" fill="#1d1d1d" stroke="#141414" stroke-width="1.18" />
<path d="M61 971.6 L65.4 970.6 L71 971.6 M60.4 974.6 L71.6 974.4" fill="none" stroke="#fff" stroke-width="1.06" />
<path d="M59.6 978 L72.6 977.6 L74.6 980.6 L74.4 986.4 L70.6 990.6 L66 992.4 L61.6 990.4 L58 986.4 L57.8 981Z" fill="#1d1d1d" stroke="#141414" stroke-width="1.18" />
<path d="M60.4 983.4 h2.8 v4.4 h-2.8Z M68.6 982.6 l3.4 -1 l0 4.4 l-3.4 1Z" fill="#fff" stroke="none" stroke-width="0.71" />
<path d="M101 967.4 Q101.6 964.4 105 963.4 Q109.4 961.6 113.6 963.4 Q117 964.4 117.5 967.4 Q116 970 109.4 970.8 Q102.6 970 101 967.4Z" fill="#1d1d1d" stroke="#141414" stroke-width="1.18" />
<path d="M104 966.4 l2 -1.2 M108.6 964 l1.6 0 M112.6 965.2 l2 1.2 M105.6 968.6 l7.6 0" fill="none" stroke="#fff" stroke-width="1.06" />
<path d="M104.8 971.4 L114.2 971.4 L114.2 987 L112 990 L109.4 992.4 L106.8 990 L104.8 987Z" fill="#1d1d1d" stroke="#141414" stroke-width="1.18" />
<path d="M105.6 972.4 h5.6 v2.4 h-5.6Z" fill="#fff" stroke="none" stroke-width="0.71" />
<path d="M144.6 976 L150.6 976 L150.6 978.6 L144.6 978.6Z M142.4 980 L153.8 980.4 M142.4 981.6 L153.8 982 M148.6 982 L148.6 990 Q148.2 992.4 145.6 991.6 M146.6 982 L146.6 987" fill="none" stroke="#141414" stroke-width="1.3" />
<path d="M179 962.6 Q180 961 181 962.6 L181.4 972 L178.6 972Z" fill="#1d1d1d" stroke="#141414" stroke-width="1.18" />
<path d="M176 973.2 L184.6 973.8" fill="none" stroke="#141414" stroke-width="2.12" />
<path d="M179 974.6 L179.2 989.6 L180.6 991 L181 974.6 M180 974.6 L180 988" fill="none" stroke="#141414" stroke-width="1.3" />
<path d="M206 979.2 L218.6 979.2 Q219.2 981.6 218.4 983 L206.2 983 Q205.4 981.4 206 979.2Z" fill="#fff" stroke="#141414" stroke-width="1.42" />
<path d="M209 983.6 L216 983.6 L215.4 988 L212.6 990.2 L209.6 988Z" fill="#1d1d1d" stroke="#141414" stroke-width="1.18" />
<circle cx="212.5" cy="986.4" r="1" fill="#fff" stroke="none" stroke-width="0.59"/>
<path d="M242.2 978.4 L249.6 978.6 L249.8 981 L244 981 L244 989.8 L242.4 989.8Z" fill="#555" stroke="#141414" stroke-width="1.3" />
<path d="M245.6 982 L250.4 982.4 L250.4 988.6 L245.6 988.6Z" fill="#1d1d1d" stroke="#141414" stroke-width="1.18" />
<circle cx="248" cy="985.4" r="0.9" fill="#fff" stroke="none" stroke-width="0.59"/>
<path d="M274.6 975.4 L285.6 975.8" fill="none" stroke="#141414" stroke-width="2.12" />
<path d="M277.4 973.8 L282.6 973.8 L282.4 975 M278.4 976.8 L278.6 987.6 L280 990 L281.4 987.6 L281.6 976.8 M280 978 L280 987" fill="none" stroke="#141414" stroke-width="1.3" />
<path d="M310.2 978.6 L318 978.8" fill="none" stroke="#141414" stroke-width="1.89" />
<path d="M312 977.4 L316.4 977.4 M312.4 980 L312.6 988.6 L314.2 991 L315.8 988.6 L316 980 M314.2 981 L314.2 988 M312.6 983 h3.2 M312.6 985.6 h3.2" fill="none" stroke="#141414" stroke-width="1.18" />
<path d="M340 984.6 Q340.6 982.6 344 982.4 Q347.4 982.6 348 984.6 L347 987.6 L345.4 990.6 L342.8 990.6 L341 987.6Z" fill="#1d1d1d" stroke="#141414" stroke-width="1.18" />
<path d="M343 986.6 l2.2 0 l-0.4 2.6 l-1.4 0Z" fill="#fff" stroke="none" stroke-width="0.59" />
<path d="M375.6 985.6 Q375.4 983.2 379.6 983 Q383.8 983.2 383.8 985.6 L383.8 989.4 Q383.6 991.6 379.6 991.8 Q375.6 991.6 375.4 989.4Z" fill="#fff" stroke="#141414" stroke-width="1.3" />
<path d="M376 984.6 Q379.6 982.6 383.4 984.6 L383.2 986 Q379.6 984.6 376.2 986Z" fill="#1d1d1d" stroke="#141414" stroke-width="1.06" />
<path d="M377.8 986.6 V991 M379.8 986.8 V991.4 M381.8 986.6 V991" fill="none" stroke="#141414" stroke-width="1.06" />
<path d="M408.2 974.6 L420 975 M408.2 976.2 L420 976.6" fill="none" stroke="#141414" stroke-width="1.3" />
<path d="M411 971.4 L417 971.4 L417.4 974 M411 971.4 L410.6 974 M411.6 977.4 L411.8 986.6 L412.6 989.8 L415.4 989.8 L416.2 986.6 L416.4 977.4 M413 979 L413 987" fill="none" stroke="#141414" stroke-width="1.3" />
<path d="M454 965 Q455 963.4 456 965 L456.4 972.6 L453.6 972.6Z" fill="#1d1d1d" stroke="#141414" stroke-width="1.18" />
<path d="M450.4 973.4 L459.6 974.2" fill="none" stroke="#141414" stroke-width="2.12" />
<path d="M454 975 L454.2 987 L455 990 L456 987 L456.2 975" fill="none" stroke="#141414" stroke-width="1.3" />
<path d="M455.6 976 L455.8 986" fill="none" stroke="#141414" stroke-width="1.89" />
<path d="M492.2 980.6 Q492.6 979 497.2 978.8 Q502 979 502.4 980.6 L502.2 982.2 L492.4 982.2Z" fill="#1d1d1d" stroke="#141414" stroke-width="1.18" />
<path d="M495.2 982.6 L499.6 982.6 L500.4 986 L499.4 989.4 L497.4 991.8 L495.6 989.4 L494.6 986Z" fill="#1d1d1d" stroke="#141414" stroke-width="1.18" />
<path d="M531.4 983 Q532 982 533 983.4 L534 985 Q535.4 983 536.8 982.6 M534 985 L533.2 990" fill="none" stroke="#141414" stroke-width="1.3" />
<path d="M563.2 979.4 L574.4 979.8 M563.2 981 L574.4 981.4" fill="none" stroke="#141414" stroke-width="1.3" />
<path d="M566.6 977.2 L571.6 977.2 M570.8 981.6 L570.8 989 Q570.4 991.2 567.6 990.4 L567.6 988 M568.8 981.6 L568.8 986" fill="none" stroke="#141414" stroke-width="1.3" />
<path d="M602.2 978.6 Q608.8 975.6 615.4 978.6 L613.4 980.4 L604.2 980.4Z" fill="#fff" stroke="#141414" stroke-width="1.3" />
<path d="M604.6 979.4 L613 979.4" fill="none" stroke="#141414" stroke-width="1.65" />
<path d="M605.6 980.8 L612 980.8 L611.6 985 L610.2 988.6 L608.8 991 L607.4 988.6 L606 985Z" fill="#fff" stroke="#141414" stroke-width="1.3" />
<path d="M607.6 981.4 L608.8 989 L610.2 981.4" fill="none" stroke="#141414" stroke-width="1.65" />
<path d="M638.8 976 Q644.2 970 649.6 976Z" fill="#fff" stroke="#141414" stroke-width="1.3" />
<path d="M638.6 976.2 L649.8 976.2" fill="none" stroke="#141414" stroke-width="1.65" />
<path d="M643.4 976.6 L643.4 990 Q643.8 992 646 991.6 Q647.4 991 646.6 989.2" fill="none" stroke="#141414" stroke-width="1.3" />
<path d="M678.2 982 Q682.8 979 687.4 982Z" fill="#1d1d1d" stroke="#141414" stroke-width="1.18" />
<path d="M680.8 982.6 L684.8 982.6 L684.4 986 L682.8 990 L681.2 986Z" fill="#fff" stroke="#141414" stroke-width="1.18" />
<path d="M682.8 983 L682.8 989" fill="none" stroke="#141414" stroke-width="1.3" />
<path d="M720.4 980.6 L729.4 980.6 L730.2 982 L730.2 987.6 L719.6 987.6 L719.6 982Z" fill="#fff" stroke="#141414" stroke-width="1.3" />
<path d="M720 982 L730 982 M722.6 982.2 V987.4 M725 982.2 V987.4 M727.4 982.2 V987.4" fill="none" stroke="#141414" stroke-width="1.18" />
<path d="M717.6 988 L732.8 988 L733 990.6 L717.6 990.6Z" fill="#fff" stroke="#141414" stroke-width="1.3" />
<path d="M718 989.4 L732.6 989.4" fill="none" stroke="#141414" stroke-width="1.65" />
<path d="M767 978.6 L769.6 978 L769.8 990.6 L767.2 990Z M774.6 977.8 L777.2 978.6 L777 989.6 L774.6 990.4Z" fill="#fff" stroke="#141414" stroke-width="1.3" />
<path d="M769.8 981 L774.6 981 L774.6 987.6 L769.8 987.6Z" fill="#444" stroke="#141414" stroke-width="1.18" />
<path d="M771 983 h2.4 v2.4 h-2.4Z" fill="#fff" stroke="none" stroke-width="0.59" />
<path d="M823.6 972 L825 969.2 L831.4 969.2 L832.8 972Z" fill="#fff" stroke="#141414" stroke-width="1.3" />
<path d="M826.8 969.4 V972 M829.6 969.4 V972" fill="none" stroke="#141414" stroke-width="1.06" />
<path d="M820.8 973.6 Q821.4 972.2 828.2 972 Q835 972.2 835.6 973.6 L835 975.6 L821.4 975.6Z" fill="#fff" stroke="#141414" stroke-width="1.3" />
<path d="M821.6 974.4 L835 974.4" fill="none" stroke="#141414" stroke-width="1.65" />
<path d="M824.6 976 L831.8 976 L831.6 986 L830.6 988 L830.6 991 L826 991 L826 988 L825 986Z" fill="#fff" stroke="#141414" stroke-width="1.3" />
<path d="M826.8 977 V990 M829.4 977 V990 M825.6 986.6 h5.4" fill="none" stroke="#141414" stroke-width="1.18" />
</g>
<g id="leaders" stroke="#1e1e1e" stroke-width="1.15">
<line x1="626" y1="183" x2="670" y2="185.5"/>
<line x1="397.5" y1="217" x2="421" y2="217"/>
<line x1="642.5" y1="279" x2="659.5" y2="270.5"/>
<line x1="577" y1="309" x2="609.5" y2="320"/>
<line x1="574" y1="335.5" x2="583" y2="344.5"/>
<line x1="333" y1="331.5" x2="350.5" y2="341.5"/>
<line x1="650.5" y1="372" x2="676" y2="352.5"/>
<line x1="410" y1="343.75" x2="426" y2="337.5"/>
<line x1="414.5" y1="347" x2="427" y2="340"/>
<line x1="521" y1="348.75" x2="530" y2="356"/>
<line x1="524.5" y1="347.5" x2="536" y2="355"/>
<line x1="393.75" y1="375" x2="398" y2="375"/>
<line x1="550" y1="390" x2="566" y2="392.5"/>
<line x1="417.5" y1="370" x2="438" y2="390"/>
<line x1="508.75" y1="391" x2="520.5" y2="380"/>
<line x1="275.5" y1="380.5" x2="283.75" y2="388.75"/>
<line x1="735" y1="431.75" x2="755.5" y2="420.5"/>
<line x1="261" y1="428.75" x2="281" y2="434.5"/>
<line x1="723.75" y1="474.25" x2="768.75" y2="470"/>
<line x1="261" y1="477" x2="270.75" y2="477"/>
<line x1="708.75" y1="514.5" x2="743" y2="514.5"/>
<line x1="343.75" y1="496" x2="365.5" y2="493.75"/>
<line x1="415" y1="456" x2="411" y2="481"/>
<line x1="508.75" y1="499.5" x2="532.5" y2="508.75"/>
<line x1="464.5" y1="522.5" x2="484.5" y2="526"/>
<line x1="350" y1="550" x2="365.5" y2="557"/>
<line x1="340" y1="645" x2="362" y2="640.5"/>
<line x1="293.75" y1="586.25" x2="310" y2="592.5"/>
<line x1="608.75" y1="613.75" x2="625.5" y2="605"/>
<line x1="512.5" y1="708.75" x2="537.5" y2="708.75"/>
<line x1="346.25" y1="716.25" x2="355.5" y2="738"/>
<line x1="606.25" y1="778" x2="642" y2="778"/>
<line x1="446.25" y1="835.75" x2="485" y2="832"/>
<line x1="359.25" y1="858.75" x2="363.75" y2="885"/>
<line x1="299.5" y1="868" x2="319.5" y2="898.75"/>
<line x1="532.5" y1="885" x2="511" y2="910"/>
<line x1="58.25" y1="929.5" x2="64.5" y2="968.75"/>
<line x1="109.5" y1="991" x2="109.5" y2="1010.5"/>
<line x1="142.25" y1="935.5" x2="146.5" y2="976"/>
<line x1="180" y1="991" x2="180" y2="1004.5"/>
<line x1="209.5" y1="937" x2="212.5" y2="979.5"/>
<line x1="243.75" y1="990" x2="244.5" y2="1010"/>
<line x1="277.5" y1="941" x2="277.5" y2="973.75"/>
<line x1="313" y1="990" x2="315.5" y2="1008.75"/>
<line x1="344.5" y1="946.25" x2="344.5" y2="983"/>
<line x1="380" y1="991.75" x2="380" y2="1009"/>
<line x1="413.75" y1="958" x2="414" y2="972"/>
<line x1="454.5" y1="990" x2="453.75" y2="1013.75"/>
<line x1="497.5" y1="961" x2="496.75" y2="979"/>
<line x1="533" y1="990" x2="533" y2="1017"/>
<line x1="568.75" y1="944" x2="568.75" y2="977"/>
<line x1="607.5" y1="990" x2="610" y2="1020"/>
<line x1="643" y1="942.5" x2="643" y2="972.5"/>
<line x1="682.5" y1="990" x2="682.5" y2="1004"/>
<line x1="724.5" y1="944" x2="722.5" y2="980.5"/>
<line x1="771.75" y1="990" x2="771.75" y2="1003"/>
<line x1="828.75" y1="936" x2="828" y2="969.5"/>
</g>
<g id="labels" style="will-change:opacity">
<text x="681" y="195.57">4</text>
<text x="374.5" y="224.57">6</text>
<text x="667.25" y="270.82">1</text>
<text x="620.25" y="333.7">2</text>
<text x="588.62" y="365.57">3</text>
<text x="312.88" y="330.45">5</text>
<text x="683.38" y="349.7">5</text>
<text x="426.12" y="337.57">41</text>
<text x="494.12" y="346.32">41</text>
<text x="362.25" y="384.57">40</text>
<text x="570.25" y="403.32">40</text>
<text x="436.88" y="409.7">42</text>
<text x="482.88" y="411.7">42</text>
<text x="257.38" y="376.82">9</text>
<text x="764.88" y="421.07">9</text>
<text x="231.5" y="432.57">10</text>
<text x="772.38" y="476.07">10</text>
<text x="230.75" y="485.32">11</text>
<text x="747.38" y="522.08">11</text>
<text x="313.5" y="506.45">12</text>
<text x="403" y="505.57">7</text>
<text x="535.75" y="521.58">13</text>
<text x="488.75" y="537.58">14</text>
<text x="320.88" y="550.2">15</text>
<text x="309.62" y="655.95">15</text>
<text x="265.25" y="588.38">16</text>
<text x="628.5" y="605.33">16</text>
<text x="541.25" y="716.58">17</text>
<text x="327.25" y="708.58">18</text>
<text x="646" y="785.83">19</text>
<text x="488.62" y="839.33">20</text>
<text x="343.38" y="849.33">43</text>
<text x="277.88" y="861.83">44</text>
<text x="529.62" y="879.58">44</text>
<text x="50.5" y="921.2">2</text>
<text x="127" y="927.2">21</text>
<text x="194.75" y="928.58">23</text>
<text x="263.88" y="932.08">25</text>
<text x="331" y="937.45">27</text>
<text x="399.75" y="949.58">29</text>
<text x="484.38" y="952.33">31</text>
<text x="555.62" y="934.83">33</text>
<text x="629.5" y="933.58">35</text>
<text x="712.38" y="934.83">37</text>
<text x="816.12" y="927.33">39</text>
<text x="103.38" y="1035.58">3</text>
<text x="168" y="1030.7">22</text>
<text x="232.75" y="1035.7">24</text>
<text x="304" y="1033.58">26</text>
<text x="367" y="1034.08">28</text>
<text x="440.25" y="1038.08">30</text>
<text x="520.62" y="1042.33">32</text>
<text x="598.62" y="1045.58">34</text>
<text x="669.88" y="1029.83">36</text>
<text x="758.88" y="1027.83">38</text>
</g>
</svg></body></html>
